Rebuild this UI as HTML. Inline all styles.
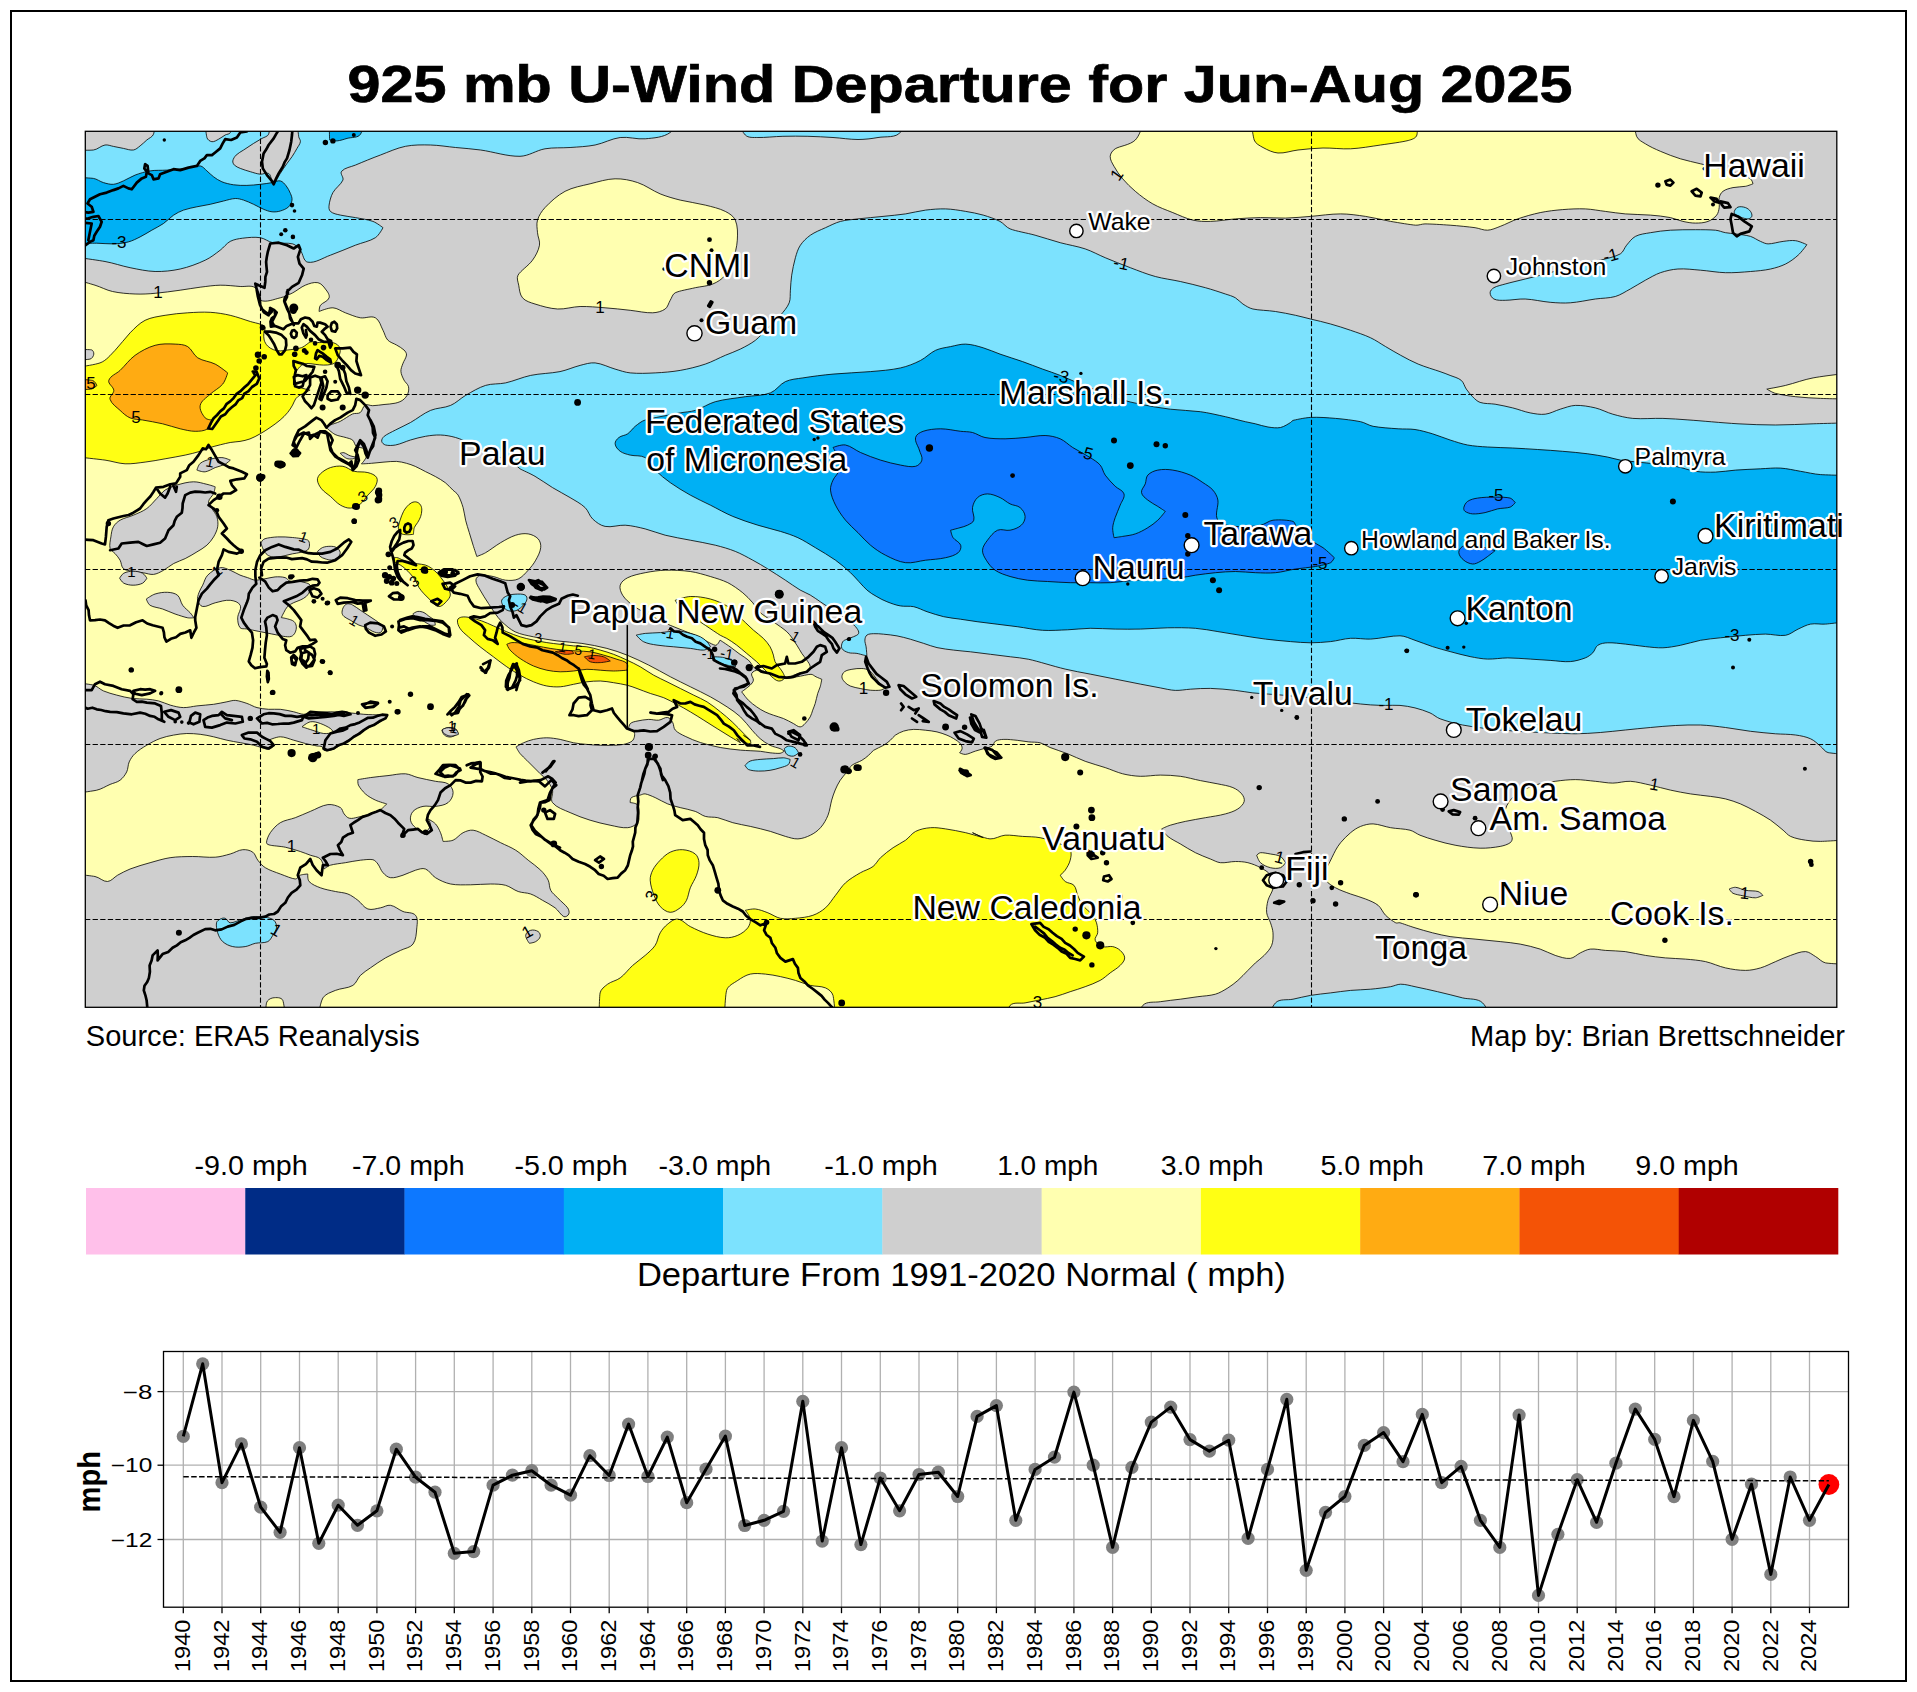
<!DOCTYPE html>
<html><head><meta charset="utf-8"><title>925 mb U-Wind Departure</title>
<style>html,body{margin:0;padding:0;background:#fff}svg{display:block}text{font-family:"Liberation Sans",sans-serif}</style></head>
<body><svg width="1917" height="1692" viewBox="0 0 1917 1692">
<rect width="1917" height="1692" fill="#fff"/>
<rect x="11" y="11" width="1895" height="1670" fill="#fff" stroke="#000" stroke-width="2"/>
<text x="347.5" y="102.4" font-family="Liberation Sans, sans-serif" font-weight="bold" font-size="52" stroke="#000" stroke-width="0.7" textLength="1225" lengthAdjust="spacingAndGlyphs">925 mb U-Wind Departure for Jun-Aug 2025</text>
<text x="85.8" y="1045.6" font-family="Liberation Sans, sans-serif" font-size="28.6" textLength="334" lengthAdjust="spacingAndGlyphs">Source: ERA5 Reanalysis</text>
<text x="1470" y="1045.6" font-family="Liberation Sans, sans-serif" font-size="28.6" textLength="375" lengthAdjust="spacingAndGlyphs">Map by: Brian Brettschneider</text>
<rect x="86.00" y="1188" width="159.57" height="66.5" fill="#ffc0ea"/>
<rect x="245.27" y="1188" width="159.57" height="66.5" fill="#002c86"/>
<rect x="404.55" y="1188" width="159.57" height="66.5" fill="#0d78ff"/>
<rect x="563.82" y="1188" width="159.57" height="66.5" fill="#00b0f4"/>
<rect x="723.09" y="1188" width="159.57" height="66.5" fill="#7ce2fe"/>
<rect x="882.36" y="1188" width="159.57" height="66.5" fill="#cfcfcf"/>
<rect x="1041.64" y="1188" width="159.57" height="66.5" fill="#ffffb0"/>
<rect x="1200.91" y="1188" width="159.57" height="66.5" fill="#ffff14"/>
<rect x="1360.18" y="1188" width="159.57" height="66.5" fill="#ffab12"/>
<rect x="1519.45" y="1188" width="159.57" height="66.5" fill="#f45306"/>
<rect x="1678.73" y="1188" width="159.57" height="66.5" fill="#b00000"/>
<text x="194.5" y="1175.4" font-family="Liberation Sans, sans-serif" font-size="27" textLength="113.2" lengthAdjust="spacingAndGlyphs">-9.0 mph</text>
<text x="352.1" y="1175.4" font-family="Liberation Sans, sans-serif" font-size="27" textLength="112.5" lengthAdjust="spacingAndGlyphs">-7.0 mph</text>
<text x="514.4" y="1175.4" font-family="Liberation Sans, sans-serif" font-size="27" textLength="113.2" lengthAdjust="spacingAndGlyphs">-5.0 mph</text>
<text x="658.6" y="1175.4" font-family="Liberation Sans, sans-serif" font-size="27" textLength="112.6" lengthAdjust="spacingAndGlyphs">-3.0 mph</text>
<text x="824.2" y="1175.4" font-family="Liberation Sans, sans-serif" font-size="27" textLength="113.6" lengthAdjust="spacingAndGlyphs">-1.0 mph</text>
<text x="997.2" y="1175.4" font-family="Liberation Sans, sans-serif" font-size="27" textLength="101.2" lengthAdjust="spacingAndGlyphs">1.0 mph</text>
<text x="1160.8" y="1175.4" font-family="Liberation Sans, sans-serif" font-size="27" textLength="102.8" lengthAdjust="spacingAndGlyphs">3.0 mph</text>
<text x="1320.4" y="1175.4" font-family="Liberation Sans, sans-serif" font-size="27" textLength="103.5" lengthAdjust="spacingAndGlyphs">5.0 mph</text>
<text x="1482.3" y="1175.4" font-family="Liberation Sans, sans-serif" font-size="27" textLength="103.5" lengthAdjust="spacingAndGlyphs">7.0 mph</text>
<text x="1635.3" y="1175.4" font-family="Liberation Sans, sans-serif" font-size="27" textLength="103.5" lengthAdjust="spacingAndGlyphs">9.0 mph</text>
<text x="636.9" y="1285.9" font-family="Liberation Sans, sans-serif" font-size="32.6" textLength="649" lengthAdjust="spacingAndGlyphs" xml:space="preserve">Departure From 1991-2020 Normal ( mph)</text>
<rect x="163.5" y="1351.5" width="1685.0" height="255.70000000000005" fill="#fff"/>
<line x1="183.3" y1="1351.5" x2="183.3" y2="1607.2" stroke="#b0b0b0" stroke-width="1.3"/>
<line x1="183.3" y1="1607.2" x2="183.3" y2="1613.2" stroke="#000" stroke-width="1.3"/>
<line x1="222.0" y1="1351.5" x2="222.0" y2="1607.2" stroke="#b0b0b0" stroke-width="1.3"/>
<line x1="222.0" y1="1607.2" x2="222.0" y2="1613.2" stroke="#000" stroke-width="1.3"/>
<line x1="260.7" y1="1351.5" x2="260.7" y2="1607.2" stroke="#b0b0b0" stroke-width="1.3"/>
<line x1="260.7" y1="1607.2" x2="260.7" y2="1613.2" stroke="#000" stroke-width="1.3"/>
<line x1="299.5" y1="1351.5" x2="299.5" y2="1607.2" stroke="#b0b0b0" stroke-width="1.3"/>
<line x1="299.5" y1="1607.2" x2="299.5" y2="1613.2" stroke="#000" stroke-width="1.3"/>
<line x1="338.2" y1="1351.5" x2="338.2" y2="1607.2" stroke="#b0b0b0" stroke-width="1.3"/>
<line x1="338.2" y1="1607.2" x2="338.2" y2="1613.2" stroke="#000" stroke-width="1.3"/>
<line x1="376.9" y1="1351.5" x2="376.9" y2="1607.2" stroke="#b0b0b0" stroke-width="1.3"/>
<line x1="376.9" y1="1607.2" x2="376.9" y2="1613.2" stroke="#000" stroke-width="1.3"/>
<line x1="415.6" y1="1351.5" x2="415.6" y2="1607.2" stroke="#b0b0b0" stroke-width="1.3"/>
<line x1="415.6" y1="1607.2" x2="415.6" y2="1613.2" stroke="#000" stroke-width="1.3"/>
<line x1="454.3" y1="1351.5" x2="454.3" y2="1607.2" stroke="#b0b0b0" stroke-width="1.3"/>
<line x1="454.3" y1="1607.2" x2="454.3" y2="1613.2" stroke="#000" stroke-width="1.3"/>
<line x1="493.1" y1="1351.5" x2="493.1" y2="1607.2" stroke="#b0b0b0" stroke-width="1.3"/>
<line x1="493.1" y1="1607.2" x2="493.1" y2="1613.2" stroke="#000" stroke-width="1.3"/>
<line x1="531.8" y1="1351.5" x2="531.8" y2="1607.2" stroke="#b0b0b0" stroke-width="1.3"/>
<line x1="531.8" y1="1607.2" x2="531.8" y2="1613.2" stroke="#000" stroke-width="1.3"/>
<line x1="570.5" y1="1351.5" x2="570.5" y2="1607.2" stroke="#b0b0b0" stroke-width="1.3"/>
<line x1="570.5" y1="1607.2" x2="570.5" y2="1613.2" stroke="#000" stroke-width="1.3"/>
<line x1="609.2" y1="1351.5" x2="609.2" y2="1607.2" stroke="#b0b0b0" stroke-width="1.3"/>
<line x1="609.2" y1="1607.2" x2="609.2" y2="1613.2" stroke="#000" stroke-width="1.3"/>
<line x1="647.9" y1="1351.5" x2="647.9" y2="1607.2" stroke="#b0b0b0" stroke-width="1.3"/>
<line x1="647.9" y1="1607.2" x2="647.9" y2="1613.2" stroke="#000" stroke-width="1.3"/>
<line x1="686.7" y1="1351.5" x2="686.7" y2="1607.2" stroke="#b0b0b0" stroke-width="1.3"/>
<line x1="686.7" y1="1607.2" x2="686.7" y2="1613.2" stroke="#000" stroke-width="1.3"/>
<line x1="725.4" y1="1351.5" x2="725.4" y2="1607.2" stroke="#b0b0b0" stroke-width="1.3"/>
<line x1="725.4" y1="1607.2" x2="725.4" y2="1613.2" stroke="#000" stroke-width="1.3"/>
<line x1="764.1" y1="1351.5" x2="764.1" y2="1607.2" stroke="#b0b0b0" stroke-width="1.3"/>
<line x1="764.1" y1="1607.2" x2="764.1" y2="1613.2" stroke="#000" stroke-width="1.3"/>
<line x1="802.8" y1="1351.5" x2="802.8" y2="1607.2" stroke="#b0b0b0" stroke-width="1.3"/>
<line x1="802.8" y1="1607.2" x2="802.8" y2="1613.2" stroke="#000" stroke-width="1.3"/>
<line x1="841.5" y1="1351.5" x2="841.5" y2="1607.2" stroke="#b0b0b0" stroke-width="1.3"/>
<line x1="841.5" y1="1607.2" x2="841.5" y2="1613.2" stroke="#000" stroke-width="1.3"/>
<line x1="880.3" y1="1351.5" x2="880.3" y2="1607.2" stroke="#b0b0b0" stroke-width="1.3"/>
<line x1="880.3" y1="1607.2" x2="880.3" y2="1613.2" stroke="#000" stroke-width="1.3"/>
<line x1="919.0" y1="1351.5" x2="919.0" y2="1607.2" stroke="#b0b0b0" stroke-width="1.3"/>
<line x1="919.0" y1="1607.2" x2="919.0" y2="1613.2" stroke="#000" stroke-width="1.3"/>
<line x1="957.7" y1="1351.5" x2="957.7" y2="1607.2" stroke="#b0b0b0" stroke-width="1.3"/>
<line x1="957.7" y1="1607.2" x2="957.7" y2="1613.2" stroke="#000" stroke-width="1.3"/>
<line x1="996.4" y1="1351.5" x2="996.4" y2="1607.2" stroke="#b0b0b0" stroke-width="1.3"/>
<line x1="996.4" y1="1607.2" x2="996.4" y2="1613.2" stroke="#000" stroke-width="1.3"/>
<line x1="1035.1" y1="1351.5" x2="1035.1" y2="1607.2" stroke="#b0b0b0" stroke-width="1.3"/>
<line x1="1035.1" y1="1607.2" x2="1035.1" y2="1613.2" stroke="#000" stroke-width="1.3"/>
<line x1="1073.9" y1="1351.5" x2="1073.9" y2="1607.2" stroke="#b0b0b0" stroke-width="1.3"/>
<line x1="1073.9" y1="1607.2" x2="1073.9" y2="1613.2" stroke="#000" stroke-width="1.3"/>
<line x1="1112.6" y1="1351.5" x2="1112.6" y2="1607.2" stroke="#b0b0b0" stroke-width="1.3"/>
<line x1="1112.6" y1="1607.2" x2="1112.6" y2="1613.2" stroke="#000" stroke-width="1.3"/>
<line x1="1151.3" y1="1351.5" x2="1151.3" y2="1607.2" stroke="#b0b0b0" stroke-width="1.3"/>
<line x1="1151.3" y1="1607.2" x2="1151.3" y2="1613.2" stroke="#000" stroke-width="1.3"/>
<line x1="1190.0" y1="1351.5" x2="1190.0" y2="1607.2" stroke="#b0b0b0" stroke-width="1.3"/>
<line x1="1190.0" y1="1607.2" x2="1190.0" y2="1613.2" stroke="#000" stroke-width="1.3"/>
<line x1="1228.7" y1="1351.5" x2="1228.7" y2="1607.2" stroke="#b0b0b0" stroke-width="1.3"/>
<line x1="1228.7" y1="1607.2" x2="1228.7" y2="1613.2" stroke="#000" stroke-width="1.3"/>
<line x1="1267.5" y1="1351.5" x2="1267.5" y2="1607.2" stroke="#b0b0b0" stroke-width="1.3"/>
<line x1="1267.5" y1="1607.2" x2="1267.5" y2="1613.2" stroke="#000" stroke-width="1.3"/>
<line x1="1306.2" y1="1351.5" x2="1306.2" y2="1607.2" stroke="#b0b0b0" stroke-width="1.3"/>
<line x1="1306.2" y1="1607.2" x2="1306.2" y2="1613.2" stroke="#000" stroke-width="1.3"/>
<line x1="1344.9" y1="1351.5" x2="1344.9" y2="1607.2" stroke="#b0b0b0" stroke-width="1.3"/>
<line x1="1344.9" y1="1607.2" x2="1344.9" y2="1613.2" stroke="#000" stroke-width="1.3"/>
<line x1="1383.6" y1="1351.5" x2="1383.6" y2="1607.2" stroke="#b0b0b0" stroke-width="1.3"/>
<line x1="1383.6" y1="1607.2" x2="1383.6" y2="1613.2" stroke="#000" stroke-width="1.3"/>
<line x1="1422.3" y1="1351.5" x2="1422.3" y2="1607.2" stroke="#b0b0b0" stroke-width="1.3"/>
<line x1="1422.3" y1="1607.2" x2="1422.3" y2="1613.2" stroke="#000" stroke-width="1.3"/>
<line x1="1461.1" y1="1351.5" x2="1461.1" y2="1607.2" stroke="#b0b0b0" stroke-width="1.3"/>
<line x1="1461.1" y1="1607.2" x2="1461.1" y2="1613.2" stroke="#000" stroke-width="1.3"/>
<line x1="1499.8" y1="1351.5" x2="1499.8" y2="1607.2" stroke="#b0b0b0" stroke-width="1.3"/>
<line x1="1499.8" y1="1607.2" x2="1499.8" y2="1613.2" stroke="#000" stroke-width="1.3"/>
<line x1="1538.5" y1="1351.5" x2="1538.5" y2="1607.2" stroke="#b0b0b0" stroke-width="1.3"/>
<line x1="1538.5" y1="1607.2" x2="1538.5" y2="1613.2" stroke="#000" stroke-width="1.3"/>
<line x1="1577.2" y1="1351.5" x2="1577.2" y2="1607.2" stroke="#b0b0b0" stroke-width="1.3"/>
<line x1="1577.2" y1="1607.2" x2="1577.2" y2="1613.2" stroke="#000" stroke-width="1.3"/>
<line x1="1615.9" y1="1351.5" x2="1615.9" y2="1607.2" stroke="#b0b0b0" stroke-width="1.3"/>
<line x1="1615.9" y1="1607.2" x2="1615.9" y2="1613.2" stroke="#000" stroke-width="1.3"/>
<line x1="1654.7" y1="1351.5" x2="1654.7" y2="1607.2" stroke="#b0b0b0" stroke-width="1.3"/>
<line x1="1654.7" y1="1607.2" x2="1654.7" y2="1613.2" stroke="#000" stroke-width="1.3"/>
<line x1="1693.4" y1="1351.5" x2="1693.4" y2="1607.2" stroke="#b0b0b0" stroke-width="1.3"/>
<line x1="1693.4" y1="1607.2" x2="1693.4" y2="1613.2" stroke="#000" stroke-width="1.3"/>
<line x1="1732.1" y1="1351.5" x2="1732.1" y2="1607.2" stroke="#b0b0b0" stroke-width="1.3"/>
<line x1="1732.1" y1="1607.2" x2="1732.1" y2="1613.2" stroke="#000" stroke-width="1.3"/>
<line x1="1770.8" y1="1351.5" x2="1770.8" y2="1607.2" stroke="#b0b0b0" stroke-width="1.3"/>
<line x1="1770.8" y1="1607.2" x2="1770.8" y2="1613.2" stroke="#000" stroke-width="1.3"/>
<line x1="1809.5" y1="1351.5" x2="1809.5" y2="1607.2" stroke="#b0b0b0" stroke-width="1.3"/>
<line x1="1809.5" y1="1607.2" x2="1809.5" y2="1613.2" stroke="#000" stroke-width="1.3"/>
<line x1="163.5" y1="1391.6" x2="1848.5" y2="1391.6" stroke="#b0b0b0" stroke-width="1.3"/>
<line x1="157.5" y1="1391.6" x2="163.5" y2="1391.6" stroke="#000" stroke-width="1.3"/>
<line x1="163.5" y1="1465.2" x2="1848.5" y2="1465.2" stroke="#b0b0b0" stroke-width="1.3"/>
<line x1="157.5" y1="1465.2" x2="163.5" y2="1465.2" stroke="#000" stroke-width="1.3"/>
<line x1="163.5" y1="1539.5" x2="1848.5" y2="1539.5" stroke="#b0b0b0" stroke-width="1.3"/>
<line x1="157.5" y1="1539.5" x2="163.5" y2="1539.5" stroke="#000" stroke-width="1.3"/>
<circle cx="183.3" cy="1436.4" r="6.6" fill="#7f7f7f"/>
<circle cx="202.7" cy="1363.8" r="6.6" fill="#7f7f7f"/>
<circle cx="222.0" cy="1482.7" r="6.6" fill="#7f7f7f"/>
<circle cx="241.4" cy="1443.9" r="6.6" fill="#7f7f7f"/>
<circle cx="260.7" cy="1507.2" r="6.6" fill="#7f7f7f"/>
<circle cx="280.1" cy="1532.3" r="6.6" fill="#7f7f7f"/>
<circle cx="299.5" cy="1447.7" r="6.6" fill="#7f7f7f"/>
<circle cx="318.8" cy="1543.3" r="6.6" fill="#7f7f7f"/>
<circle cx="338.2" cy="1505.2" r="6.6" fill="#7f7f7f"/>
<circle cx="357.5" cy="1525.3" r="6.6" fill="#7f7f7f"/>
<circle cx="376.9" cy="1510.8" r="6.6" fill="#7f7f7f"/>
<circle cx="396.3" cy="1449.2" r="6.6" fill="#7f7f7f"/>
<circle cx="415.6" cy="1477.2" r="6.6" fill="#7f7f7f"/>
<circle cx="435.0" cy="1492.2" r="6.6" fill="#7f7f7f"/>
<circle cx="454.3" cy="1553.3" r="6.6" fill="#7f7f7f"/>
<circle cx="473.7" cy="1551.6" r="6.6" fill="#7f7f7f"/>
<circle cx="493.1" cy="1485.2" r="6.6" fill="#7f7f7f"/>
<circle cx="512.4" cy="1475.2" r="6.6" fill="#7f7f7f"/>
<circle cx="531.8" cy="1470.7" r="6.6" fill="#7f7f7f"/>
<circle cx="551.1" cy="1485.2" r="6.6" fill="#7f7f7f"/>
<circle cx="570.5" cy="1495.2" r="6.6" fill="#7f7f7f"/>
<circle cx="589.9" cy="1455.7" r="6.6" fill="#7f7f7f"/>
<circle cx="609.2" cy="1475.5" r="6.6" fill="#7f7f7f"/>
<circle cx="628.6" cy="1424.1" r="6.6" fill="#7f7f7f"/>
<circle cx="647.9" cy="1476.5" r="6.6" fill="#7f7f7f"/>
<circle cx="667.3" cy="1437.1" r="6.6" fill="#7f7f7f"/>
<circle cx="686.7" cy="1502.7" r="6.6" fill="#7f7f7f"/>
<circle cx="706.0" cy="1469.2" r="6.6" fill="#7f7f7f"/>
<circle cx="725.4" cy="1436.1" r="6.6" fill="#7f7f7f"/>
<circle cx="744.7" cy="1525.5" r="6.6" fill="#7f7f7f"/>
<circle cx="764.1" cy="1520.3" r="6.6" fill="#7f7f7f"/>
<circle cx="783.5" cy="1511.3" r="6.6" fill="#7f7f7f"/>
<circle cx="802.8" cy="1401.3" r="6.6" fill="#7f7f7f"/>
<circle cx="822.2" cy="1541.1" r="6.6" fill="#7f7f7f"/>
<circle cx="841.5" cy="1447.7" r="6.6" fill="#7f7f7f"/>
<circle cx="860.9" cy="1544.6" r="6.6" fill="#7f7f7f"/>
<circle cx="880.3" cy="1478.0" r="6.6" fill="#7f7f7f"/>
<circle cx="899.6" cy="1510.8" r="6.6" fill="#7f7f7f"/>
<circle cx="919.0" cy="1474.5" r="6.6" fill="#7f7f7f"/>
<circle cx="938.3" cy="1472.2" r="6.6" fill="#7f7f7f"/>
<circle cx="957.7" cy="1496.5" r="6.6" fill="#7f7f7f"/>
<circle cx="977.1" cy="1416.4" r="6.6" fill="#7f7f7f"/>
<circle cx="996.4" cy="1405.6" r="6.6" fill="#7f7f7f"/>
<circle cx="1015.8" cy="1520.3" r="6.6" fill="#7f7f7f"/>
<circle cx="1035.1" cy="1469.4" r="6.6" fill="#7f7f7f"/>
<circle cx="1054.5" cy="1457.2" r="6.6" fill="#7f7f7f"/>
<circle cx="1073.9" cy="1392.1" r="6.6" fill="#7f7f7f"/>
<circle cx="1093.2" cy="1465.2" r="6.6" fill="#7f7f7f"/>
<circle cx="1112.6" cy="1547.3" r="6.6" fill="#7f7f7f"/>
<circle cx="1131.9" cy="1467.4" r="6.6" fill="#7f7f7f"/>
<circle cx="1151.3" cy="1422.1" r="6.6" fill="#7f7f7f"/>
<circle cx="1170.7" cy="1407.1" r="6.6" fill="#7f7f7f"/>
<circle cx="1190.0" cy="1439.6" r="6.6" fill="#7f7f7f"/>
<circle cx="1209.4" cy="1451.2" r="6.6" fill="#7f7f7f"/>
<circle cx="1228.7" cy="1440.2" r="6.6" fill="#7f7f7f"/>
<circle cx="1248.1" cy="1538.3" r="6.6" fill="#7f7f7f"/>
<circle cx="1267.5" cy="1469.4" r="6.6" fill="#7f7f7f"/>
<circle cx="1286.8" cy="1399.3" r="6.6" fill="#7f7f7f"/>
<circle cx="1306.2" cy="1570.3" r="6.6" fill="#7f7f7f"/>
<circle cx="1325.5" cy="1512.3" r="6.6" fill="#7f7f7f"/>
<circle cx="1344.9" cy="1496.5" r="6.6" fill="#7f7f7f"/>
<circle cx="1364.3" cy="1445.4" r="6.6" fill="#7f7f7f"/>
<circle cx="1383.6" cy="1432.6" r="6.6" fill="#7f7f7f"/>
<circle cx="1403.0" cy="1461.7" r="6.6" fill="#7f7f7f"/>
<circle cx="1422.3" cy="1414.4" r="6.6" fill="#7f7f7f"/>
<circle cx="1441.7" cy="1482.7" r="6.6" fill="#7f7f7f"/>
<circle cx="1461.1" cy="1466.4" r="6.6" fill="#7f7f7f"/>
<circle cx="1480.4" cy="1520.3" r="6.6" fill="#7f7f7f"/>
<circle cx="1499.8" cy="1547.4" r="6.6" fill="#7f7f7f"/>
<circle cx="1519.1" cy="1415.1" r="6.6" fill="#7f7f7f"/>
<circle cx="1538.5" cy="1595.4" r="6.6" fill="#7f7f7f"/>
<circle cx="1557.9" cy="1534.3" r="6.6" fill="#7f7f7f"/>
<circle cx="1577.2" cy="1479.7" r="6.6" fill="#7f7f7f"/>
<circle cx="1596.6" cy="1522.3" r="6.6" fill="#7f7f7f"/>
<circle cx="1615.9" cy="1463.2" r="6.6" fill="#7f7f7f"/>
<circle cx="1635.3" cy="1409.1" r="6.6" fill="#7f7f7f"/>
<circle cx="1654.7" cy="1439.4" r="6.6" fill="#7f7f7f"/>
<circle cx="1674.0" cy="1496.7" r="6.6" fill="#7f7f7f"/>
<circle cx="1693.4" cy="1420.4" r="6.6" fill="#7f7f7f"/>
<circle cx="1712.7" cy="1461.4" r="6.6" fill="#7f7f7f"/>
<circle cx="1732.1" cy="1539.3" r="6.6" fill="#7f7f7f"/>
<circle cx="1751.5" cy="1484.2" r="6.6" fill="#7f7f7f"/>
<circle cx="1770.8" cy="1574.4" r="6.6" fill="#7f7f7f"/>
<circle cx="1790.2" cy="1477.0" r="6.6" fill="#7f7f7f"/>
<circle cx="1809.5" cy="1520.3" r="6.6" fill="#7f7f7f"/>
<circle cx="1828.9" cy="1484.5" r="10.4" fill="#ff0000"/>
<line x1="183.3" y1="1476.7" x2="1828.9" y2="1480.8" stroke="#000" stroke-width="1.5" stroke-dasharray="5.5,2.4"/>
<polyline points="183.3,1436.4 202.7,1363.8 222.0,1482.7 241.4,1443.9 260.7,1507.2 280.1,1532.3 299.5,1447.7 318.8,1543.3 338.2,1505.2 357.5,1525.3 376.9,1510.8 396.3,1449.2 415.6,1477.2 435.0,1492.2 454.3,1553.3 473.7,1551.6 493.1,1485.2 512.4,1475.2 531.8,1470.7 551.1,1485.2 570.5,1495.2 589.9,1455.7 609.2,1475.5 628.6,1424.1 647.9,1476.5 667.3,1437.1 686.7,1502.7 706.0,1469.2 725.4,1436.1 744.7,1525.5 764.1,1520.3 783.5,1511.3 802.8,1401.3 822.2,1541.1 841.5,1447.7 860.9,1544.6 880.3,1478.0 899.6,1510.8 919.0,1474.5 938.3,1472.2 957.7,1496.5 977.1,1416.4 996.4,1405.6 1015.8,1520.3 1035.1,1469.4 1054.5,1457.2 1073.9,1392.1 1093.2,1465.2 1112.6,1547.3 1131.9,1467.4 1151.3,1422.1 1170.7,1407.1 1190.0,1439.6 1209.4,1451.2 1228.7,1440.2 1248.1,1538.3 1267.5,1469.4 1286.8,1399.3 1306.2,1570.3 1325.5,1512.3 1344.9,1496.5 1364.3,1445.4 1383.6,1432.6 1403.0,1461.7 1422.3,1414.4 1441.7,1482.7 1461.1,1466.4 1480.4,1520.3 1499.8,1547.4 1519.1,1415.1 1538.5,1595.4 1557.9,1534.3 1577.2,1479.7 1596.6,1522.3 1615.9,1463.2 1635.3,1409.1 1654.7,1439.4 1674.0,1496.7 1693.4,1420.4 1712.7,1461.4 1732.1,1539.3 1751.5,1484.2 1770.8,1574.4 1790.2,1477.0 1809.5,1520.3 1828.9,1484.5" fill="none" stroke="#000" stroke-width="3" stroke-linejoin="round"/>
<rect x="163.5" y="1351.5" width="1685.0" height="255.70000000000005" fill="none" stroke="#000" stroke-width="1.3"/>
<text transform="translate(190.0,1672) rotate(-90)" font-family="Liberation Sans, sans-serif" font-size="22.5" textLength="52.3" lengthAdjust="spacingAndGlyphs">1940</text>
<text transform="translate(228.7,1672) rotate(-90)" font-family="Liberation Sans, sans-serif" font-size="22.5" textLength="52.3" lengthAdjust="spacingAndGlyphs">1942</text>
<text transform="translate(267.4,1672) rotate(-90)" font-family="Liberation Sans, sans-serif" font-size="22.5" textLength="52.3" lengthAdjust="spacingAndGlyphs">1944</text>
<text transform="translate(306.2,1672) rotate(-90)" font-family="Liberation Sans, sans-serif" font-size="22.5" textLength="52.3" lengthAdjust="spacingAndGlyphs">1946</text>
<text transform="translate(344.9,1672) rotate(-90)" font-family="Liberation Sans, sans-serif" font-size="22.5" textLength="52.3" lengthAdjust="spacingAndGlyphs">1948</text>
<text transform="translate(383.6,1672) rotate(-90)" font-family="Liberation Sans, sans-serif" font-size="22.5" textLength="52.3" lengthAdjust="spacingAndGlyphs">1950</text>
<text transform="translate(422.3,1672) rotate(-90)" font-family="Liberation Sans, sans-serif" font-size="22.5" textLength="52.3" lengthAdjust="spacingAndGlyphs">1952</text>
<text transform="translate(461.0,1672) rotate(-90)" font-family="Liberation Sans, sans-serif" font-size="22.5" textLength="52.3" lengthAdjust="spacingAndGlyphs">1954</text>
<text transform="translate(499.8,1672) rotate(-90)" font-family="Liberation Sans, sans-serif" font-size="22.5" textLength="52.3" lengthAdjust="spacingAndGlyphs">1956</text>
<text transform="translate(538.5,1672) rotate(-90)" font-family="Liberation Sans, sans-serif" font-size="22.5" textLength="52.3" lengthAdjust="spacingAndGlyphs">1958</text>
<text transform="translate(577.2,1672) rotate(-90)" font-family="Liberation Sans, sans-serif" font-size="22.5" textLength="52.3" lengthAdjust="spacingAndGlyphs">1960</text>
<text transform="translate(615.9,1672) rotate(-90)" font-family="Liberation Sans, sans-serif" font-size="22.5" textLength="52.3" lengthAdjust="spacingAndGlyphs">1962</text>
<text transform="translate(654.6,1672) rotate(-90)" font-family="Liberation Sans, sans-serif" font-size="22.5" textLength="52.3" lengthAdjust="spacingAndGlyphs">1964</text>
<text transform="translate(693.4,1672) rotate(-90)" font-family="Liberation Sans, sans-serif" font-size="22.5" textLength="52.3" lengthAdjust="spacingAndGlyphs">1966</text>
<text transform="translate(732.1,1672) rotate(-90)" font-family="Liberation Sans, sans-serif" font-size="22.5" textLength="52.3" lengthAdjust="spacingAndGlyphs">1968</text>
<text transform="translate(770.8,1672) rotate(-90)" font-family="Liberation Sans, sans-serif" font-size="22.5" textLength="52.3" lengthAdjust="spacingAndGlyphs">1970</text>
<text transform="translate(809.5,1672) rotate(-90)" font-family="Liberation Sans, sans-serif" font-size="22.5" textLength="52.3" lengthAdjust="spacingAndGlyphs">1972</text>
<text transform="translate(848.2,1672) rotate(-90)" font-family="Liberation Sans, sans-serif" font-size="22.5" textLength="52.3" lengthAdjust="spacingAndGlyphs">1974</text>
<text transform="translate(887.0,1672) rotate(-90)" font-family="Liberation Sans, sans-serif" font-size="22.5" textLength="52.3" lengthAdjust="spacingAndGlyphs">1976</text>
<text transform="translate(925.7,1672) rotate(-90)" font-family="Liberation Sans, sans-serif" font-size="22.5" textLength="52.3" lengthAdjust="spacingAndGlyphs">1978</text>
<text transform="translate(964.4,1672) rotate(-90)" font-family="Liberation Sans, sans-serif" font-size="22.5" textLength="52.3" lengthAdjust="spacingAndGlyphs">1980</text>
<text transform="translate(1003.1,1672) rotate(-90)" font-family="Liberation Sans, sans-serif" font-size="22.5" textLength="52.3" lengthAdjust="spacingAndGlyphs">1982</text>
<text transform="translate(1041.8,1672) rotate(-90)" font-family="Liberation Sans, sans-serif" font-size="22.5" textLength="52.3" lengthAdjust="spacingAndGlyphs">1984</text>
<text transform="translate(1080.6,1672) rotate(-90)" font-family="Liberation Sans, sans-serif" font-size="22.5" textLength="52.3" lengthAdjust="spacingAndGlyphs">1986</text>
<text transform="translate(1119.3,1672) rotate(-90)" font-family="Liberation Sans, sans-serif" font-size="22.5" textLength="52.3" lengthAdjust="spacingAndGlyphs">1988</text>
<text transform="translate(1158.0,1672) rotate(-90)" font-family="Liberation Sans, sans-serif" font-size="22.5" textLength="52.3" lengthAdjust="spacingAndGlyphs">1990</text>
<text transform="translate(1196.7,1672) rotate(-90)" font-family="Liberation Sans, sans-serif" font-size="22.5" textLength="52.3" lengthAdjust="spacingAndGlyphs">1992</text>
<text transform="translate(1235.4,1672) rotate(-90)" font-family="Liberation Sans, sans-serif" font-size="22.5" textLength="52.3" lengthAdjust="spacingAndGlyphs">1994</text>
<text transform="translate(1274.2,1672) rotate(-90)" font-family="Liberation Sans, sans-serif" font-size="22.5" textLength="52.3" lengthAdjust="spacingAndGlyphs">1996</text>
<text transform="translate(1312.9,1672) rotate(-90)" font-family="Liberation Sans, sans-serif" font-size="22.5" textLength="52.3" lengthAdjust="spacingAndGlyphs">1998</text>
<text transform="translate(1351.6,1672) rotate(-90)" font-family="Liberation Sans, sans-serif" font-size="22.5" textLength="52.3" lengthAdjust="spacingAndGlyphs">2000</text>
<text transform="translate(1390.3,1672) rotate(-90)" font-family="Liberation Sans, sans-serif" font-size="22.5" textLength="52.3" lengthAdjust="spacingAndGlyphs">2002</text>
<text transform="translate(1429.0,1672) rotate(-90)" font-family="Liberation Sans, sans-serif" font-size="22.5" textLength="52.3" lengthAdjust="spacingAndGlyphs">2004</text>
<text transform="translate(1467.8,1672) rotate(-90)" font-family="Liberation Sans, sans-serif" font-size="22.5" textLength="52.3" lengthAdjust="spacingAndGlyphs">2006</text>
<text transform="translate(1506.5,1672) rotate(-90)" font-family="Liberation Sans, sans-serif" font-size="22.5" textLength="52.3" lengthAdjust="spacingAndGlyphs">2008</text>
<text transform="translate(1545.2,1672) rotate(-90)" font-family="Liberation Sans, sans-serif" font-size="22.5" textLength="52.3" lengthAdjust="spacingAndGlyphs">2010</text>
<text transform="translate(1583.9,1672) rotate(-90)" font-family="Liberation Sans, sans-serif" font-size="22.5" textLength="52.3" lengthAdjust="spacingAndGlyphs">2012</text>
<text transform="translate(1622.6,1672) rotate(-90)" font-family="Liberation Sans, sans-serif" font-size="22.5" textLength="52.3" lengthAdjust="spacingAndGlyphs">2014</text>
<text transform="translate(1661.4,1672) rotate(-90)" font-family="Liberation Sans, sans-serif" font-size="22.5" textLength="52.3" lengthAdjust="spacingAndGlyphs">2016</text>
<text transform="translate(1700.1,1672) rotate(-90)" font-family="Liberation Sans, sans-serif" font-size="22.5" textLength="52.3" lengthAdjust="spacingAndGlyphs">2018</text>
<text transform="translate(1738.8,1672) rotate(-90)" font-family="Liberation Sans, sans-serif" font-size="22.5" textLength="52.3" lengthAdjust="spacingAndGlyphs">2020</text>
<text transform="translate(1777.5,1672) rotate(-90)" font-family="Liberation Sans, sans-serif" font-size="22.5" textLength="52.3" lengthAdjust="spacingAndGlyphs">2022</text>
<text transform="translate(1816.2,1672) rotate(-90)" font-family="Liberation Sans, sans-serif" font-size="22.5" textLength="52.3" lengthAdjust="spacingAndGlyphs">2024</text>
<text x="122.80000000000001" y="1398.6" font-family="Liberation Sans, sans-serif" font-size="19.4" textLength="29.5" lengthAdjust="spacingAndGlyphs">−8</text>
<text x="110.80000000000001" y="1472.2" font-family="Liberation Sans, sans-serif" font-size="19.4" textLength="41.5" lengthAdjust="spacingAndGlyphs">−10</text>
<text x="110.80000000000001" y="1546.5" font-family="Liberation Sans, sans-serif" font-size="19.4" textLength="41.5" lengthAdjust="spacingAndGlyphs">−12</text>
<text transform="translate(99.5,1512.5) rotate(-90)" font-family="Liberation Sans, sans-serif" font-size="30.5" font-weight="bold" textLength="61.5" lengthAdjust="spacingAndGlyphs">mph</text>
<defs><clipPath id="mc"><rect x="85.3" y="131.3" width="1751.5" height="876"/></clipPath></defs>
<g clip-path="url(#mc)">
<rect x="85" y="131" width="1752" height="877" fill="#cfcfcf"/>
<path d="M60.0,106.0 C60.0,106.0 690.0,106.0 690.0,106.0 C690.0,106.0 679.0,126.1 670.2,132.5 C663.3,137.5 653.7,138.0 645.2,138.8 C637.0,139.6 628.4,136.5 620.2,137.5 C611.6,138.6 603.6,143.3 595.1,145.0 C587.0,146.6 578.4,146.9 570.1,147.5 C561.8,148.1 553.2,147.4 545.0,148.8 C536.5,150.3 528.6,156.1 520.0,156.3 C506.8,156.5 493.6,151.8 480.6,150.0 C472.4,148.9 463.9,148.3 455.6,147.5 C447.3,146.7 438.8,145.2 430.5,145.0 C422.2,144.8 413.6,144.7 405.5,146.3 C396.9,148.0 388.7,151.9 380.5,155.0 C372.1,158.1 362.8,162.0 355.4,165.1 C350.8,167.0 344.6,167.7 341.6,171.3 C339.7,173.6 344.0,177.4 342.9,180.1 C341.1,184.4 335.5,188.0 332.9,192.6 C330.8,196.4 329.5,201.7 329.1,205.1 C328.8,207.2 328.8,210.0 330.4,211.4 C332.9,213.7 337.0,214.3 340.4,215.1 C345.3,216.3 350.5,216.6 355.4,217.6 C361.2,218.7 367.4,219.4 372.9,221.4 C376.6,222.7 383.0,227.7 383.0,227.7 C383.0,227.7 378.9,235.5 375.4,237.7 C369.8,241.3 362.0,242.6 355.4,245.2 C347.1,248.4 338.8,252.2 330.4,255.2 C323.0,257.8 315.2,263.4 307.8,262.2 C303.2,261.4 303.3,253.8 300.3,250.2 C298.3,247.7 295.9,244.8 292.8,243.9 C287.8,242.5 279.3,243.9 272.8,242.7 C268.4,241.9 264.7,238.4 260.3,237.7 C254.6,236.8 248.5,237.5 242.7,238.2 C238.5,238.7 234.0,239.4 230.2,241.4 C226.3,243.5 223.7,247.6 220.2,250.2 C215.4,253.8 210.6,257.7 205.2,260.2 C197.3,263.9 188.7,267.1 180.2,269.0 C172.1,270.8 163.4,271.7 155.1,271.5 C146.8,271.3 138.3,269.3 130.1,267.7 C121.7,266.0 113.4,263.0 105.0,261.5 C91.6,259.1 60.0,255.2 60.0,255.2 C60.0,255.2 60.0,106.0 60.0,106.0Z" fill="#7ce2fe" stroke="#000" stroke-width="0.8"/>
<path d="M727.8,106.0 C727.8,106.0 740.6,130.1 745.3,135.0 C748.2,138.1 753.7,137.4 757.9,137.5 C764.7,137.7 774.6,136.5 782.9,136.3 C791.1,136.1 799.7,136.1 807.9,136.3 C816.2,136.5 824.7,137.0 833.0,137.5 C841.3,138.0 849.7,139.5 858.0,139.5 C864.6,139.5 871.5,138.7 878.0,137.5 C885.6,136.2 896.1,138.2 900.6,132.0 C905.7,125.1 901.0,106.0 901.0,106.0 C901.0,106.0 727.8,106.0 727.8,106.0Z" fill="#7ce2fe" stroke="#000" stroke-width="0.8"/>
<path d="M381.7,441.3 C381.4,439.5 382.8,437.5 384.2,436.3 C386.5,434.4 391.7,432.0 395.5,430.0 C400.4,427.4 405.7,425.2 410.5,422.5 C417.2,418.7 423.4,413.4 430.5,410.4 C436.8,407.7 444.3,408.1 450.6,405.4 C456.1,403.1 460.4,398.4 465.6,395.4 C472.0,391.7 478.6,387.6 485.6,385.4 C491.9,383.4 499.1,384.3 505.6,382.9 C514.0,381.0 522.2,377.2 530.7,375.4 C540.2,373.4 550.4,373.5 560.0,371.6 C566.8,370.2 573.4,367.1 580.1,365.4 C585.0,364.2 590.1,362.4 595.1,362.9 C602.0,363.6 608.5,367.2 615.1,369.1 C620.0,370.5 625.1,372.4 630.2,372.9 C638.4,373.7 647.0,373.3 655.2,372.9 C663.5,372.5 672.0,371.8 680.2,370.4 C688.6,368.9 697.2,366.8 705.3,364.1 C712.1,361.8 718.7,358.1 725.3,355.3 C730.2,353.2 735.5,351.5 740.3,349.1 C745.5,346.5 750.8,343.8 755.4,340.3 C760.0,336.7 763.8,331.9 767.9,327.8 C772.0,323.7 776.6,319.7 780.4,315.3 C783.7,311.5 787.3,307.5 789.2,302.8 C790.7,298.9 790.0,294.4 790.4,290.2 C790.8,285.3 790.9,280.1 791.7,275.2 C792.6,269.4 793.8,263.4 795.4,257.7 C796.6,253.4 797.9,248.9 800.4,245.2 C803.0,241.3 806.6,237.9 810.4,235.2 C815.0,232.0 820.4,230.0 825.5,227.7 C830.4,225.5 835.3,222.8 840.5,221.4 C846.1,219.9 852.2,219.6 858.0,218.9 C866.2,217.9 874.8,217.3 883.0,216.4 C890.5,215.6 898.2,215.0 905.6,213.9 C912.2,212.9 918.9,210.9 925.6,210.1 C932.2,209.3 939.0,208.7 945.6,208.9 C952.3,209.1 959.1,210.3 965.7,211.4 C971.5,212.4 977.5,213.4 983.2,215.1 C988.9,216.8 994.7,218.7 1000.0,221.4 C1003.7,223.3 1006.2,227.4 1010.1,228.9 C1016.3,231.3 1026.9,232.9 1035.1,235.2 C1043.4,237.5 1051.9,240.4 1060.2,242.7 C1068.4,244.9 1077.1,246.2 1085.2,248.9 C1092.0,251.2 1098.5,254.9 1105.2,257.7 C1113.4,261.1 1122.0,264.6 1130.3,267.7 C1138.5,270.8 1146.9,274.2 1155.3,276.5 C1163.4,278.7 1172.1,279.7 1180.3,281.5 C1188.6,283.4 1197.2,285.4 1205.4,287.7 C1212.1,289.5 1220.0,292.2 1225.4,294.0 C1228.7,295.1 1232.3,296.0 1235.4,297.8 C1238.2,299.4 1240.2,302.3 1242.9,304.0 C1246.0,306.0 1249.3,308.2 1252.9,309.0 C1258.7,310.3 1268.1,310.4 1275.5,311.5 C1282.1,312.5 1288.9,313.9 1295.5,315.3 C1300.5,316.4 1305.6,317.8 1310.5,319.0 C1317.1,320.6 1324.0,322.1 1330.6,324.0 C1337.3,325.9 1344.1,328.0 1350.6,330.3 C1357.3,332.6 1364.2,334.8 1370.6,337.8 C1375.8,340.2 1380.6,343.7 1385.6,346.6 C1390.6,349.5 1395.6,352.6 1400.7,355.3 C1406.4,358.4 1412.2,361.6 1418.2,364.1 C1425.2,367.0 1434.6,369.7 1440.0,371.6 C1443.4,372.8 1446.8,374.0 1450.1,375.4 C1453.8,376.9 1458.2,377.8 1461.3,380.4 C1463.8,382.5 1464.4,386.4 1466.3,389.1 C1468.2,391.8 1470.3,394.4 1472.6,396.7 C1474.8,398.9 1477.2,401.4 1480.1,402.4 C1484.8,404.0 1490.2,403.4 1495.1,404.2 C1501.0,405.2 1506.9,406.5 1512.7,407.9 C1518.5,409.3 1524.3,411.8 1530.2,412.9 C1535.1,413.8 1540.3,414.8 1545.2,414.2 C1550.4,413.6 1555.2,410.7 1560.2,409.2 C1565.1,407.8 1570.2,405.6 1575.3,405.4 C1581.9,405.2 1588.8,406.4 1595.3,407.9 C1601.3,409.3 1606.9,412.5 1612.8,414.2 C1619.3,416.0 1626.1,417.8 1632.8,418.4 C1642.7,419.2 1653.0,418.1 1662.9,418.4 C1671.2,418.6 1679.7,419.3 1687.9,419.9 C1701.1,420.8 1721.4,422.8 1738.0,423.8 C1750.4,424.5 1763.2,425.0 1775.6,425.0 C1788.0,425.0 1800.7,424.2 1813.1,423.8 C1829.2,423.3 1862.0,422.5 1862.0,422.5 C1862.0,422.5 1862.0,541.4 1862.0,600.0 C1862.0,651.3 1862.0,755.6 1862.0,755.6 C1862.0,755.6 1833.1,753.7 1828.1,752.6 C1824.9,751.9 1823.1,748.3 1820.6,746.3 C1817.4,743.7 1814.4,740.5 1810.6,738.8 C1805.9,736.7 1800.7,735.7 1795.6,735.0 C1789.1,734.1 1782.2,734.3 1775.6,733.8 C1767.3,733.1 1758.8,732.3 1750.5,731.3 C1742.2,730.3 1733.8,728.5 1725.5,727.5 C1717.3,726.5 1708.8,725.3 1700.5,725.0 C1692.2,724.7 1683.7,725.1 1675.4,725.5 C1667.1,725.9 1658.6,726.8 1650.4,727.5 C1642.1,728.2 1633.6,729.2 1625.3,730.0 C1617.0,730.8 1608.6,731.9 1600.3,732.5 C1592.1,733.1 1583.6,733.8 1575.3,733.8 C1563.7,733.8 1551.8,733.1 1540.2,732.5 C1527.0,731.8 1513.4,731.3 1500.2,730.0 C1487.7,728.8 1474.7,727.3 1462.6,725.0 C1455.0,723.6 1445.9,720.9 1440.1,718.8 C1436.5,717.5 1433.5,714.4 1430.0,712.9 C1425.2,710.8 1420.1,709.2 1415.0,707.9 C1410.1,706.7 1405.0,705.8 1400.0,705.4 C1395.3,705.0 1390.4,705.5 1385.6,705.4 C1380.6,705.3 1375.5,705.3 1370.6,704.9 C1364.0,704.4 1357.2,703.7 1350.6,702.9 C1341.5,701.8 1332.1,700.3 1323.0,699.2 C1310.6,697.8 1297.9,696.5 1285.5,695.4 C1274.8,694.4 1262.2,693.8 1252.9,692.9 C1247.1,692.3 1241.2,691.0 1235.4,690.4 C1227.2,689.5 1218.7,688.6 1210.4,688.4 C1203.8,688.2 1196.9,688.8 1190.3,689.2 C1185.3,689.5 1180.3,690.6 1175.3,690.4 C1170.3,690.2 1165.2,688.8 1160.3,687.9 C1153.7,686.7 1146.9,685.4 1140.3,684.1 C1132.0,682.5 1123.5,680.8 1115.2,679.1 C1106.9,677.5 1098.5,675.8 1090.2,674.1 C1082.0,672.5 1073.4,671.1 1065.2,669.1 C1053.1,666.2 1038.3,661.4 1028.8,659.3 C1022.9,658.0 1016.5,657.6 1010.5,656.8 C1003.9,655.9 997.1,655.1 990.5,654.3 C983.9,653.5 977.0,652.6 970.4,651.8 C964.9,651.2 959.2,650.8 953.7,650.1 C948.2,649.4 942.4,648.8 937.0,647.6 C932.5,646.6 928.1,644.8 923.7,643.4 C919.3,642.0 914.8,640.5 910.3,639.2 C905.9,638.0 901.4,636.7 897.0,635.9 C892.6,635.1 888.0,634.6 883.6,634.2 C880.3,633.9 876.9,633.5 873.6,633.7 C871.3,633.8 868.7,633.8 866.9,635.1 C865.5,636.2 865.0,638.3 864.9,640.1 C864.7,642.3 865.8,644.6 866.1,646.8 C866.5,649.8 866.9,655.9 866.9,655.9 C866.9,655.9 864.7,655.4 863.6,655.1 C861.9,654.7 859.2,653.8 856.9,653.4 C854.2,652.9 851.1,653.5 848.5,652.6 C846.1,651.8 843.1,650.7 841.9,648.4 C840.9,646.5 841.7,643.7 842.7,641.8 C843.5,640.4 845.4,639.9 846.9,639.2 C849.0,638.2 851.5,637.7 853.6,636.7 C855.4,635.8 857.9,635.2 858.6,633.4 C859.2,631.8 857.9,629.8 856.9,628.4 C855.3,626.1 852.6,623.7 850.2,621.7 C847.1,619.2 843.5,617.2 840.2,615.0 C836.9,612.8 833.5,610.6 830.2,608.4 C826.9,606.2 823.5,603.9 820.2,601.7 C816.9,599.5 813.6,597.0 810.2,595.0 C807.0,593.1 803.3,591.9 800.1,590.0 C795.1,587.0 790.3,583.4 785.4,580.2 C779.7,576.5 773.7,572.6 767.9,569.0 C763.0,566.0 757.9,562.9 752.8,560.2 C747.1,557.1 741.3,553.8 735.3,551.4 C728.9,548.8 722.0,546.9 715.3,545.2 C707.1,543.2 698.6,541.8 690.3,540.2 C682.0,538.5 673.4,537.3 665.2,535.2 C658.5,533.5 651.9,530.6 645.2,528.9 C638.7,527.3 631.9,525.6 625.2,525.2 C618.6,524.8 611.6,527.7 605.1,526.4 C600.4,525.5 596.1,522.2 592.6,518.9 C589.3,515.8 588.4,510.7 585.1,507.6 C580.8,503.5 575.2,500.7 570.1,497.6 C564.4,494.1 558.2,491.1 552.5,487.6 C546.6,484.0 541.0,479.7 535.0,476.3 C530.2,473.5 522.6,470.3 520.0,468.8 C518.4,467.9 517.3,466.0 515.7,465.1 C513.1,463.6 505.7,459.7 500.6,457.6 C495.8,455.6 490.3,454.7 485.6,452.5 C480.4,450.1 475.7,446.4 470.6,443.8 C465.8,441.4 460.8,439.0 455.6,437.5 C450.8,436.1 445.5,435.2 440.5,435.0 C435.5,434.8 430.4,435.5 425.5,436.3 C420.5,437.1 415.4,438.6 410.5,440.0 C405.5,441.5 400.6,444.0 395.5,445.0 C392.3,445.6 388.2,445.7 385.5,445.0 C383.8,444.5 382.0,443.0 381.7,441.3Z" fill="#7ce2fe" stroke="#000" stroke-width="0.8"/>
<path d="M1490.1,292.8 C1490.1,290.7 1492.1,288.8 1493.9,287.7 C1496.8,286.0 1501.4,285.1 1505.2,284.0 C1511.2,282.3 1518.6,280.7 1525.2,279.0 C1533.5,276.9 1542.0,275.0 1550.2,272.7 C1558.5,270.4 1566.9,267.3 1575.3,265.2 C1583.5,263.2 1592.1,262.2 1600.3,260.2 C1607.0,258.5 1615.4,256.7 1620.3,253.9 C1623.4,252.1 1624.3,247.9 1626.6,245.2 C1629.3,242.1 1631.8,238.3 1635.4,236.4 C1639.9,234.0 1645.4,233.6 1650.4,232.7 C1656.9,231.5 1663.8,230.6 1670.4,230.2 C1678.6,229.7 1687.1,229.7 1695.4,229.7 C1702.0,229.7 1710.1,229.7 1715.5,230.2 C1718.9,230.5 1722.2,232.1 1725.5,232.7 C1728.8,233.3 1732.2,233.4 1735.5,233.9 C1740.5,234.6 1745.7,235.0 1750.5,236.4 C1754.0,237.5 1757.1,240.0 1760.5,241.4 C1762.9,242.4 1765.5,243.9 1768.1,243.9 C1772.3,243.9 1778.1,242.0 1783.1,241.4 C1787.2,240.9 1791.5,240.1 1795.6,240.7 C1799.5,241.2 1806.9,244.7 1806.9,244.7 C1806.9,244.7 1801.5,252.2 1798.1,255.2 C1794.4,258.6 1790.1,261.7 1785.6,264.0 C1780.9,266.3 1775.7,267.9 1770.6,269.0 C1764.1,270.4 1757.2,271.0 1750.5,271.5 C1742.3,272.2 1733.8,272.9 1725.5,272.7 C1717.2,272.5 1708.8,270.8 1700.5,270.2 C1693.1,269.6 1685.4,268.5 1677.9,269.0 C1672.0,269.4 1666.0,270.8 1660.4,272.7 C1655.2,274.5 1650.3,277.6 1645.4,280.2 C1640.3,282.9 1635.4,286.3 1630.3,289.0 C1625.4,291.6 1620.6,295.0 1615.3,296.5 C1608.9,298.3 1601.9,298.1 1595.3,299.0 C1587.0,300.2 1578.6,302.2 1570.3,302.8 C1563.7,303.3 1556.8,302.9 1550.2,302.3 C1541.9,301.6 1533.5,299.4 1525.2,299.0 C1518.6,298.7 1511.2,300.3 1505.2,300.3 C1501.4,300.3 1497.3,300.7 1493.9,299.0 C1491.8,297.9 1490.1,295.2 1490.1,292.8Z" fill="#7ce2fe" stroke="#000" stroke-width="0.8"/>
<path d="M1734.3,211.4 C1734.9,209.7 1736.2,207.7 1738.0,207.1 C1740.3,206.3 1743.2,206.8 1745.5,207.6 C1747.5,208.3 1749.3,209.7 1750.5,211.4 C1751.5,212.8 1752.3,214.8 1751.8,216.4 C1751.3,217.8 1749.5,218.8 1748.0,218.9 C1745.6,219.0 1742.9,217.9 1740.5,217.1 C1738.8,216.5 1736.8,215.8 1735.5,214.6 C1734.7,213.8 1733.9,212.5 1734.3,211.4Z" fill="#7ce2fe" stroke="#000" stroke-width="0.8"/>
<path d="M1263.0,1032.0 C1263.0,1032.0 1269.1,1009.9 1275.5,1002.9 C1279.5,998.5 1287.2,1000.4 1293.0,999.2 C1298.8,998.0 1304.7,996.4 1310.5,995.4 C1317.1,994.3 1324.0,993.7 1330.6,992.9 C1337.2,992.1 1344.0,991.0 1350.6,990.4 C1357.2,989.8 1364.0,989.8 1370.6,989.2 C1377.2,988.6 1385.2,987.6 1390.6,986.7 C1394.0,986.1 1397.3,984.2 1400.7,984.2 C1405.5,984.2 1410.3,985.7 1415.0,986.7 C1422.5,988.2 1430.2,990.0 1437.6,991.7 C1445.9,993.6 1454.4,995.8 1462.6,997.9 C1469.2,999.5 1477.8,998.1 1482.6,1002.9 C1490.1,1010.4 1496.4,1032.0 1496.4,1032.0 C1496.4,1032.0 1263.0,1032.0 1263.0,1032.0Z" fill="#7ce2fe" stroke="#000" stroke-width="0.8"/>
<path d="M60.0,106.0 C60.0,106.0 158.5,106.0 158.5,106.0 C158.5,106.0 155.0,129.8 153.5,134.2 C152.5,137.0 149.0,138.1 146.8,140.0 C144.6,141.9 142.5,144.1 140.1,145.9 C138.0,147.5 136.0,149.6 133.4,150.0 C130.1,150.5 126.7,149.0 123.4,148.4 C120.1,147.8 116.7,147.0 113.4,146.4 C110.6,145.9 107.8,144.5 105.0,145.0 C100.9,145.7 97.5,149.6 93.4,150.0 C86.8,150.7 60.0,149.7 60.0,149.7 C60.0,149.7 60.0,106.0 60.0,106.0Z" fill="#cfcfcf" stroke="#000" stroke-width="0.8"/>
<path d="M202.7,106.0 C202.7,106.0 206.0,134.2 206.9,137.5 C207.4,139.6 209.8,141.4 211.9,141.7 C214.2,142.0 216.5,140.3 218.6,139.2 C220.9,138.0 223.0,136.3 225.2,135.0 C226.8,134.1 229.8,134.3 230.3,132.5 C231.1,129.6 233.6,106.0 233.6,106.0 C233.6,106.0 202.7,106.0 202.7,106.0Z" fill="#cfcfcf" stroke="#000" stroke-width="0.8"/>
<path d="M232.8,160.9 C233.2,158.7 234.6,156.7 236.1,155.1 C238.2,153.0 241.1,151.7 243.6,150.0 C246.9,147.8 250.3,145.5 253.6,143.4 C256.3,141.7 259.3,140.1 262.0,138.4 C264.2,137.1 267.7,136.6 268.6,134.2 C270.0,130.3 273.7,106.0 273.7,106.0 C273.7,106.0 295.4,106.0 295.4,106.0 C295.4,106.0 298.3,133.9 298.7,136.7 C298.9,138.4 300.7,140.0 300.4,141.7 C300.0,144.2 298.2,146.2 297.0,148.4 C295.4,151.2 293.8,154.0 292.0,156.7 C290.5,159.0 288.6,161.1 287.0,163.4 C284.7,166.7 282.4,170.0 280.3,173.4 C278.6,176.1 275.3,181.8 275.3,181.8 C275.3,181.8 272.8,181.1 272.0,180.1 C270.8,178.6 270.8,174.5 268.6,173.4 C266.1,172.2 263.0,174.5 260.3,174.2 C256.9,173.9 253.6,172.6 250.3,171.7 C247.0,170.7 243.5,169.7 240.3,168.4 C238.2,167.5 236.0,166.7 234.4,165.1 C233.4,164.1 232.6,162.4 232.8,160.9Z" fill="#cfcfcf" stroke="#000" stroke-width="0.8"/>
<path d="M60.0,176.8 C60.0,176.8 87.7,177.6 93.4,178.4 C96.9,178.9 100.0,181.6 103.4,182.6 C106.6,183.5 110.1,184.6 113.4,184.3 C116.9,184.0 120.2,182.3 123.4,180.9 C127.4,179.2 131.1,176.6 135.1,175.1 C139.9,173.3 145.0,171.7 150.1,170.9 C155.5,170.0 161.3,170.5 166.8,170.1 C172.3,169.7 178.0,169.4 183.5,168.7 C189.0,168.0 195.8,165.5 200.2,165.9 C202.9,166.2 204.8,169.2 206.9,170.9 C209.2,172.8 211.2,175.1 213.6,176.8 C216.2,178.7 218.9,180.6 221.9,181.8 C225.6,183.3 229.7,184.2 233.6,184.8 C237.9,185.4 242.5,185.5 246.9,185.4 C251.3,185.3 255.9,184.8 260.3,184.3 C264.2,183.9 268.2,183.3 272.0,182.6 C274.8,182.1 277.6,180.3 280.3,180.9 C282.8,181.5 284.6,183.9 286.2,185.9 C288.0,188.1 289.3,190.8 290.4,193.4 C291.3,195.5 292.3,197.8 292.0,200.1 C291.7,202.5 290.5,205.1 288.7,206.8 C286.4,208.9 283.3,210.1 280.3,211.0 C277.7,211.8 274.7,212.1 272.0,211.8 C269.1,211.5 266.3,210.4 263.6,209.3 C260.2,207.9 257.0,205.8 253.6,204.3 C250.3,202.8 247.0,201.2 243.6,200.1 C240.9,199.3 238.1,198.4 235.3,198.5 C231.4,198.7 227.4,200.1 223.6,201.0 C219.2,202.0 214.7,203.3 210.2,204.3 C205.8,205.2 201.3,205.9 196.9,206.8 C192.4,207.8 187.8,208.6 183.5,210.1 C180.0,211.4 176.6,213.1 173.5,215.2 C169.9,217.6 167.0,221.1 163.5,223.5 C159.8,226.0 155.7,228.0 151.8,230.2 C147.9,232.4 144.1,234.9 140.1,236.9 C136.3,238.8 132.5,240.8 128.4,241.9 C123.6,243.2 118.4,243.7 113.4,243.9 C107.9,244.1 102.2,243.2 96.7,243.2 C87.9,243.2 60.0,243.9 60.0,243.9 C60.0,243.9 60.0,176.8 60.0,176.8Z" fill="#00b0f4" stroke="#000" stroke-width="0.8"/>
<path d="M328.7,106.0 C328.7,106.0 329.6,140.0 329.6,140.0 C329.6,140.0 334.6,141.1 337.1,140.9 C340.5,140.6 343.8,139.3 347.1,138.4 C351.6,137.1 358.1,138.1 360.5,134.2 C364.4,127.9 367.1,106.0 367.1,106.0 C367.1,106.0 328.7,106.0 328.7,106.0Z" fill="#00b0f4" stroke="#000" stroke-width="0.8"/>
<path d="M615.1,443.8 C614.9,441.4 617.0,439.0 618.9,437.5 C621.4,435.5 625.1,435.6 627.7,433.8 C630.6,431.8 632.5,428.5 635.2,426.3 C638.3,423.9 641.5,421.1 645.2,420.0 C651.2,418.2 672.3,414.4 680.2,412.9 C685.2,411.9 690.5,411.9 695.3,410.4 C702.2,408.2 708.4,403.6 715.3,401.7 C725.0,399.0 735.4,398.3 745.3,396.7 C753.6,395.4 762.6,395.9 770.4,392.9 C776.2,390.7 779.8,384.2 785.4,381.6 C790.8,379.1 797.1,378.8 802.9,377.9 C812.2,376.4 823.0,375.0 833.0,374.1 C845.3,372.9 858.1,372.7 870.5,371.6 C880.5,370.7 890.8,370.1 900.6,367.9 C907.5,366.4 914.3,363.6 920.6,360.4 C925.9,357.7 930.2,352.8 935.6,350.3 C940.2,348.2 945.6,347.6 950.6,346.6 C955.5,345.6 960.7,343.9 965.7,344.1 C971.6,344.3 977.5,346.1 983.2,347.8 C988.9,349.5 994.4,352.1 1000.0,354.1 C1007.4,356.7 1015.2,359.0 1022.6,361.6 C1029.2,363.9 1036.0,366.7 1042.6,369.1 C1048.4,371.2 1054.5,373.1 1060.2,375.4 C1066.0,377.7 1071.9,380.5 1077.7,382.9 C1085.1,385.9 1092.8,388.7 1100.2,391.6 C1106.8,394.1 1113.5,397.1 1120.2,399.2 C1126.7,401.2 1133.6,402.9 1140.3,404.2 C1150.1,406.2 1160.3,408.0 1170.3,409.2 C1180.2,410.4 1190.5,410.4 1200.4,411.7 C1208.7,412.8 1217.2,414.9 1225.4,416.7 C1232.0,418.2 1240.1,420.5 1245.4,421.7 C1248.7,422.5 1252.1,423.0 1255.4,423.8 C1259.6,424.8 1263.8,426.4 1268.0,427.0 C1272.1,427.6 1276.5,428.3 1280.5,427.5 C1284.1,426.8 1289.0,423.4 1290.5,422.5 C1291.4,422.0 1292.0,420.7 1293.0,420.4 C1294.7,420.0 1304.6,417.7 1310.5,417.4 C1318.8,417.0 1327.3,417.7 1335.6,418.4 C1343.9,419.1 1353.7,420.3 1360.6,421.7 C1364.9,422.6 1368.8,425.5 1373.1,426.3 C1380.0,427.6 1389.9,428.2 1398.2,428.8 C1403.7,429.2 1409.5,428.7 1415.0,429.5 C1420.9,430.4 1426.8,432.1 1432.5,433.8 C1438.4,435.6 1444.2,438.1 1450.1,440.0 C1455.8,441.8 1461.7,443.9 1467.6,445.0 C1474.1,446.2 1481.0,446.6 1487.6,447.0 C1495.9,447.6 1504.4,447.6 1512.7,448.0 C1521.0,448.4 1529.5,449.0 1537.7,449.5 C1546.0,450.0 1554.5,450.6 1562.7,451.3 C1571.0,452.0 1579.5,452.7 1587.8,453.8 C1594.4,454.7 1601.2,455.8 1607.8,457.1 C1612.0,457.9 1616.1,459.4 1620.3,460.1 C1626.1,461.1 1632.1,461.4 1637.9,462.1 C1647.2,463.1 1664.7,464.6 1675.4,466.3 C1682.1,467.4 1688.7,470.3 1695.4,471.3 C1702.0,472.3 1708.9,472.3 1715.5,472.1 C1722.1,471.9 1728.9,470.6 1735.5,470.1 C1743.7,469.5 1752.2,469.2 1760.5,468.8 C1767.1,468.5 1774.0,467.7 1780.6,468.1 C1787.3,468.5 1794.0,470.2 1800.6,471.3 C1807.2,472.4 1813.9,474.1 1820.6,474.6 C1831.3,475.3 1862.0,475.6 1862.0,475.6 C1862.0,475.6 1862.0,532.1 1862.0,560.0 C1862.0,579.7 1862.0,619.8 1862.0,619.8 C1862.0,619.8 1833.5,623.4 1825.6,624.1 C1820.7,624.5 1815.5,623.2 1810.6,624.1 C1806.2,624.9 1802.2,627.3 1798.1,629.1 C1793.9,631.0 1790.2,634.6 1785.6,635.3 C1779.0,636.3 1772.1,634.1 1765.5,634.1 C1758.9,634.1 1752.1,634.8 1745.5,635.3 C1737.2,636.0 1728.7,636.9 1720.5,637.8 C1713.9,638.5 1707.0,639.1 1700.5,640.3 C1693.8,641.6 1687.1,644.0 1680.4,645.3 C1674.7,646.4 1668.7,647.6 1662.9,647.8 C1657.1,648.0 1651.2,647.2 1645.4,646.6 C1638.7,645.9 1632.0,644.8 1625.3,644.1 C1619.5,643.5 1613.2,642.6 1607.8,642.8 C1604.4,642.9 1600.6,643.4 1597.8,645.3 C1595.3,646.9 1594.9,650.7 1592.8,652.8 C1590.7,654.9 1588.1,656.8 1585.3,657.9 C1580.8,659.6 1575.4,661.2 1570.3,661.6 C1563.7,662.1 1556.8,660.8 1550.2,660.4 C1543.6,660.0 1536.8,659.5 1530.2,659.1 C1522.8,658.7 1515.1,657.9 1507.7,657.9 C1501.1,657.9 1494.2,659.3 1487.6,659.1 C1481.8,658.9 1475.8,657.7 1470.1,656.6 C1463.4,655.3 1456.7,653.3 1450.1,651.6 C1444.3,650.0 1438.2,648.5 1432.5,646.6 C1426.7,644.7 1420.8,642.2 1415.0,640.3 C1410.1,638.7 1405.2,635.9 1400.0,635.8 C1391.7,635.6 1380.4,638.6 1370.6,639.1 C1364.0,639.4 1357.2,637.9 1350.6,638.3 C1343.9,638.7 1337.2,640.9 1330.6,641.6 C1324.0,642.3 1317.1,642.8 1310.5,642.8 C1303.9,642.8 1297.1,642.1 1290.5,641.6 C1282.2,640.9 1273.7,640.1 1265.5,639.1 C1257.2,638.1 1248.7,636.6 1240.4,635.3 C1233.0,634.1 1225.3,632.8 1217.9,631.6 C1210.5,630.4 1202.9,628.9 1195.4,628.3 C1186.3,627.6 1176.9,627.7 1167.8,627.8 C1158.7,627.9 1149.4,628.9 1140.3,629.1 C1132.0,629.3 1123.5,629.2 1115.2,629.1 C1106.9,629.0 1098.5,628.2 1090.2,628.3 C1082.8,628.4 1075.1,629.5 1067.7,629.8 C1059.4,630.1 1050.9,630.8 1042.6,630.3 C1034.2,629.8 1025.6,627.8 1017.2,626.7 C1010.6,625.8 1003.7,625.0 997.1,624.2 C990.5,623.4 983.7,622.6 977.1,621.7 C971.6,620.9 965.9,620.0 960.4,619.2 C954.9,618.4 949.1,617.9 943.7,616.7 C938.1,615.4 932.5,613.5 927.0,611.7 C922.6,610.2 918.3,607.7 913.7,606.7 C909.4,605.8 904.7,606.7 900.3,605.9 C895.7,605.1 891.2,603.4 886.9,601.7 C883.5,600.4 880.1,598.6 876.9,596.7 C873.5,594.7 869.8,592.7 866.9,590.0 C862.2,585.7 856.2,578.1 850.5,572.7 C845.8,568.3 840.7,563.9 835.5,560.2 C829.1,555.7 822.1,551.7 815.4,547.7 C809.7,544.3 803.9,540.5 797.9,537.7 C792.3,535.1 786.3,533.2 780.4,531.4 C773.0,529.1 765.2,527.5 757.9,525.2 C749.5,522.6 740.9,519.8 732.8,516.4 C725.1,513.2 717.7,508.8 710.3,505.1 C703.7,501.8 696.7,498.7 690.3,495.1 C683.5,491.3 676.6,487.1 670.2,482.6 C665.0,478.9 659.8,474.7 655.2,470.1 C651.5,466.4 649.7,460.3 645.2,457.6 C640.9,455.0 635.1,456.3 630.2,455.1 C626.8,454.2 623.0,453.4 620.2,451.3 C617.8,449.5 615.4,446.8 615.1,443.8Z" fill="#00b0f4" stroke="#000" stroke-width="0.8"/>
<path d="M833.0,447.5 C833.0,447.5 841.4,444.2 845.5,445.0 C850.9,446.0 855.4,450.3 860.5,452.5 C867.0,455.3 873.8,458.0 880.5,460.1 C887.0,462.1 893.9,463.9 900.6,465.1 C905.5,466.0 911.1,467.4 915.6,466.3 C918.4,465.6 921.3,462.9 921.9,460.1 C922.7,456.7 920.2,453.3 919.3,450.0 C918.1,445.9 914.7,441.7 915.6,437.5 C916.2,434.4 920.1,432.4 923.1,431.3 C928.0,429.6 934.8,428.8 940.6,428.8 C947.3,428.8 954.5,430.6 960.7,431.3 C964.6,431.8 968.7,431.5 972.5,432.5 C976.8,433.6 980.6,436.7 985.0,437.5 C991.5,438.8 998.5,438.8 1005.1,438.8 C1011.7,438.8 1018.5,438.0 1025.1,437.5 C1031.7,437.0 1038.5,435.3 1045.1,435.5 C1050.2,435.7 1055.5,436.8 1060.2,438.8 C1064.8,440.8 1068.4,444.8 1072.7,447.5 C1078.4,451.0 1084.6,454.0 1090.2,457.6 C1093.7,459.8 1097.5,462.0 1100.2,465.1 C1102.6,467.9 1103.1,472.1 1105.2,475.1 C1108.1,479.1 1111.7,482.8 1115.2,486.3 C1117.9,489.0 1123.0,490.2 1124.0,493.9 C1125.0,497.7 1121.6,501.4 1120.2,505.1 C1118.7,509.3 1116.6,513.4 1115.2,517.6 C1114.1,520.9 1112.9,524.3 1112.7,527.7 C1112.5,531.0 1114.0,537.7 1114.0,537.7 C1114.0,537.7 1119.8,536.9 1122.7,536.4 C1126.9,535.7 1131.3,535.3 1135.3,533.9 C1139.7,532.4 1143.9,530.1 1147.8,527.7 C1151.3,525.6 1154.8,523.0 1157.8,520.2 C1160.6,517.6 1165.3,511.4 1165.3,511.4 C1165.3,511.4 1160.3,508.0 1157.8,506.4 C1154.5,504.3 1150.8,502.6 1147.8,500.1 C1145.3,498.0 1142.0,495.8 1141.5,492.6 C1141.0,489.5 1144.2,486.8 1145.3,483.8 C1146.3,481.0 1145.8,477.3 1147.8,475.1 C1150.3,472.4 1154.2,470.8 1157.8,470.1 C1162.7,469.1 1167.9,469.3 1172.8,470.1 C1178.7,471.0 1184.8,472.8 1190.3,475.1 C1194.8,477.0 1198.9,479.9 1202.9,482.6 C1206.3,484.9 1210.2,487.0 1212.9,490.1 C1215.3,492.9 1217.3,496.5 1217.9,500.1 C1218.9,505.9 1214.2,514.7 1217.9,520.2 C1221.3,525.3 1229.3,525.7 1235.4,526.4 C1243.6,527.4 1253.5,526.4 1260.5,525.2 C1264.9,524.5 1268.6,520.7 1273.0,520.2 C1279.6,519.4 1289.3,520.2 1293.0,521.4 C1295.3,522.1 1295.1,525.9 1296.8,527.7 C1299.4,530.5 1305.6,536.5 1310.5,540.2 C1314.3,543.1 1319.1,544.9 1323.0,547.7 C1327.0,550.6 1334.3,557.7 1334.3,557.7 C1334.3,557.7 1332.5,561.8 1330.6,562.7 C1327.6,564.1 1320.6,565.6 1315.5,566.5 C1309.0,567.7 1302.1,568.0 1295.5,569.0 C1288.9,570.0 1282.2,572.1 1275.5,572.7 C1268.9,573.3 1262.0,572.9 1255.4,572.7 C1248.8,572.5 1242.0,571.5 1235.4,571.5 C1228.8,571.5 1222.0,572.1 1215.4,572.7 C1208.8,573.3 1202.0,574.3 1195.4,575.2 C1190.4,575.9 1185.3,577.3 1180.3,577.7 C1172.2,578.4 1148.6,579.3 1135.3,580.2 C1127.0,580.8 1118.5,582.2 1110.2,582.7 C1103.6,583.1 1096.8,582.7 1090.2,582.7 C1083.6,582.7 1076.8,582.9 1070.2,582.7 C1062.7,582.5 1055.1,581.9 1047.6,581.5 C1041.0,581.1 1034.2,581.1 1027.6,580.2 C1021.7,579.4 1015.7,578.2 1010.1,576.5 C1005.0,574.9 999.5,573.2 995.1,570.2 C991.5,567.7 988.6,563.9 986.3,560.2 C984.4,557.2 982.3,553.7 982.5,550.2 C982.7,546.5 985.3,543.1 987.5,540.2 C990.3,536.5 993.3,532.1 997.6,530.2 C1001.4,528.5 1006.1,531.1 1010.1,530.2 C1014.1,529.4 1018.3,527.9 1021.3,525.2 C1023.6,523.1 1025.3,519.6 1025.1,516.4 C1024.9,513.1 1022.7,509.7 1020.1,507.6 C1017.4,505.3 1013.2,505.5 1010.1,503.9 C1006.6,502.2 1003.7,499.2 1000.1,497.6 C996.1,495.8 991.8,493.9 987.5,493.9 C984.0,493.9 980.1,495.2 977.5,497.6 C974.8,500.1 973.1,504.0 972.5,507.6 C971.8,511.7 974.9,516.2 973.8,520.2 C973.1,522.8 969.8,523.9 967.5,525.2 C965.2,526.4 962.5,527.0 960.0,527.7 C956.9,528.6 950.6,530.2 950.6,530.2 C950.6,530.2 951.6,535.5 953.1,537.7 C955.1,540.6 959.6,541.9 960.7,545.2 C961.5,547.7 960.2,551.0 958.2,552.7 C955.0,555.4 950.0,556.7 945.6,557.7 C939.1,559.2 932.2,559.4 925.6,560.2 C919.0,561.0 912.2,563.5 905.6,562.7 C898.6,561.8 891.8,558.4 885.5,555.2 C880.2,552.5 875.1,549.0 870.5,545.2 C866.0,541.5 862.1,536.8 858.0,532.7 C853.9,528.6 849.2,524.7 845.5,520.2 C841.7,515.6 838.2,510.4 835.5,505.1 C833.2,500.4 831.0,495.3 830.5,490.1 C830.2,486.7 831.6,483.2 833.0,480.1 C834.5,476.5 838.4,473.9 839.2,470.1 C840.1,466.1 839.1,461.6 838.0,457.6 C837.0,454.0 833.0,447.5 833.0,447.5Z" fill="#0d78ff" stroke="#000" stroke-width="0.8"/>
<path d="M1463.8,507.6 C1464.3,505.5 1465.6,502.8 1467.6,501.4 C1470.5,499.4 1474.2,498.6 1477.6,498.1 C1483.1,497.2 1489.3,497.1 1495.1,497.1 C1500.1,497.1 1506.8,497.2 1510.2,498.1 C1512.3,498.7 1515.2,502.6 1515.2,502.6 C1515.2,502.6 1512.3,506.4 1510.2,507.1 C1506.9,508.3 1501.7,508.0 1497.6,508.9 C1493.4,509.8 1489.3,511.8 1485.1,512.6 C1481.0,513.4 1476.7,514.1 1472.6,513.9 C1470.0,513.7 1466.8,512.6 1465.1,511.4 C1464.0,510.6 1463.5,508.9 1463.8,507.6Z" fill="#0d78ff" stroke="#000" stroke-width="0.8"/>
<path d="M1458.8,552.7 C1458.6,550.3 1460.5,547.6 1462.6,546.4 C1465.5,544.7 1469.3,544.5 1472.6,544.7 C1476.8,544.9 1481.0,546.6 1485.1,547.7 C1488.4,548.6 1495.1,550.7 1495.1,550.7 C1495.1,550.7 1490.1,554.7 1487.6,556.5 C1485.2,558.2 1482.8,560.2 1480.1,561.5 C1477.8,562.7 1475.2,564.2 1472.6,564.0 C1469.4,563.7 1466.2,562.2 1463.8,560.2 C1461.5,558.3 1459.1,555.7 1458.8,552.7Z" fill="#0d78ff" stroke="#000" stroke-width="0.8"/>
<path d="M60.0,275.2 C60.0,275.2 85.6,282.3 95.0,285.2 C100.9,287.0 106.5,290.2 112.5,291.5 C119.8,293.1 127.6,293.7 135.1,294.0 C141.7,294.3 148.5,293.9 155.1,293.3 C163.4,292.6 171.9,291.3 180.2,290.2 C186.8,289.3 193.6,288.0 200.2,287.2 C206.8,286.4 213.6,285.3 220.2,285.2 C226.8,285.1 233.6,286.0 240.2,286.5 C245.2,286.9 251.2,284.9 255.3,287.7 C259.0,290.2 256.2,298.6 260.3,300.3 C266.5,302.8 273.8,299.3 280.3,297.8 C284.6,296.8 288.8,294.8 292.8,292.8 C297.1,290.6 300.8,287.0 305.3,285.2 C309.2,283.6 313.7,281.9 317.9,282.7 C321.1,283.3 323.5,286.4 325.4,289.0 C327.3,291.5 330.0,294.8 329.1,297.8 C328.0,301.4 322.4,302.6 320.4,305.3 C319.2,307.0 319.1,311.5 319.1,311.5 C319.1,311.5 328.2,307.6 332.9,307.8 C337.3,308.0 341.2,311.3 345.4,312.8 C350.3,314.6 355.3,316.9 360.4,317.8 C365.3,318.6 371.1,315.4 375.4,317.8 C379.6,320.1 380.7,326.1 383.0,330.3 C384.7,333.4 385.3,337.4 387.7,340.0 C390.0,342.5 393.7,343.3 396.5,345.0 C399.0,346.6 401.9,347.9 404.0,350.0 C405.3,351.3 406.7,353.2 406.5,355.0 C406.2,357.9 403.8,360.8 402.8,363.8 C402.0,366.2 400.7,368.8 400.9,371.3 C401.1,374.4 402.6,377.3 404.0,380.1 C405.1,382.3 407.7,383.9 408.4,386.3 C409.1,388.7 408.7,391.5 407.8,393.8 C406.8,396.3 404.9,398.5 402.8,400.1 C400.6,401.7 397.8,402.6 395.2,403.2 C391.6,404.0 387.7,404.1 384.0,404.5 C380.3,404.9 376.4,405.6 372.7,405.7 C370.2,405.8 367.4,403.9 365.2,405.1 C362.6,406.5 362.6,410.9 360.2,412.6 C358.1,414.0 355.1,413.0 352.7,413.9 C350.4,414.7 348.5,416.4 346.4,417.6 C344.3,418.8 342.4,420.4 340.2,421.4 C337.0,422.9 332.3,424.1 330.1,425.1 C328.8,425.7 326.4,427.6 326.4,427.6 C326.4,427.6 331.8,432.8 335.1,434.5 C338.6,436.2 343.0,436.6 346.4,437.7 C348.5,438.4 351.0,438.7 352.7,440.2 C354.5,441.8 354.5,444.9 356.4,446.4 C358.5,448.0 362.1,447.1 363.9,448.9 C365.7,450.7 366.8,453.8 366.4,456.4 C365.9,459.3 361.4,463.9 361.4,463.9 C361.4,463.9 368.2,463.6 371.5,463.3 C375.6,463.0 379.9,462.4 384.0,462.1 C388.1,461.8 392.4,461.2 396.5,461.4 C399.9,461.6 403.3,462.4 406.5,463.3 C409.5,464.1 412.5,465.2 415.3,466.4 C418.7,467.9 422.0,469.8 425.3,471.5 C428.6,473.2 432.1,474.7 435.3,476.5 C438.7,478.4 442.2,480.3 445.3,482.7 C448.0,484.8 450.3,487.6 452.8,490.0 C454.5,491.7 456.9,493.0 458.1,495.1 C460.1,498.5 461.8,503.3 463.1,507.6 C464.3,511.7 464.6,516.1 465.6,520.2 C466.6,524.4 468.1,528.6 469.3,532.7 C470.5,536.8 471.8,541.1 473.1,545.2 C474.3,548.9 476.8,556.5 476.8,556.5 C476.8,556.5 482.9,554.3 485.6,552.7 C490.0,550.2 495.5,545.7 500.6,542.7 C505.4,539.9 510.4,536.9 515.7,535.2 C519.7,533.9 524.1,533.2 528.2,533.9 C531.8,534.5 535.7,536.2 538.2,538.9 C540.2,541.1 541.1,544.7 540.7,547.7 C540.2,552.1 537.9,556.3 535.7,560.2 C533.7,563.8 531.0,567.2 528.2,570.2 C525.2,573.4 522.2,577.2 518.2,579.0 C514.4,580.7 509.8,580.6 505.6,580.2 C501.3,579.8 497.3,577.3 493.1,576.5 C489.0,575.7 484.1,574.5 480.6,575.2 C478.4,575.6 476.0,577.8 475.9,580.0 C475.8,583.5 478.4,586.8 480.1,590.0 C482.6,594.6 485.6,599.0 488.4,603.4 C490.5,606.7 492.8,610.2 495.1,613.4 C497.2,616.2 499.2,619.3 501.8,621.7 C505.9,625.4 510.1,629.4 515.1,631.8 C520.8,634.5 527.4,635.5 533.5,636.8 C541.2,638.5 549.1,639.8 556.9,640.9 C565.1,642.0 573.7,642.2 581.9,643.4 C590.2,644.6 598.8,646.3 606.9,648.4 C613.7,650.2 620.5,652.5 627.0,655.1 C634.3,658.0 641.6,661.6 648.7,665.1 C656.0,668.7 663.2,673.0 670.4,676.8 C676.9,680.2 683.8,683.5 690.4,686.8 C697.0,690.1 704.0,693.3 710.5,696.9 C716.1,700.0 721.8,703.4 727.1,706.9 C731.7,710.0 736.5,713.1 740.5,716.9 C744.8,720.9 748.3,725.9 752.2,730.3 C754.7,733.1 757.2,736.2 760.1,738.6 C763.1,741.2 766.5,743.5 770.1,745.3 C773.2,746.9 777.7,747.6 780.1,748.6 C781.6,749.2 784.3,751.1 784.3,751.1 C784.3,751.1 781.7,753.1 780.1,753.3 C777.6,753.6 773.4,753.1 770.1,752.8 C766.9,752.5 763.6,751.6 760.4,751.3 C755.2,750.8 746.9,750.7 740.3,750.1 C733.7,749.5 726.8,748.7 720.3,747.5 C713.6,746.2 706.8,744.6 700.3,742.5 C695.2,740.9 690.0,738.7 685.2,736.3 C681.7,734.6 677.8,732.9 675.2,730.0 C673.4,728.1 674.0,724.7 672.7,722.5 C671.5,720.5 670.0,717.9 667.7,717.5 C664.6,717.0 661.8,719.9 658.7,720.2 C655.4,720.5 652.0,719.3 648.7,719.4 C644.8,719.6 640.7,720.3 637.0,721.1 C634.7,721.6 632.1,722.0 630.3,723.6 C629.0,724.8 628.6,728.6 628.6,728.6 C628.6,728.6 632.5,729.6 633.7,731.1 C634.7,732.4 634.8,734.5 634.5,736.1 C634.2,737.9 633.5,740.0 632.0,741.1 C629.7,742.9 626.5,743.7 623.6,744.4 C620.4,745.1 616.9,745.2 613.6,745.3 C609.2,745.5 604.7,745.4 600.3,745.3 C595.9,745.2 591.3,744.8 586.9,744.4 C582.5,744.0 577.9,743.6 573.6,742.8 C569.1,742.0 564.7,740.2 560.2,739.4 C555.8,738.6 551.3,737.8 546.8,737.8 C542.4,737.8 537.8,738.5 533.5,739.4 C530.1,740.1 526.7,741.4 523.5,742.8 C520.9,743.9 516.0,746.9 516.0,746.9 C516.0,746.9 518.5,751.6 520.1,753.6 C522.1,756.0 524.6,758.1 526.8,760.3 C529.0,762.5 531.3,764.8 533.5,767.0 C535.7,769.2 538.0,771.5 540.2,773.7 C542.4,775.8 545.0,777.6 546.8,780.0 C549.1,783.1 551.6,786.4 552.5,790.1 C553.5,794.1 550.0,799.4 552.5,802.6 C556.6,807.8 564.0,809.8 570.1,812.6 C576.5,815.6 583.4,818.1 590.1,820.2 C596.6,822.2 603.4,823.9 610.1,825.2 C615.9,826.3 621.9,828.2 627.7,827.7 C631.4,827.4 635.2,825.4 637.7,822.7 C639.4,820.8 638.9,817.7 638.9,815.2 C638.9,811.8 639.6,807.9 637.7,805.1 C636.2,803.0 630.2,802.6 630.2,802.6 C630.2,802.6 630.0,798.6 631.4,797.6 C633.6,796.0 637.6,795.8 640.2,795.1 C641.8,794.7 643.5,793.6 645.2,793.9 C647.9,794.3 652.0,796.2 655.2,797.6 C659.4,799.5 663.4,802.2 667.7,803.9 C671.7,805.5 676.0,806.5 680.2,807.6 C685.2,808.9 690.5,809.7 695.3,811.4 C698.8,812.6 701.7,815.4 705.3,816.4 C709.3,817.5 713.8,816.8 717.8,817.7 C722.9,818.9 727.8,821.4 732.8,822.7 C738.5,824.2 744.5,825.1 750.3,826.4 C757.0,827.9 763.8,829.5 770.4,831.4 C775.4,832.8 780.4,835.0 785.4,836.4 C789.5,837.5 793.7,839.1 797.9,838.9 C802.2,838.7 806.5,837.1 810.4,835.2 C814.1,833.4 817.8,830.8 820.5,827.7 C823.7,824.1 826.2,819.7 828.0,815.2 C829.9,810.4 830.3,805.0 831.7,800.1 C832.7,796.7 833.8,793.2 835.2,790.0 C836.6,786.7 838.2,783.3 840.2,780.3 C842.1,777.3 844.7,774.8 846.9,772.0 C848.6,769.8 849.7,767.0 851.9,765.3 C854.8,763.0 858.7,762.2 861.9,760.3 C864.3,758.9 866.5,757.1 868.6,755.3 C870.4,753.8 871.7,751.6 873.6,750.3 C876.7,748.3 880.4,747.2 883.6,745.3 C886.0,743.9 888.2,742.1 890.3,740.3 C892.1,738.8 893.4,736.5 895.3,735.2 C897.8,733.5 900.7,732.0 903.6,731.1 C906.8,730.1 910.3,729.5 913.7,729.4 C917.5,729.2 921.5,729.8 925.3,730.2 C929.2,730.6 933.2,731.0 937.0,731.9 C940.4,732.7 943.8,733.9 947.0,735.2 C949.3,736.1 951.6,737.3 953.7,738.6 C956.0,740.1 958.6,741.5 960.4,743.6 C961.5,744.9 962.3,746.9 962.1,748.6 C962.0,750.2 959.6,752.8 959.6,752.8 C959.6,752.8 963.4,754.6 965.4,754.4 C968.6,754.1 972.1,752.1 975.4,751.1 C978.2,750.2 981.0,749.4 983.8,748.6 C986.5,747.8 989.7,747.6 992.1,746.1 C993.8,745.0 993.8,742.1 995.5,741.1 C997.9,739.7 1001.0,739.5 1003.8,739.4 C1008.2,739.2 1012.8,739.9 1017.2,740.3 C1021.0,740.7 1025.0,741.5 1028.8,741.9 C1032.5,742.3 1036.4,741.9 1040.0,742.8 C1043.6,743.7 1046.7,746.1 1050.1,747.5 C1055.6,749.7 1062.0,751.5 1067.7,753.8 C1073.5,756.1 1079.3,759.1 1085.2,761.3 C1091.7,763.7 1098.6,765.4 1105.2,767.6 C1111.0,769.5 1116.8,772.3 1122.7,773.8 C1128.4,775.2 1134.4,776.1 1140.3,776.3 C1146.9,776.5 1153.7,775.1 1160.3,775.1 C1166.9,775.1 1173.7,775.4 1180.3,776.3 C1187.0,777.2 1193.8,779.3 1200.4,780.6 C1206.2,781.8 1212.2,782.7 1217.9,783.9 C1222.9,785.0 1228.2,785.6 1232.9,787.6 C1236.2,789.0 1239.4,791.1 1241.7,793.9 C1243.4,795.9 1244.8,798.9 1244.2,801.4 C1243.4,804.5 1240.6,807.1 1237.9,808.9 C1234.2,811.4 1229.7,812.7 1225.4,813.9 C1218.9,815.7 1212.0,816.5 1205.4,817.7 C1198.8,818.9 1191.9,820.0 1185.3,821.4 C1180.3,822.5 1175.1,823.7 1170.3,825.2 C1167.3,826.1 1161.6,828.9 1161.6,828.9 C1161.6,828.9 1165.3,834.4 1167.8,836.4 C1171.6,839.4 1176.2,841.5 1180.3,843.9 C1185.3,846.8 1190.2,850.1 1195.4,852.7 C1200.2,855.1 1205.4,857.0 1210.4,859.0 C1213.7,860.3 1216.9,862.3 1220.4,862.7 C1225.3,863.2 1230.4,861.5 1235.4,861.5 C1239.5,861.5 1243.9,861.7 1247.9,862.7 C1252.2,863.8 1256.6,865.5 1260.5,867.7 C1264.1,869.7 1268.3,871.7 1270.5,875.2 C1272.7,878.8 1273.4,883.6 1273.0,887.8 C1272.6,892.2 1269.1,896.0 1268.0,900.3 C1267.0,904.3 1266.2,908.7 1266.7,912.8 C1267.1,916.3 1269.4,919.4 1270.5,922.8 C1271.5,926.0 1272.8,929.4 1273.0,932.8 C1273.2,936.9 1273.2,941.4 1271.7,945.3 C1270.2,949.2 1267.0,952.4 1264.2,955.4 C1261.6,958.2 1258.2,960.3 1255.4,962.9 C1252.8,965.3 1250.4,967.9 1247.9,970.4 C1244.6,973.7 1241.4,977.3 1237.9,980.4 C1234.8,983.1 1231.4,985.7 1227.9,987.9 C1224.0,990.3 1219.8,992.9 1215.4,994.2 C1209.8,995.8 1203.7,995.9 1197.9,996.7 C1192.1,997.5 1186.1,998.4 1180.3,999.2 C1173.7,1000.1 1166.9,1000.6 1160.3,1001.7 C1154.5,1002.7 1146.8,1001.0 1142.8,1005.4 C1136.5,1012.3 1142.2,1031.7 1132.8,1032.0 C1117.8,1032.5 579.5,1032.0 400.0,1032.0 C287.8,1032.0 60.0,1032.0 60.0,1032.0 C60.0,1032.0 60.0,742.6 60.0,600.0 C60.0,492.8 60.0,275.2 60.0,275.2Z" fill="#ffffb0" stroke="#000" stroke-width="0.8"/>
<path d="M537.5,220.1 C538.9,215.5 541.7,211.1 545.0,207.6 C550.3,202.0 557.5,195.3 565.1,191.3 C572.7,187.3 581.7,185.9 590.1,183.8 C598.3,181.8 606.7,179.0 615.1,178.8 C622.7,178.6 630.5,180.2 637.7,182.6 C645.6,185.2 652.5,190.7 660.2,193.9 C666.6,196.5 673.5,198.4 680.2,200.1 C688.4,202.1 697.1,203.0 705.3,205.1 C712.0,206.8 719.1,208.3 725.3,211.4 C729.2,213.4 733.6,216.1 735.3,220.1 C737.9,226.3 737.7,233.5 737.3,240.2 C736.9,247.0 735.0,253.8 732.8,260.2 C731.0,265.4 728.9,271.0 725.3,275.2 C722.1,279.1 717.5,282.1 712.8,284.0 C707.4,286.3 701.0,286.4 695.3,287.7 C688.6,289.3 679.5,290.7 675.2,292.8 C672.5,294.1 671.8,297.8 670.2,300.3 C668.5,303.1 667.9,307.1 665.2,309.0 C661.7,311.5 657.0,312.6 652.7,312.8 C645.8,313.1 637.6,311.1 630.2,310.3 C621.9,309.4 613.4,308.4 605.1,307.8 C596.9,307.2 588.4,306.3 580.1,306.5 C572.6,306.7 565.1,309.4 557.6,309.0 C550.0,308.6 542.0,306.2 535.0,304.0 C530.6,302.6 525.5,301.3 522.5,297.8 C519.7,294.5 519.5,289.5 518.7,285.2 C518.1,282.0 516.4,278.1 518.0,275.2 C520.6,270.6 528.5,265.8 532.5,260.2 C535.7,255.8 538.5,250.6 539.5,245.2 C540.2,241.1 537.8,236.9 537.5,232.7 C537.2,228.6 536.3,224.1 537.5,220.1Z" fill="#ffffb0" stroke="#000" stroke-width="0.8"/>
<path d="M1157.8,106.0 C1144.4,106.9 1143.5,131.8 1135.3,140.0 C1130.2,145.1 1119.2,146.2 1115.2,148.8 C1112.7,150.4 1110.4,153.3 1110.2,156.3 C1110.0,159.8 1112.3,163.2 1114.0,166.3 C1116.4,170.7 1119.4,175.0 1122.7,178.8 C1126.5,183.3 1130.8,187.5 1135.3,191.3 C1140.8,195.9 1146.6,200.4 1152.8,203.9 C1159.1,207.5 1166.1,209.9 1172.8,212.6 C1179.3,215.2 1185.9,218.5 1192.8,220.1 C1198.5,221.4 1204.6,221.6 1210.4,221.4 C1218.7,221.2 1227.1,219.5 1235.4,218.9 C1243.7,218.3 1252.2,217.7 1260.5,217.6 C1268.8,217.5 1277.3,218.3 1285.5,218.1 C1293.8,217.9 1302.3,217.0 1310.5,216.4 C1320.4,215.6 1330.6,213.9 1340.6,213.9 C1348.9,213.9 1357.4,215.2 1365.6,216.4 C1373.9,217.6 1382.3,219.9 1390.6,221.4 C1398.9,222.8 1410.8,224.8 1415.7,225.2 C1418.8,225.4 1421.9,223.9 1425.0,223.9 C1430.0,223.9 1441.8,224.6 1450.1,225.2 C1458.4,225.8 1468.4,226.8 1475.1,227.7 C1479.3,228.3 1483.4,230.4 1487.6,230.2 C1491.9,230.0 1496.1,227.9 1500.2,226.4 C1506.1,224.2 1511.8,220.9 1517.7,218.9 C1525.0,216.4 1532.6,214.2 1540.2,212.6 C1547.5,211.1 1555.2,210.2 1562.7,209.6 C1570.1,209.0 1577.8,208.6 1585.3,208.9 C1591.9,209.2 1598.7,210.6 1605.3,211.4 C1611.9,212.2 1618.7,213.4 1625.3,213.9 C1633.6,214.6 1642.1,214.4 1650.4,215.1 C1657.0,215.6 1663.9,216.3 1670.4,217.6 C1674.6,218.4 1678.7,220.5 1682.9,221.4 C1687.0,222.3 1691.2,223.1 1695.4,223.1 C1699.6,223.1 1704.1,222.9 1708.0,221.4 C1711.3,220.2 1714.5,217.9 1716.7,215.1 C1718.3,213.1 1718.8,210.2 1719.2,207.6 C1719.7,204.3 1718.5,200.8 1719.2,197.6 C1719.8,195.2 1721.0,192.7 1723.0,191.3 C1725.8,189.2 1729.6,188.4 1733.0,187.6 C1737.0,186.7 1741.4,187.1 1745.5,186.3 C1748.1,185.8 1753.0,183.8 1753.0,183.8 C1753.0,183.8 1752.0,179.8 1750.5,178.8 C1748.0,177.2 1742.2,175.2 1738.0,173.8 C1732.3,171.9 1726.3,170.3 1720.5,168.8 C1713.9,167.0 1707.1,165.4 1700.5,163.8 C1693.9,162.1 1686.9,160.8 1680.4,158.8 C1673.7,156.7 1666.9,154.1 1660.4,151.3 C1655.3,149.1 1650.1,146.8 1645.4,143.8 C1642.2,141.8 1637.9,139.9 1636.6,136.3 C1634.5,130.6 1631.6,106.0 1631.6,106.0 C1631.6,106.0 1179.3,104.5 1157.8,106.0Z" fill="#ffffb0" stroke="#000" stroke-width="0.8"/>
<path d="M1862.0,371.6 C1862.0,371.6 1827.9,375.2 1813.1,377.9 C1803.8,379.6 1794.7,383.2 1785.6,385.4 C1779.5,386.9 1766.8,389.1 1766.8,389.1 C1766.8,389.1 1772.5,392.6 1775.6,393.4 C1780.6,394.7 1789.0,396.0 1795.6,396.7 C1803.8,397.6 1812.3,398.1 1820.6,398.4 C1833.8,398.9 1862.0,399.2 1862.0,399.2 C1862.0,399.2 1862.0,371.6 1862.0,371.6Z" fill="#ffffb0" stroke="#000" stroke-width="0.8"/>
<path d="M620.2,585.2 C621.2,581.8 624.6,579.3 627.7,577.7 C632.7,575.2 639.3,573.9 645.2,572.7 C651.7,571.4 658.6,570.4 665.2,570.2 C673.5,570.0 682.1,570.4 690.3,571.5 C697.0,572.4 703.8,574.6 710.3,576.5 C716.2,578.3 722.3,580.0 727.8,582.7 C733.1,585.4 738.1,589.1 742.8,592.8 C746.4,595.7 749.7,599.3 752.8,602.8 C755.5,605.9 757.2,610.1 760.4,612.8 C765.5,617.1 780.2,625.8 786.8,631.7 C790.9,635.4 793.9,640.9 796.8,645.1 C798.6,647.7 800.0,650.7 801.8,653.4 C803.3,655.7 805.3,657.8 806.8,660.1 C808.1,662.2 810.2,664.3 810.2,666.8 C810.2,668.8 808.5,670.8 806.8,671.8 C804.4,673.2 801.2,672.7 798.5,673.5 C795.6,674.4 792.7,675.4 790.1,676.8 C788.0,677.9 786.5,680.1 784.3,681.0 C782.5,681.8 780.3,682.4 778.4,681.8 C775.4,680.9 772.9,678.4 770.1,676.8 C765.7,674.3 759.6,672.0 755.1,668.5 C752.3,666.3 751.0,662.5 748.4,660.1 C745.9,657.8 742.7,656.3 740.0,654.3 C736.7,651.9 733.4,649.2 730.0,646.8 C726.8,644.5 720.0,640.1 720.0,640.1 C720.0,640.1 717.6,645.7 715.3,645.3 C711.7,644.6 702.0,638.3 695.3,635.3 C687.1,631.7 678.3,629.0 670.2,625.3 C661.8,621.5 652.0,616.4 645.2,612.8 C641.0,610.5 636.5,608.3 632.7,605.3 C629.0,602.4 625.2,599.3 622.7,595.3 C620.9,592.4 619.3,588.5 620.2,585.2Z" fill="#ffffb0" stroke="#000" stroke-width="0.8"/>
<path d="M741.7,691.8 C741.7,691.8 747.9,687.4 750.1,685.2 C751.5,683.8 753.1,682.2 753.4,680.2 C753.7,677.9 750.7,675.5 751.7,673.5 C752.8,671.3 755.9,670.1 758.4,670.1 C762.4,670.1 766.3,672.2 770.1,673.5 C774.5,675.0 778.7,677.9 783.4,678.5 C787.8,679.0 792.4,677.5 796.8,676.8 C801.5,676.1 808.0,674.3 811.0,674.3 C812.8,674.3 814.3,676.0 816.0,676.8 C817.9,677.7 821.8,679.3 821.8,679.3 C821.8,679.3 820.9,684.4 820.2,686.8 C819.5,689.1 818.4,691.2 817.7,693.5 C816.7,696.8 816.2,700.2 815.2,703.5 C814.5,705.8 813.5,708.0 812.7,710.2 C811.9,712.4 811.4,714.8 810.2,716.9 C808.8,719.3 807.1,721.6 805.1,723.6 C803.7,725.0 802.1,726.9 800.1,726.9 C797.7,726.9 795.7,724.7 793.5,723.6 C790.2,721.9 786.8,719.9 783.4,718.5 C780.2,717.2 776.7,716.4 773.4,715.2 C770.6,714.2 767.7,713.2 765.1,711.9 C762.2,710.5 759.3,708.8 756.7,706.9 C753.8,704.9 750.9,702.7 748.4,700.2 C745.9,697.7 741.7,691.8 741.7,691.8Z" fill="#ffffb0" stroke="#000" stroke-width="0.8"/>
<path d="M841.9,676.8 C841.9,675.0 842.9,672.9 844.4,671.8 C846.5,670.2 849.3,669.8 851.9,669.3 C855.2,668.7 858.6,668.3 861.9,668.5 C864.2,668.6 866.6,669.0 868.6,670.1 C870.6,671.2 872.1,673.3 873.6,675.1 C875.4,677.2 876.9,679.7 878.6,681.8 C880.4,684.1 884.4,688.5 884.4,688.5 C884.4,688.5 881.8,690.0 880.3,690.2 C878.0,690.5 873.6,690.5 870.3,690.2 C866.9,689.9 863.5,689.2 860.2,688.5 C856.9,687.8 853.3,687.3 850.2,686.0 C848.0,685.1 846.0,683.6 844.4,681.8 C843.2,680.4 841.9,678.6 841.9,676.8Z" fill="#ffffb0" stroke="#000" stroke-width="0.8"/>
<path d="M1256.7,855.2 C1256.7,855.2 1259.0,852.8 1260.5,852.7 C1262.9,852.5 1267.2,853.4 1270.5,854.0 C1273.8,854.6 1277.6,854.8 1280.5,856.5 C1282.8,857.8 1285.5,862.7 1285.5,862.7 C1285.5,862.7 1282.7,867.0 1280.5,867.7 C1277.4,868.7 1273.7,868.5 1270.5,867.7 C1266.9,866.8 1263.2,865.2 1260.5,862.7 C1258.4,860.8 1256.7,855.2 1256.7,855.2Z" fill="#ffffb0" stroke="#000" stroke-width="0.8"/>
<path d="M1323.0,872.7 C1323.5,869.8 1326.6,867.8 1328.1,865.2 C1330.4,861.0 1333.3,854.4 1335.6,850.2 C1337.0,847.6 1338.7,845.0 1340.6,842.7 C1343.6,839.2 1347.0,835.6 1350.6,832.7 C1353.6,830.2 1357.0,827.8 1360.6,826.4 C1364.5,824.9 1368.9,823.7 1373.1,823.9 C1379.0,824.2 1384.8,826.7 1390.6,827.7 C1397.0,828.8 1404.3,828.7 1410.0,830.2 C1413.6,831.1 1416.6,833.8 1420.0,835.2 C1424.9,837.1 1430.1,838.8 1435.1,840.2 C1441.6,842.1 1448.4,844.0 1455.1,845.2 C1463.3,846.7 1471.8,848.0 1480.1,848.2 C1486.8,848.4 1494.7,847.4 1500.2,846.4 C1503.7,845.8 1507.9,844.4 1510.2,842.7 C1511.6,841.7 1512.5,839.5 1512.2,837.7 C1511.8,834.9 1508.8,829.4 1507.7,825.2 C1506.5,820.3 1504.0,815.0 1505.2,810.1 C1506.6,804.3 1510.6,798.9 1515.2,795.1 C1520.9,790.4 1528.2,787.5 1535.2,785.1 C1541.6,782.9 1548.5,782.2 1555.2,781.3 C1561.8,780.4 1568.6,779.6 1575.3,779.6 C1581.9,779.6 1588.7,780.7 1595.3,781.3 C1601.1,781.8 1607.0,783.1 1612.8,783.1 C1618.6,783.1 1624.5,781.0 1630.3,781.3 C1637.0,781.7 1643.8,783.7 1650.4,785.1 C1657.0,786.6 1663.8,788.6 1670.4,790.1 C1677.0,791.5 1683.8,792.9 1690.4,793.9 C1697.0,794.9 1703.9,795.5 1710.5,796.4 C1715.5,797.1 1720.6,797.7 1725.5,798.9 C1730.6,800.2 1735.7,801.9 1740.5,803.9 C1745.6,806.0 1750.6,808.8 1755.5,811.4 C1760.6,814.1 1765.8,817.0 1770.6,820.2 C1775.0,823.2 1779.1,827.0 1783.1,830.2 C1785.6,832.2 1787.7,835.1 1790.6,836.4 C1795.3,838.5 1800.6,839.4 1805.6,840.2 C1810.5,841.0 1815.6,841.5 1820.6,841.4 C1828.5,841.2 1862.0,838.9 1862.0,838.9 C1862.0,838.9 1862.0,964.9 1862.0,964.9 C1862.0,964.9 1831.7,964.0 1825.6,962.9 C1821.8,962.2 1819.0,958.5 1815.6,956.6 C1812.4,954.8 1809.3,951.8 1805.6,951.6 C1800.5,951.4 1795.4,953.8 1790.6,955.4 C1785.5,957.1 1780.5,959.5 1775.6,961.6 C1770.6,963.7 1765.7,966.4 1760.5,967.9 C1755.7,969.3 1750.5,970.4 1745.5,970.4 C1738.8,970.4 1732.0,969.3 1725.5,967.9 C1718.7,966.4 1712.3,963.1 1705.5,961.6 C1699.0,960.2 1692.1,959.7 1685.4,959.1 C1678.8,958.5 1672.0,958.5 1665.4,957.9 C1658.8,957.3 1652.0,956.4 1645.4,955.4 C1638.7,954.4 1632.0,952.4 1625.3,951.6 C1618.7,950.8 1611.9,950.9 1605.3,950.4 C1600.3,950.0 1595.2,948.6 1590.3,949.1 C1586.8,949.5 1583.5,951.4 1580.3,952.9 C1576.9,954.5 1574.0,958.0 1570.3,958.4 C1565.2,958.9 1560.1,956.9 1555.2,955.4 C1550.1,953.8 1545.3,950.7 1540.2,949.1 C1533.7,947.0 1526.9,945.4 1520.2,944.1 C1513.7,942.9 1506.8,942.3 1500.2,941.6 C1491.9,940.7 1483.4,939.9 1475.1,939.1 C1466.8,938.3 1458.3,937.8 1450.1,936.6 C1444.2,935.7 1438.3,934.2 1432.5,932.8 C1426.7,931.3 1420.7,929.6 1415.0,927.8 C1410.0,926.3 1402.2,923.4 1400.0,922.8 C1398.6,922.4 1397.0,923.5 1395.7,922.8 C1393.7,921.8 1388.5,918.2 1385.6,915.3 C1382.7,912.4 1381.3,907.9 1378.1,905.3 C1374.5,902.4 1369.9,900.8 1365.6,899.0 C1360.8,897.0 1355.5,895.8 1350.6,894.0 C1345.6,892.1 1340.3,890.4 1335.6,887.8 C1331.9,885.8 1328.2,883.4 1325.5,880.2 C1323.8,878.2 1322.6,875.3 1323.0,872.7Z" fill="#ffffb0" stroke="#000" stroke-width="0.8"/>
<path d="M196.9,470.1 C196.9,470.1 198.3,465.0 200.2,463.4 C203.0,461.1 206.7,460.1 210.2,459.2 C214.0,458.2 218.0,457.4 221.9,457.6 C224.8,457.7 230.3,460.1 230.3,460.1 C230.3,460.1 227.1,463.2 225.2,464.2 C222.1,465.7 218.5,466.4 215.2,467.6 C211.9,468.9 208.7,471.3 205.2,471.8 C202.4,472.2 196.9,470.1 196.9,470.1Z" fill="#cfcfcf" stroke="#000" stroke-width="0.8"/>
<path d="M110.1,548.5 C109.2,544.8 110.3,540.7 110.9,536.9 C111.4,533.5 111.7,529.8 113.4,526.8 C114.9,524.1 117.4,521.8 120.1,520.2 C124.2,517.8 129.1,517.1 133.4,515.2 C137.9,513.2 142.8,511.4 146.8,508.5 C150.6,505.8 153.5,501.8 156.8,498.5 C159.5,495.7 161.9,492.3 165.1,490.1 C168.6,487.8 172.8,486.3 176.8,485.1 C182.2,483.5 187.9,481.9 193.5,481.8 C198.0,481.7 202.5,483.3 206.9,484.3 C209.7,484.9 215.2,486.8 215.2,486.8 C215.2,486.8 214.5,491.4 213.6,493.5 C212.3,496.4 208.9,498.6 208.5,501.8 C208.2,504.3 210.7,506.3 211.9,508.5 C213.5,511.3 215.9,513.8 216.9,516.8 C217.9,520.0 218.2,523.5 217.7,526.8 C217.1,530.3 215.4,533.8 213.6,536.9 C211.8,539.9 209.5,542.8 206.9,545.2 C203.9,547.9 200.3,549.8 196.9,551.9 C193.1,554.2 189.2,556.6 185.2,558.6 C181.4,560.5 177.2,561.6 173.5,563.6 C170.0,565.5 167.0,568.4 163.5,570.3 C160.4,572.0 157.0,574.0 153.5,574.4 C150.2,574.8 146.7,573.3 143.4,572.8 C139.6,572.2 135.6,571.9 131.8,571.1 C129.0,570.5 125.5,570.6 123.4,568.6 C121.2,566.6 121.5,562.8 120.1,560.2 C118.8,557.8 116.9,555.7 115.1,553.6 C113.6,551.8 110.7,550.8 110.1,548.5Z" fill="#cfcfcf" stroke="#000" stroke-width="0.8"/>
<path d="M119.6,578.2 C119.6,578.2 121.9,574.2 123.8,573.2 C126.6,571.8 130.0,571.2 133.1,571.2 C136.3,571.2 139.7,571.8 142.6,573.2 C144.5,574.2 146.9,578.2 146.9,578.2 C146.9,578.2 144.5,582.2 142.6,583.2 C139.7,584.6 136.3,585.2 133.1,585.2 C130.0,585.2 126.6,584.6 123.8,583.2 C121.9,582.2 119.6,578.2 119.6,578.2Z" fill="#cfcfcf" stroke="#000" stroke-width="0.8"/>
<path d="M146.3,599.0 C146.3,599.0 151.9,595.0 155.1,594.0 C159.1,592.8 163.4,592.1 167.6,592.3 C171.0,592.5 175.0,593.1 177.6,595.3 C180.4,597.7 180.5,602.3 182.7,605.3 C184.7,608.1 188.0,610.4 190.2,612.8 C191.6,614.3 193.9,617.8 193.9,617.8 C193.9,617.8 189.7,618.2 187.7,617.8 C184.5,617.2 179.2,615.4 175.1,614.0 C170.9,612.5 166.8,610.5 162.6,609.0 C158.5,607.6 153.4,607.3 150.1,605.3 C148.0,604.0 146.3,599.0 146.3,599.0Z" fill="#cfcfcf" stroke="#000" stroke-width="0.8"/>
<path d="M237.7,617.8 C237.7,613.6 241.9,609.2 240.2,605.3 C238.7,601.9 233.9,600.7 230.2,600.3 C225.2,599.8 220.1,601.7 215.2,602.8 C211.0,603.7 206.9,607.1 202.7,606.5 C200.1,606.1 198.4,602.8 197.7,600.3 C197.0,597.9 198.1,595.2 198.9,592.8 C199.8,590.1 201.4,587.7 202.7,585.2 C204.3,581.9 205.1,577.8 207.7,575.2 C211.1,571.8 215.5,568.7 220.2,567.7 C223.5,567.0 227.0,569.0 230.2,570.2 C233.6,571.5 236.7,573.7 240.0,575.1 C242.4,576.1 245.0,576.8 247.5,577.6 C250.0,578.4 252.4,579.9 255.0,580.1 C258.3,580.3 261.7,579.3 265.0,578.8 C268.3,578.3 271.7,577.1 275.1,576.9 C278.4,576.7 281.9,576.7 285.1,577.6 C287.1,578.2 288.1,580.7 290.1,581.3 C292.5,582.0 295.1,581.1 297.6,581.3 C300.1,581.5 302.7,581.9 305.1,582.6 C306.9,583.1 309.1,583.6 310.1,585.1 C311.0,586.5 310.6,588.5 310.1,590.1 C309.4,592.4 308.1,594.6 306.4,596.3 C304.7,598.0 302.3,599.0 300.1,600.1 C298.1,601.1 295.8,601.6 293.8,602.6 C291.7,603.7 289.3,604.7 287.6,606.4 C285.9,608.1 285.0,610.5 283.8,612.6 C282.9,614.2 281.3,617.6 281.3,617.6 C281.3,617.6 285.6,618.3 287.6,618.9 C289.7,619.5 292.1,620.0 293.8,621.4 C295.2,622.6 296.1,624.6 296.3,626.4 C296.5,628.5 296.0,630.7 295.1,632.6 C294.3,634.2 293.0,635.8 291.3,636.4 C289.0,637.2 286.3,636.6 283.8,636.4 C281.7,636.2 279.6,635.5 277.6,635.1 C275.5,634.7 273.4,634.3 271.3,633.9 C269.2,633.5 267.1,633.0 265.0,632.6 C263.0,632.2 260.8,631.8 258.8,631.4 C256.7,631.0 254.6,630.5 252.5,630.1 C250.5,629.7 248.3,629.3 246.3,628.9 C244.2,628.5 241.3,629.3 240.0,627.6 C238.0,625.0 237.7,621.1 237.7,617.8Z" fill="#cfcfcf" stroke="#000" stroke-width="0.8"/>
<path d="M261.3,542.5 C261.8,540.8 263.3,539.3 265.0,538.7 C267.6,537.8 273.4,537.1 277.6,536.9 C282.5,536.7 287.7,537.0 292.6,537.5 C297.6,538.0 305.0,538.9 307.6,540.0 C309.2,540.7 309.5,543.2 309.5,545.0 C309.5,546.8 309.0,548.9 307.6,550.0 C305.6,551.6 302.6,551.9 300.1,552.5 C297.7,553.1 295.1,553.3 292.6,553.8 C290.1,554.3 287.6,555.1 285.1,555.6 C282.6,556.1 280.1,556.8 277.6,556.9 C275.1,557.0 272.4,557.1 270.0,556.3 C268.0,555.6 266.3,554.1 265.0,552.5 C263.8,551.1 263.1,549.2 262.5,547.5 C261.9,545.9 260.8,544.1 261.3,542.5Z" fill="#cfcfcf" stroke="#000" stroke-width="0.8"/>
<path d="M317.6,551.3 C317.6,551.3 320.7,548.3 322.6,547.5 C324.9,546.6 327.6,546.3 330.1,546.3 C332.2,546.3 334.6,546.4 336.4,547.5 C338.2,548.6 339.9,550.4 340.2,552.5 C340.4,554.3 339.1,556.3 337.7,557.5 C336.0,559.0 333.6,559.8 331.4,560.0 C329.3,560.2 327.1,559.5 325.1,558.8 C323.3,558.2 321.4,557.6 320.1,556.3 C318.8,555.0 317.6,551.3 317.6,551.3Z" fill="#cfcfcf" stroke="#000" stroke-width="0.8"/>
<path d="M342.0,612.6 C342.0,610.5 342.7,608.2 343.9,606.4 C344.7,605.1 346.2,604.0 347.7,603.8 C349.4,603.6 351.2,604.3 352.7,605.1 C355.1,606.3 357.7,608.5 360.2,610.1 C362.7,611.8 365.2,613.5 367.7,615.1 C370.2,616.8 372.8,618.4 375.2,620.1 C376.9,621.3 378.7,622.4 380.2,623.9 C381.2,624.9 382.7,626.1 382.7,627.6 C382.7,629.4 381.9,631.9 380.2,632.6 C377.9,633.5 375.1,632.3 372.7,631.4 C370.4,630.6 368.6,628.6 366.4,627.6 C364.0,626.5 361.3,626.2 358.9,625.1 C355.9,623.7 353.1,621.8 350.2,620.1 C348.1,618.9 345.6,617.9 343.9,616.4 C342.9,615.5 342.0,614.0 342.0,612.6Z" fill="#cfcfcf" stroke="#000" stroke-width="0.8"/>
<path d="M412.8,613.9 C412.8,613.9 416.0,611.6 417.8,611.4 C419.9,611.2 422.1,611.8 424.0,612.6 C425.9,613.4 427.3,615.2 429.0,616.4 C430.7,617.6 432.9,618.4 434.1,620.1 C435.1,621.5 435.3,625.1 435.3,625.1 C435.3,625.1 431.9,625.6 430.3,625.1 C428.0,624.3 426.2,622.5 424.0,621.4 C422.0,620.4 419.6,620.1 417.8,618.9 C415.9,617.6 412.8,613.9 412.8,613.9Z" fill="#cfcfcf" stroke="#000" stroke-width="0.8"/>
<path d="M340.2,453.3 C340.2,453.3 342.7,452.4 343.9,452.7 C345.8,453.2 348.0,455.0 350.2,455.8 C352.2,456.5 356.4,457.1 356.4,457.1 C356.4,457.1 354.0,458.7 352.7,458.9 C350.6,459.1 348.3,459.2 346.4,458.3 C344.0,457.2 340.2,453.3 340.2,453.3Z" fill="#cfcfcf" stroke="#000" stroke-width="0.8"/>
<path d="M60.0,680.9 C60.0,680.9 87.5,683.7 93.4,685.1 C97.1,686.0 99.9,689.4 103.4,690.9 C107.6,692.7 112.2,693.9 116.7,695.1 C121.6,696.4 126.7,697.7 131.8,698.4 C136.7,699.1 141.9,698.7 146.8,699.2 C150.7,699.6 154.7,699.9 158.5,700.9 C162.5,701.9 166.2,704.0 170.2,705.1 C174.5,706.3 179.0,707.5 183.5,707.6 C188.0,707.7 192.5,706.4 196.9,705.9 C202.4,705.3 208.1,705.0 213.6,704.3 C218.0,703.7 222.5,702.6 226.9,701.8 C229.7,701.3 232.5,700.2 235.3,700.4 C239.2,700.7 243.1,702.2 246.9,703.4 C250.3,704.5 253.5,706.7 257.0,707.6 C260.7,708.6 264.7,709.0 268.6,709.3 C272.5,709.6 276.5,708.9 280.3,709.3 C284.8,709.7 289.3,710.9 293.7,711.8 C297.0,712.5 300.3,714.2 303.7,714.3 C307.0,714.4 310.4,712.9 313.7,712.6 C319.0,712.1 324.9,711.8 330.4,711.8 C335.9,711.8 341.6,712.2 347.1,712.6 C352.6,713.0 358.3,713.9 363.8,714.3 C369.3,714.7 376.5,714.8 380.5,715.1 C383.0,715.3 388.0,715.9 388.0,715.9 C388.0,715.9 383.2,720.1 380.5,721.8 C377.4,723.8 373.8,725.1 370.5,726.8 C367.2,728.4 363.7,729.9 360.5,731.8 C357.1,733.8 353.8,736.3 350.5,738.5 C347.2,740.7 343.9,743.2 340.4,745.2 C337.2,747.1 333.8,749.2 330.4,750.2 C328.3,750.8 325.5,751.0 323.7,750.2 C322.6,749.7 323.1,747.5 322.1,746.8 C320.7,745.9 318.7,746.3 317.1,746.0 C314.5,745.5 309.2,744.4 305.4,743.5 C301.5,742.5 297.6,741.2 293.7,740.2 C289.3,739.0 284.9,736.8 280.3,736.8 C276.3,736.8 268.6,740.2 268.6,740.2 C268.6,740.2 273.7,746.0 273.7,746.0 C273.7,746.0 270.6,749.0 268.6,749.3 C266.4,749.6 264.2,748.3 262.0,747.7 C259.2,746.9 256.4,745.8 253.6,745.2 C249.2,744.2 244.7,743.5 240.3,742.7 C235.9,741.9 231.3,741.2 226.9,740.2 C222.5,739.2 218.0,737.8 213.6,736.8 C209.2,735.8 204.7,734.8 200.2,734.3 C195.8,733.8 191.2,733.4 186.8,733.5 C182.4,733.6 177.8,734.3 173.5,735.1 C169.0,735.9 164.4,736.9 160.1,738.5 C155.5,740.2 151.0,742.7 146.8,745.2 C142.7,747.6 138.5,750.2 135.1,753.5 C132.6,755.8 130.6,758.8 129.2,761.9 C127.8,765.0 128.2,768.9 126.7,771.9 C125.1,775.0 122.9,778.1 120.1,780.2 C117.2,782.4 113.4,783.0 110.1,784.4 C105.7,786.3 101.4,789.2 96.7,790.2 C89.2,791.8 60.0,795.2 60.0,795.2 C60.0,795.2 60.0,680.9 60.0,680.9Z" fill="#cfcfcf" stroke="#000" stroke-width="0.8"/>
<path d="M302.0,726.8 C302.0,726.8 307.2,722.4 310.4,721.8 C313.7,721.2 317.2,722.4 320.4,723.5 C323.9,724.7 328.1,726.9 330.4,728.5 C331.9,729.5 333.8,732.6 333.8,732.6 C333.8,732.6 327.0,733.9 323.7,733.5 C319.7,733.0 315.9,731.3 312.1,730.1 C308.7,729.1 302.0,726.8 302.0,726.8Z" fill="#ffffb0" stroke="#000" stroke-width="0.8"/>
<path d="M60.0,872.7 C60.0,872.7 88.0,875.2 95.0,876.5 C99.4,877.3 103.1,881.8 107.5,881.5 C111.4,881.3 114.2,877.1 117.6,875.2 C121.6,873.0 125.8,870.7 130.1,869.0 C136.6,866.5 143.4,864.6 150.1,862.7 C156.6,860.9 163.4,858.7 170.1,857.7 C177.5,856.6 185.2,856.6 192.7,856.5 C200.1,856.4 207.8,857.7 215.2,857.2 C220.3,856.9 225.3,855.3 230.2,854.0 C234.4,852.9 238.4,850.0 242.7,849.7 C246.1,849.4 250.0,850.2 252.8,852.2 C255.4,854.0 255.8,857.8 257.8,860.2 C260.0,862.9 262.3,865.9 265.3,867.7 C269.9,870.5 275.3,872.1 280.3,874.0 C285.2,875.8 292.0,878.8 295.3,879.0 C297.4,879.1 298.4,876.0 300.3,875.2 C302.6,874.3 307.8,874.0 307.8,874.0 C307.8,874.0 307.4,879.6 309.1,881.5 C311.8,884.5 316.4,886.3 320.4,887.8 C325.2,889.6 330.4,890.4 335.4,891.5 C339.5,892.4 344.0,892.5 347.9,894.0 C351.5,895.4 354.8,898.0 357.9,900.3 C361.4,902.9 363.7,907.6 367.9,909.0 C371.9,910.3 376.4,908.5 380.5,907.8 C383.9,907.3 387.1,904.7 390.5,905.3 C395.0,906.0 398.7,909.8 403.0,911.5 C407.0,913.1 412.7,912.0 415.5,915.3 C418.2,918.5 417.2,923.7 416.8,927.8 C416.3,933.3 416.2,939.6 413.0,944.1 C410.3,947.8 404.6,948.3 400.5,950.4 C395.6,952.9 390.3,955.1 385.5,957.9 C380.3,960.9 375.3,964.5 370.4,967.9 C367.0,970.3 363.3,972.5 360.4,975.4 C357.5,978.3 356.4,983.3 352.9,985.4 C347.7,988.5 340.9,988.1 335.4,990.4 C331.0,992.3 325.4,993.8 322.9,997.9 C318.9,1004.5 319.0,1023.8 310.3,1032.0 C304.6,1037.4 286.6,1032.0 286.6,1032.0 C286.6,1032.0 284.8,1005.4 282.8,1000.4 C281.5,997.2 276.2,997.4 272.8,997.9 C270.2,998.3 267.1,1000.3 266.5,1002.9 C265.5,1007.0 264.8,1032.0 264.8,1032.0 C264.8,1032.0 60.0,1032.0 60.0,1032.0 C60.0,1032.0 60.0,872.7 60.0,872.7Z" fill="#cfcfcf" stroke="#000" stroke-width="0.8"/>
<path d="M266.5,842.7 C266.5,840.3 268.3,835.6 270.3,832.7 C273.0,828.9 276.3,825.1 280.3,822.7 C284.8,820.0 290.4,819.5 295.3,817.7 C300.3,815.8 305.3,813.4 310.3,811.4 C316.1,809.1 321.7,805.4 327.9,804.6 C332.1,804.1 337.1,805.7 340.4,807.6 C342.5,808.8 342.6,812.0 344.1,813.9 C345.5,815.6 347.1,817.7 349.2,818.2 C352.0,818.9 355.1,817.8 357.9,817.2 C362.1,816.4 366.4,815.3 370.4,813.9 C373.8,812.7 377.4,811.5 380.5,809.6 C382.9,808.1 386.7,803.9 386.7,803.9 C386.7,803.9 379.0,801.8 375.4,800.1 C371.9,798.4 368.3,796.5 365.4,793.9 C362.6,791.4 359.8,787.7 358.4,785.1 C357.6,783.5 357.9,779.6 357.9,779.6 C357.9,779.6 366.3,778.2 370.4,777.6 C376.2,776.8 382.2,776.2 388.0,775.6 C393.8,775.0 399.7,773.4 405.5,773.8 C409.8,774.1 413.8,776.6 418.0,777.6 C423.7,779.0 429.7,780.1 435.5,781.3 C439.7,782.2 444.5,781.6 448.1,783.9 C450.9,785.7 453.1,789.3 453.1,792.6 C453.1,796.3 451.0,800.3 448.1,802.6 C444.7,805.3 439.8,805.7 435.5,806.4 C431.4,807.0 427.0,805.5 423.0,806.4 C419.4,807.2 415.5,808.7 413.0,811.4 C411.0,813.6 410.0,817.2 410.5,820.2 C411.0,823.1 413.2,825.8 415.5,827.7 C418.3,830.1 425.5,832.7 425.5,832.7 C425.5,832.7 430.0,828.1 430.5,825.2 C430.9,823.0 428.0,818.9 428.0,818.9 C428.0,818.9 433.5,821.7 435.5,823.9 C437.7,826.4 439.2,829.6 440.5,832.7 C441.7,835.4 443.0,841.4 443.0,841.4 C443.0,841.4 450.0,841.5 453.1,840.2 C456.9,838.6 459.4,834.5 463.1,832.7 C466.1,831.2 469.7,829.8 473.1,830.2 C477.5,830.7 481.6,833.4 485.6,835.2 C490.6,837.5 495.6,840.2 500.6,842.7 C505.6,845.2 511.0,847.2 515.7,850.2 C520.2,853.0 524.1,856.9 528.2,860.2 C532.3,863.5 537.0,866.5 540.7,870.2 C543.6,873.1 546.4,876.5 548.2,880.2 C549.7,883.3 549.1,887.3 550.7,890.3 C552.3,893.3 555.3,895.4 557.6,897.8 C560.8,901.2 565.7,905.1 567.6,907.8 C568.8,909.5 569.6,912.1 568.8,914.0 C568.1,915.7 565.5,917.4 563.8,916.6 C561.1,915.4 558.3,910.3 555.1,907.8 C551.3,904.9 546.7,902.7 542.5,900.3 C538.7,898.1 534.9,895.5 530.7,894.0 C526.7,892.6 522.2,892.9 518.2,891.5 C513.8,890.0 510.1,886.5 505.6,885.3 C500.8,884.0 495.6,884.1 490.6,884.0 C484.0,883.9 477.2,884.8 470.6,884.8 C464.0,884.8 457.1,885.3 450.6,884.0 C445.3,882.9 440.1,880.5 435.5,877.7 C431.7,875.5 429.6,870.5 425.5,869.0 C422.4,867.8 418.7,869.3 415.5,870.2 C411.2,871.4 407.3,873.9 403.0,875.2 C399.0,876.4 394.7,878.2 390.5,877.7 C387.5,877.3 385.0,874.9 383.0,872.7 C380.7,870.3 379.9,866.6 377.9,864.0 C376.6,862.3 375.0,860.2 372.9,859.7 C369.5,859.0 364.5,859.8 360.4,860.2 C355.4,860.7 350.3,861.9 345.4,862.7 C340.4,863.5 334.1,864.1 330.4,865.2 C328.1,865.9 324.1,869.0 324.1,869.0 C324.1,869.0 322.9,861.5 320.4,859.0 C317.9,856.5 313.6,856.4 310.3,855.2 C307.0,854.0 303.7,852.6 300.3,851.5 C295.4,849.9 290.3,848.3 285.3,847.2 C280.4,846.2 272.6,845.8 270.3,845.2 C268.8,844.9 266.5,844.2 266.5,842.7Z" fill="#cfcfcf" stroke="#000" stroke-width="0.8"/>
<path d="M441.8,730.0 C441.8,730.0 445.9,727.7 448.1,727.5 C450.6,727.3 453.5,727.5 455.6,728.8 C457.2,729.8 458.1,733.8 458.1,733.8 C458.1,733.8 453.3,736.8 450.6,737.0 C448.4,737.2 446.0,736.4 444.3,735.0 C442.9,733.9 441.8,730.0 441.8,730.0Z" fill="#cfcfcf" stroke="#000" stroke-width="0.8"/>
<path d="M525.7,935.3 C525.9,933.0 528.5,931.0 530.7,930.3 C533.1,929.6 536.1,930.2 538.2,931.6 C539.7,932.6 540.6,934.9 540.2,936.6 C539.7,938.8 537.6,940.4 535.7,941.6 C533.9,942.7 529.4,943.3 529.4,943.3 C529.4,943.3 525.4,938.2 525.7,935.3Z" fill="#cfcfcf" stroke="#000" stroke-width="0.8"/>
<path d="M442.5,729.4 C442.5,729.4 446.3,727.6 448.3,727.7 C451.2,727.9 454.7,729.0 456.7,730.3 C457.9,731.1 458.4,734.4 458.4,734.4 C458.4,734.4 452.8,736.4 450.0,736.1 C447.5,735.8 444.7,734.0 443.3,732.8 C442.4,732.0 442.5,729.4 442.5,729.4Z" fill="#cfcfcf" stroke="#000" stroke-width="0.8"/>
<path d="M1729.2,889.0 C1729.2,889.0 1733.4,887.1 1735.5,887.3 C1738.9,887.6 1742.1,889.7 1745.5,890.3 C1749.6,891.1 1754.8,890.6 1758.0,891.5 C1760.0,892.1 1763.0,895.3 1763.0,895.3 C1763.0,895.3 1758.1,897.7 1755.5,897.8 C1751.3,897.9 1747.1,896.6 1743.0,895.8 C1739.7,895.1 1735.7,894.6 1733.0,893.3 C1731.3,892.5 1729.2,889.0 1729.2,889.0Z" fill="#cfcfcf" stroke="#000" stroke-width="0.8"/>
<path d="M60.0,349.1 C60.0,349.1 88.7,349.4 91.3,349.8 C92.9,350.0 94.0,352.5 93.8,354.1 C93.5,356.2 92.0,358.7 90.0,359.1 C86.8,359.8 60.0,361.6 60.0,361.6 C60.0,361.6 60.0,349.1 60.0,349.1Z" fill="#cfcfcf" stroke="#000" stroke-width="0.8"/>
<path d="M216.5,922.8 C216.8,921.1 218.7,919.9 220.2,919.1 C221.7,918.3 223.6,917.7 225.2,918.3 C227.3,919.1 228.0,922.7 230.2,922.8 C233.7,923.0 238.6,920.2 242.7,919.1 C246.0,918.2 249.4,916.9 252.8,916.6 C256.9,916.3 261.2,916.6 265.3,917.3 C268.3,917.8 271.8,918.2 274.0,920.3 C275.9,922.1 276.7,925.2 276.5,927.8 C276.3,930.6 274.3,933.0 272.8,935.3 C271.4,937.5 270.2,940.5 267.8,941.6 C264.0,943.3 259.4,942.4 255.3,943.3 C251.9,944.1 248.7,946.1 245.2,946.6 C241.1,947.2 236.7,947.5 232.7,946.6 C229.1,945.8 225.4,944.1 222.7,941.6 C220.2,939.3 218.7,936.0 217.7,932.8 C216.7,929.6 216.0,925.5 216.5,922.8Z" fill="#7ce2fe" stroke="#000" stroke-width="0.8"/>
<path d="M636.2,635.1 C636.2,635.1 642.3,633.7 645.3,633.4 C650.2,632.9 655.4,633.0 660.4,632.6 C665.9,632.2 671.6,630.8 677.1,630.9 C681.6,631.0 686.1,632.3 690.4,633.4 C693.8,634.3 697.3,635.2 700.4,636.8 C702.9,638.0 705.1,639.9 707.1,641.8 C708.5,643.2 710.5,646.8 710.5,646.8 C710.5,646.8 706.3,649.9 703.8,650.1 C699.9,650.4 694.8,648.9 690.4,648.4 C684.9,647.8 679.2,647.3 673.7,646.8 C668.2,646.3 662.5,646.0 657.0,645.1 C652.5,644.4 647.8,643.8 643.7,641.8 C640.7,640.4 636.2,635.1 636.2,635.1Z" fill="#7ce2fe" stroke="#000" stroke-width="0.8"/>
<path d="M713.8,656.8 C713.8,656.8 720.6,656.8 723.8,657.6 C727.3,658.5 731.6,660.1 733.8,661.8 C735.2,662.9 735.5,666.8 735.5,666.8 C735.5,666.8 729.8,665.8 727.1,665.1 C723.7,664.2 719.8,663.5 717.1,661.8 C715.4,660.8 713.8,656.8 713.8,656.8Z" fill="#7ce2fe" stroke="#000" stroke-width="0.8"/>
<path d="M501.8,600.0 C502.7,598.1 504.8,596.8 506.8,595.9 C509.4,594.8 512.3,594.3 515.1,594.2 C518.4,594.0 522.6,593.8 525.1,595.0 C526.7,595.8 527.3,598.3 526.8,600.0 C526.1,602.7 523.8,604.8 521.8,606.7 C519.9,608.5 517.6,610.3 515.1,610.9 C512.4,611.5 509.3,611.3 506.8,610.1 C504.8,609.2 503.6,607.0 502.6,605.0 C501.9,603.5 501.1,601.5 501.8,600.0Z" fill="#7ce2fe" stroke="#000" stroke-width="0.8"/>
<path d="M745.0,765.3 C745.0,765.3 748.1,761.9 750.1,761.1 C753.2,759.9 756.8,759.8 760.1,759.4 C764.5,758.9 769.0,758.9 773.4,758.6 C776.7,758.4 780.1,757.6 783.4,757.8 C785.7,757.9 790.1,759.4 790.1,759.4 C790.1,759.4 789.8,763.4 788.4,764.5 C786.2,766.3 782.9,766.9 780.1,767.8 C776.9,768.8 773.5,769.8 770.1,770.3 C766.3,770.9 762.3,771.2 758.4,771.1 C755.1,771.0 751.0,770.6 748.4,769.5 C746.8,768.8 745.0,765.3 745.0,765.3Z" fill="#7ce2fe" stroke="#000" stroke-width="0.8"/>
<path d="M784.3,748.6 C784.3,748.6 786.8,746.2 788.4,746.1 C790.7,745.9 793.2,746.5 795.1,747.8 C796.8,748.9 798.5,752.8 798.5,752.8 C798.5,752.8 795.5,755.8 793.5,756.1 C791.2,756.4 788.6,755.8 786.8,754.4 C785.2,753.1 784.3,748.6 784.3,748.6Z" fill="#7ce2fe" stroke="#000" stroke-width="0.8"/>
<path d="M60.0,369.1 C60.0,369.1 90.2,366.3 100.0,362.9 C106.1,360.8 110.5,354.9 115.1,350.3 C120.5,344.9 124.7,338.2 130.1,332.8 C134.7,328.2 139.3,323.2 145.1,320.3 C151.2,317.3 158.4,316.5 165.1,315.3 C172.5,314.0 180.2,313.3 187.7,312.8 C195.1,312.3 202.8,311.9 210.2,312.3 C216.9,312.7 223.7,313.8 230.2,315.3 C237.0,316.9 245.1,319.9 250.3,321.5 C253.6,322.5 257.6,323.2 260.3,324.2 C262.0,324.8 264.4,325.4 265.0,327.1 C265.8,329.1 263.9,331.3 263.8,333.4 C263.7,335.6 263.6,338.0 264.2,340.1 C264.8,342.2 266.0,344.3 267.5,345.9 C269.1,347.6 271.2,348.8 273.4,349.7 C275.5,350.5 277.9,350.8 280.1,350.9 C282.3,351.0 284.5,350.4 286.7,350.1 C288.9,349.8 291.2,349.7 293.4,349.3 C296.2,348.8 299.2,348.6 301.8,347.6 C303.7,346.9 305.1,345.4 306.8,344.3 C308.2,343.4 309.4,342.0 311.0,341.8 C313.6,341.5 316.5,342.6 319.3,342.6 C322.1,342.6 324.9,341.7 327.6,341.8 C330.2,341.9 332.8,342.4 335.2,343.4 C336.8,344.1 338.4,345.3 339.3,346.8 C340.2,348.2 340.3,350.1 340.2,351.8 C340.1,353.5 339.2,355.2 338.5,356.8 C337.8,358.5 337.2,360.4 336.0,361.8 C334.9,363.0 333.4,363.9 331.8,364.3 C329.3,365.0 326.3,365.1 323.5,365.1 C320.7,365.1 317.9,364.6 315.1,364.3 C312.4,364.0 309.5,363.3 306.8,363.5 C305.1,363.6 303.3,364.2 301.8,365.1 C300.4,365.9 299.4,367.3 298.4,368.5 C297.2,370.0 295.8,371.6 295.1,373.5 C294.4,375.6 294.2,378.0 294.3,380.2 C294.4,382.2 294.2,384.9 295.9,386.0 C298.6,387.7 310.1,390.1 310.1,390.1 C310.1,390.1 302.7,393.5 300.1,395.1 C298.5,396.1 296.8,397.3 295.7,398.8 C294.3,400.7 293.8,403.1 292.6,405.1 C291.1,407.7 289.5,410.3 287.6,412.6 C285.4,415.3 282.8,417.8 280.1,420.1 C276.9,422.8 273.4,425.3 270.0,427.6 C266.8,429.8 263.4,432.0 260.0,433.9 C256.8,435.7 253.5,437.6 250.0,438.9 C246.8,440.1 243.3,440.8 240.0,441.4 C236.8,442.0 233.4,441.8 230.2,442.5 C225.1,443.5 215.6,445.9 210.2,447.5 C206.8,448.5 203.6,450.3 200.2,451.3 C195.3,452.8 190.2,454.0 185.2,455.1 C178.6,456.5 171.7,457.6 165.1,458.8 C158.5,460.0 151.7,461.3 145.1,462.1 C138.5,462.9 131.7,464.1 125.1,463.8 C118.4,463.5 111.7,461.0 105.0,460.1 C94.3,458.7 60.0,455.1 60.0,455.1 C60.0,455.1 60.0,369.1 60.0,369.1Z" fill="#ffff14" stroke="#000" stroke-width="0.8"/>
<path d="M317.4,480.1 C317.2,477.8 318.7,475.4 320.4,473.8 C323.1,471.2 326.7,468.8 330.4,467.6 C334.3,466.3 338.8,465.7 342.9,466.3 C346.9,466.9 350.2,470.3 354.2,471.3 C358.6,472.4 363.5,471.4 367.9,472.6 C371.1,473.5 375.1,474.7 376.7,477.6 C378.1,480.1 376.7,483.7 375.4,486.3 C373.7,489.7 370.4,492.2 367.9,495.1 C365.4,498.0 363.5,501.6 360.4,503.9 C357.5,506.0 354.0,507.9 350.4,508.1 C347.0,508.3 343.4,506.8 340.4,505.1 C336.6,502.9 333.7,499.3 330.4,496.4 C327.5,493.9 324.0,491.9 321.6,488.9 C319.6,486.4 317.7,483.3 317.4,480.1Z" fill="#ffff14" stroke="#000" stroke-width="0.8"/>
<path d="M398.4,528.4 C398.2,525.6 399.3,522.8 400.1,520.1 C401.0,517.2 402.1,514.4 403.4,511.7 C404.3,509.9 405.4,508.2 406.8,506.7 C408.2,505.1 409.9,503.5 411.8,502.6 C413.3,501.9 415.2,501.6 416.8,502.1 C418.3,502.5 419.8,503.7 420.6,505.1 C421.5,506.5 421.8,508.4 421.8,510.1 C421.8,512.3 421.3,514.6 420.6,516.7 C419.9,518.8 418.7,520.7 417.6,522.6 C416.6,524.3 415.0,525.7 414.3,527.6 C413.6,529.7 413.5,534.3 413.5,534.3 C413.5,534.3 409.0,534.9 406.8,534.7 C404.8,534.6 402.5,534.6 400.9,533.4 C399.4,532.3 398.5,530.2 398.4,528.4Z" fill="#ffff14" stroke="#000" stroke-width="0.8"/>
<path d="M392.1,558.8 C392.1,558.8 395.0,557.3 396.5,557.5 C398.7,557.7 400.7,559.3 402.8,560.0 C405.2,560.8 407.8,561.3 410.3,561.9 C412.8,562.5 415.3,563.3 417.8,563.8 C420.3,564.3 422.9,564.2 425.3,565.0 C427.5,565.7 429.6,566.9 431.5,568.2 C433.8,569.8 435.9,571.8 437.8,573.8 C439.6,575.7 441.2,578.0 442.8,580.1 C444.5,582.5 446.5,584.9 447.8,587.6 C449.0,589.9 450.5,592.5 450.3,595.1 C450.1,597.5 448.2,599.5 446.6,601.3 C444.8,603.3 442.8,605.5 440.3,606.4 C438.7,606.9 436.7,606.0 435.3,605.1 C433.3,603.9 431.9,601.8 430.3,600.1 C428.2,598.0 426.0,596.0 424.0,593.8 C422.2,591.9 420.4,589.8 419.0,587.6 C417.5,585.3 416.8,582.4 415.3,580.1 C413.9,577.9 412.1,575.8 410.3,573.8 C408.8,572.1 407.1,570.3 405.3,568.8 C403.7,567.4 402.1,566.1 400.3,565.0 C398.7,564.0 396.7,563.6 395.2,562.5 C393.9,561.5 392.1,558.8 392.1,558.8Z" fill="#ffff14" stroke="#000" stroke-width="0.8"/>
<path d="M457.5,620.1 C457.8,618.4 460.0,617.4 461.7,617.1 C464.4,616.6 467.4,617.1 470.1,617.6 C474.0,618.3 478.0,619.6 481.7,620.9 C485.7,622.3 489.5,624.2 493.4,625.9 C497.8,627.8 502.3,630.0 506.8,631.8 C511.1,633.6 515.6,635.4 520.1,636.8 C524.4,638.2 529.0,639.1 533.5,640.1 C537.9,641.0 542.4,641.9 546.8,642.6 C551.2,643.3 555.8,643.8 560.2,644.3 C564.6,644.8 569.2,645.5 573.6,645.9 C578.0,646.3 582.6,646.1 586.9,646.8 C591.4,647.5 595.9,648.9 600.3,650.1 C604.7,651.3 609.3,652.7 613.6,654.3 C618.1,656.0 622.6,658.1 627.0,660.1 C631.5,662.2 636.0,664.4 640.3,666.8 C644.8,669.4 649.1,672.6 653.7,675.2 C658.0,677.6 662.6,679.6 667.0,681.8 C671.4,684.0 676.0,686.3 680.4,688.5 C684.8,690.7 689.4,693.0 693.8,695.2 C698.2,697.4 702.9,699.3 707.1,701.9 C711.8,704.8 716.2,708.5 720.5,711.9 C724.5,715.1 728.5,718.4 732.2,721.9 C736.2,725.6 740.3,730.1 743.8,733.6 C746.0,735.8 750.5,740.3 750.5,740.3 C750.5,740.3 743.4,735.2 743.4,735.2 C743.4,735.2 748.9,739.0 750.1,740.3 C750.8,741.1 750.9,743.6 750.9,743.6 C750.9,743.6 746.9,743.5 745.0,742.8 C742.1,741.8 736.7,738.6 736.7,738.6 C736.7,738.6 740.5,742.8 740.5,742.8 C740.5,742.8 733.8,738.9 730.5,736.9 C726.1,734.2 721.5,731.4 717.1,728.6 C712.7,725.8 708.2,723.0 703.8,720.2 C699.4,717.4 694.9,714.5 690.4,711.9 C686.1,709.3 681.5,706.8 677.1,704.4 C672.7,702.1 668.3,699.6 663.7,697.7 C659.4,696.0 654.8,695.0 650.4,693.5 C645.9,692.0 641.4,690.1 637.0,688.5 C633.7,687.3 630.4,686.0 627.0,685.2 C622.6,684.1 618.0,683.4 613.6,682.7 C609.2,682.0 604.7,681.1 600.3,681.0 C595.9,680.9 591.3,681.3 586.9,681.8 C582.5,682.3 578.0,683.5 573.6,684.3 C569.2,685.1 564.7,686.5 560.2,686.8 C555.8,687.1 551.2,686.8 546.8,686.0 C542.3,685.2 537.8,683.5 533.5,681.8 C528.9,680.0 524.4,677.6 520.1,675.2 C515.6,672.7 511.1,669.7 506.8,666.8 C502.3,663.7 497.8,660.1 493.4,656.8 C489.0,653.5 484.4,650.2 480.1,646.8 C476.1,643.6 472.1,640.2 468.4,636.8 C465.5,634.2 462.1,631.7 460.0,628.4 C458.4,626.0 457.1,622.8 457.5,620.1Z" fill="#ffff14" stroke="#000" stroke-width="0.8"/>
<path d="M675.2,600.3 C675.2,600.3 685.2,596.7 690.3,596.5 C696.9,596.3 703.9,597.3 710.3,599.0 C716.4,600.6 722.4,603.3 727.8,606.5 C731.6,608.7 734.6,612.3 737.8,615.3 C743.0,620.1 748.3,625.5 753.4,630.1 C756.6,633.0 760.4,635.4 763.4,638.4 C765.9,640.9 768.3,643.8 770.1,646.8 C771.6,649.3 772.5,652.3 773.4,655.1 C774.1,657.3 774.1,659.8 775.1,661.8 C776.3,664.3 778.5,666.2 780.1,668.5 C781.2,670.1 782.6,671.7 783.4,673.5 C784.0,675.0 785.2,677.1 784.3,678.5 C783.1,680.3 780.5,681.3 778.4,681.0 C775.8,680.7 773.8,678.4 771.8,676.8 C769.4,674.8 767.3,672.3 765.1,670.1 C762.3,667.4 759.6,664.4 756.7,661.8 C753.5,658.9 750.0,656.2 746.7,653.4 C743.4,650.7 740.1,647.7 736.7,645.1 C733.5,642.7 729.9,640.3 726.7,638.4 C724.7,637.2 722.3,636.5 720.3,635.3 C717.1,633.3 710.2,628.6 705.3,625.3 C700.3,622.0 695.2,618.7 690.3,615.3 C686.9,612.9 683.1,610.7 680.2,607.8 C678.1,605.7 675.2,600.3 675.2,600.3Z" fill="#ffff14" stroke="#000" stroke-width="0.8"/>
<path d="M650.2,880.2 C650.0,876.8 651.2,873.2 652.7,870.2 C654.5,866.5 657.3,863.2 660.2,860.2 C663.1,857.2 666.4,854.0 670.2,852.2 C674.0,850.4 678.5,849.4 682.7,849.7 C687.1,850.0 691.9,851.3 695.3,854.0 C697.7,855.9 698.8,859.6 699.0,862.7 C699.2,866.9 697.9,871.2 696.5,875.2 C695.0,879.6 692.0,883.5 690.3,887.8 C688.7,891.8 688.4,896.5 686.5,900.3 C685.0,903.2 682.8,905.9 680.2,907.8 C677.3,909.9 673.8,912.5 670.2,912.3 C666.4,912.1 662.8,909.3 660.2,906.5 C657.3,903.4 655.5,899.2 654.0,895.3 C652.2,890.5 650.5,885.3 650.2,880.2Z" fill="#ffff14" stroke="#000" stroke-width="0.8"/>
<path d="M598.9,1032.0 C598.9,1032.0 599.0,998.9 600.1,992.9 C600.8,989.2 604.6,986.5 607.6,984.2 C611.3,981.4 616.5,980.7 620.2,977.9 C624.9,974.4 628.4,969.3 632.7,965.4 C636.6,961.9 641.3,958.9 645.2,955.4 C648.7,952.3 652.6,949.2 655.2,945.3 C657.7,941.6 657.9,936.6 660.2,932.8 C662.1,929.5 664.7,926.4 667.7,924.1 C670.6,921.8 674.0,918.7 677.7,919.1 C682.5,919.6 686.0,924.4 690.3,926.6 C695.9,929.4 701.8,932.2 707.8,934.1 C713.4,935.9 719.4,937.6 725.3,937.8 C729.5,938.0 734.0,937.0 737.8,935.3 C741.6,933.6 745.3,931.1 747.8,927.8 C749.6,925.4 750.7,922.1 750.3,919.1 C749.8,915.8 745.3,910.3 745.3,910.3 C745.3,910.3 752.1,908.6 755.4,909.0 C759.7,909.5 763.9,911.3 767.9,912.8 C772.1,914.4 776.0,917.4 780.4,918.3 C785.3,919.3 790.5,918.8 795.4,918.3 C801.2,917.8 807.4,917.2 812.9,915.3 C817.5,913.7 821.9,911.0 825.5,907.8 C829.5,904.3 832.2,899.4 835.5,895.3 C838.8,891.2 841.6,886.3 845.5,882.8 C849.9,878.8 855.4,875.7 860.5,872.7 C864.5,870.4 869.3,869.3 873.0,866.5 C876.1,864.2 877.7,860.3 880.5,857.7 C884.4,854.1 888.7,850.7 893.1,847.7 C897.0,844.9 901.7,843.0 905.6,840.2 C909.2,837.6 911.7,833.4 915.6,831.4 C920.2,829.1 925.5,828.1 930.6,827.7 C935.5,827.3 940.7,828.2 945.6,828.9 C952.3,829.9 959.1,831.2 965.7,832.7 C971.5,834.1 983.2,837.7 983.2,837.7 C983.2,837.7 972.5,832.7 972.5,832.7 C972.5,832.7 983.9,838.4 990.0,838.9 C995.1,839.3 1000.0,835.6 1005.1,835.2 C1010.9,834.8 1016.8,836.0 1022.6,836.4 C1028.4,836.8 1034.4,836.6 1040.1,837.7 C1046.9,839.1 1054.4,841.5 1060.2,843.9 C1063.8,845.4 1068.2,846.9 1070.2,850.2 C1071.9,853.0 1071.0,857.0 1070.2,860.2 C1069.3,863.8 1067.2,867.1 1065.2,870.2 C1063.9,872.1 1060.2,875.2 1060.2,875.2 C1060.2,875.2 1063.1,879.9 1065.2,881.5 C1067.7,883.4 1071.8,883.0 1073.9,885.3 C1076.3,887.9 1076.3,892.1 1077.7,895.3 C1079.2,898.7 1080.5,902.3 1082.7,905.3 C1085.5,909.0 1090.0,911.8 1092.7,915.3 C1094.4,917.5 1095.7,920.1 1096.5,922.8 C1097.4,926.0 1097.9,929.5 1097.7,932.8 C1097.5,935.4 1094.3,937.8 1095.2,940.3 C1096.3,943.3 1099.7,945.5 1102.7,946.6 C1105.8,947.7 1109.5,945.9 1112.7,946.6 C1115.4,947.2 1118.2,948.5 1120.2,950.4 C1122.3,952.4 1124.7,955.0 1124.7,957.9 C1124.7,960.8 1122.2,963.3 1120.2,965.4 C1117.3,968.4 1113.5,970.4 1110.2,972.9 C1106.9,975.4 1103.8,978.4 1100.2,980.4 C1095.5,983.0 1090.2,984.8 1085.2,986.7 C1080.3,988.5 1075.2,990.1 1070.2,991.7 C1065.2,993.4 1060.2,995.3 1055.1,996.7 C1050.2,998.0 1045.1,998.9 1040.1,999.9 C1035.2,1000.9 1030.1,1002.0 1025.1,1002.9 C1020.2,1003.8 1013.5,1001.8 1010.1,1005.4 C1004.6,1011.2 1007.2,1030.5 997.6,1032.0 C982.3,1034.4 836.7,1032.0 836.7,1032.0 C836.7,1032.0 834.4,1000.8 833.0,995.4 C832.1,992.0 828.7,989.3 825.5,987.9 C820.9,985.9 815.3,986.6 810.4,985.4 C805.3,984.1 800.4,981.9 795.4,980.4 C790.5,979.0 785.4,977.6 780.4,976.6 C775.5,975.6 770.4,974.5 765.4,974.1 C760.4,973.7 755.2,973.0 750.3,974.1 C745.8,975.1 741.6,977.8 737.8,980.4 C733.7,983.2 727.9,985.6 726.6,990.4 C724.6,998.1 724.1,1032.0 724.1,1032.0 C724.1,1032.0 598.9,1032.0 598.9,1032.0Z" fill="#ffff14" stroke="#000" stroke-width="0.8"/>
<path d="M1249.2,106.0 C1249.2,106.0 1252.3,134.2 1254.2,140.0 C1255.4,143.6 1259.7,145.7 1263.0,147.5 C1267.6,150.0 1272.7,152.6 1278.0,153.0 C1284.7,153.5 1291.4,150.7 1298.0,150.0 C1306.2,149.1 1314.7,148.2 1323.0,148.0 C1332.1,147.8 1341.5,149.3 1350.6,148.8 C1360.6,148.3 1370.7,146.4 1380.6,145.0 C1389.7,143.7 1403.0,141.9 1408.2,140.5 C1411.5,139.6 1416.1,138.3 1416.9,135.0 C1418.2,129.7 1416.9,106.0 1416.9,106.0 C1416.9,106.0 1249.2,106.0 1249.2,106.0Z" fill="#ffff14" stroke="#000" stroke-width="0.8"/>
<path d="M108.8,380.4 C110.3,375.7 116.5,373.8 120.1,370.4 C125.2,365.6 129.4,359.4 135.1,355.3 C141.1,351.0 148.0,347.3 155.1,345.3 C161.5,343.5 168.5,343.8 175.1,344.1 C179.3,344.3 184.1,344.4 187.7,346.6 C191.9,349.2 193.5,355.1 197.7,357.8 C202.9,361.1 209.7,361.3 215.2,364.1 C219.7,366.4 227.7,372.9 227.7,372.9 C227.7,372.9 225.3,381.0 222.7,384.1 C219.3,388.2 214.1,390.6 210.2,394.2 C206.6,397.6 201.2,400.6 200.2,405.4 C199.3,409.7 202.5,414.8 205.2,417.9 C206.9,419.9 212.7,420.0 212.7,420.0 C212.7,420.0 210.5,427.0 207.7,428.8 C204.2,431.1 199.4,431.3 195.2,431.3 C190.2,431.3 185.1,429.9 180.2,428.8 C174.3,427.4 168.5,425.2 162.6,423.8 C156.1,422.3 149.2,421.2 142.6,420.0 C138.5,419.3 133.9,419.5 130.1,417.9 C126.3,416.3 123.1,413.2 120.1,410.4 C116.5,407.0 111.5,403.9 110.0,399.2 C109.0,396.2 114.0,393.6 113.8,390.4 C113.6,386.7 107.7,383.9 108.8,380.4Z" fill="#ffab12" stroke="#000" stroke-width="0.8"/>
<path d="M60.0,377.9 C60.0,377.9 89.0,379.7 92.5,380.4 C94.7,380.8 97.0,385.4 97.0,385.4 C97.0,385.4 93.5,388.8 91.3,389.1 C87.7,389.6 60.0,390.4 60.0,390.4 C60.0,390.4 60.0,377.9 60.0,377.9Z" fill="#ffab12" stroke="#000" stroke-width="0.8"/>
<path d="M506.8,644.3 C506.8,644.3 510.1,642.7 511.8,642.6 C514.6,642.4 519.7,642.9 523.5,643.4 C527.9,644.0 532.4,645.1 536.8,645.9 C541.2,646.7 545.8,647.7 550.2,648.4 C554.6,649.1 559.1,649.7 563.5,650.1 C567.9,650.5 572.5,650.7 576.9,651.0 C581.3,651.3 585.9,651.1 590.3,651.8 C594.8,652.5 599.2,653.9 603.6,655.1 C608.1,656.4 612.6,657.7 617.0,659.3 C620.4,660.5 624.6,660.9 627.0,663.5 C628.5,665.1 627.0,670.2 627.0,670.2 C627.0,670.2 618.0,671.0 613.6,671.0 C609.2,671.0 604.7,670.5 600.3,670.2 C595.9,669.9 591.3,669.2 586.9,669.3 C582.5,669.4 578.0,670.6 573.6,671.0 C569.2,671.4 564.6,671.9 560.2,671.8 C555.7,671.7 551.2,671.1 546.8,670.2 C542.3,669.2 537.7,667.8 533.5,666.0 C528.9,664.0 524.3,661.3 520.1,658.5 C516.5,656.1 512.5,652.7 510.1,650.1 C508.6,648.5 506.8,644.3 506.8,644.3Z" fill="#ffab12" stroke="#000" stroke-width="0.8"/>
<path d="M555.2,651.8 C555.2,651.8 560.7,650.6 563.5,650.5 C566.3,650.4 570.4,650.5 571.9,651.0 C572.9,651.3 573.6,653.5 573.6,653.5 C573.6,653.5 568.0,654.6 565.2,654.3 C561.8,654.0 555.2,651.8 555.2,651.8Z" fill="#f45306" stroke="#000" stroke-width="0.8"/>
<path d="M584.4,656.8 C584.4,656.8 590.5,655.5 593.6,655.5 C596.9,655.5 600.4,655.8 603.6,656.8 C606.1,657.6 610.3,661.0 610.3,661.0 C610.3,661.0 603.6,662.5 600.3,662.6 C597.0,662.7 593.4,662.9 590.3,661.8 C587.9,660.9 584.4,656.8 584.4,656.8Z" fill="#f45306" stroke="#000" stroke-width="0.8"/>
<path d="M627.3,625.1 L627.3,728.6" fill="none" stroke="#000" stroke-width="1.5"/>
<path d="M246.9,131.3 L240.3,132.5 L236.9,137.5 L231.1,140.0 L225.2,139.2 L222.7,143.4 L220.2,148.4 L215.2,152.5 L211.9,155.1 L206.9,155.1 L204.4,158.4 L200.2,160.9 L196.9,165.9 L188.5,167.6 L180.2,170.1 L173.5,169.2 L166.8,171.7 L160.1,174.2 L158.5,178.4 L153.5,179.3 L151.8,175.1 L148.4,173.4 L147.6,165.9 L145.1,164.2 L144.3,168.4 L146.8,171.7 L145.9,176.8 L141.8,178.4 L136.8,182.6 L131.8,189.3 L128.4,188.4 L123.4,185.9 L118.4,188.4 L113.4,190.1 L106.7,192.6 L100.0,194.3 L95.0,196.8 L90.0,199.3 L87.5,203.5 L91.7,206.8 L93.4,211.8 L88.3,212.6 L83.3,211.8 M83.3,219.3 L88.4,218.2 L93.4,216.8 L98.4,216.0 L101.7,221.8 L100.0,226.8 L96.7,231.8 L94.3,235.7 L93.4,240.2 L90.0,241.9 L83.3,246.9 M83.3,222.7 L91.7,223.5 L90.0,231.8 L88.3,240.2 M278.7,130.0 L276.1,134.1 L273.7,138.4 L268.6,145.0 L266.3,149.3 L263.6,153.4 L262.0,161.7 L262.8,168.4 L267.0,175.1 L271.2,180.1 L273.7,184.3 L276.2,178.4 L278.7,173.4 L282.8,166.7 L284.5,162.4 L287.0,158.4 L289.5,150.0 L291.2,141.7 L292.0,135.0 L292.4,130.0 M273.7,325.0 L272.0,322.0 L275.3,315.3 L274.5,310.3 L270.3,308.6 L268.6,315.3 L263.6,312.0 L260.3,305.3 L259.5,297.0 L257.0,290.3 L255.3,283.6 L258.6,285.3 L264.5,287.8 L265.3,281.9 L265.4,276.8 L267.0,271.9 L266.5,266.9 L266.1,261.9 L266.8,256.9 L267.8,251.9 L270.3,243.5 L278.7,242.7 L287.0,245.2 L293.7,248.5 L298.7,245.2 L300.4,249.4 L297.9,256.9 L299.5,263.6 L303.7,268.6 L302.0,275.3 L298.7,282.8 L292.0,286.9 L287.0,291.9 L287.0,297.0 L284.5,302.0 L287.0,308.6 L289.0,312.7 L290.4,317.0 L293.7,325.0 M256.7,290.0 L257.9,296.7 L260.0,305.0 L262.1,309.2 L265.9,312.5 L269.2,314.2 L271.7,311.7 L270.1,307.9 L273.4,309.6 L276.7,312.5 L275.1,315.9 L271.7,318.4 L270.5,321.7 L270.9,326.7 L275.1,325.9 L279.2,327.6 L283.4,329.2 L286.7,325.9 L290.9,324.2 L294.3,323.4 L298.4,323.4 L300.9,319.2 L305.1,317.5 L309.3,318.4 L312.6,321.7 L314.3,325.9 L316.8,326.7 L317.6,322.6 L320.1,322.6 L325.1,324.2 L327.6,326.7 L324.3,329.2 L321.8,331.7 L325.1,335.1 L327.6,339.2 L331.0,340.9 L331.8,344.3 L330.2,347.6 L328.5,341.8 L323.5,341.8 L318.5,339.2 L315.1,335.1 L310.1,330.9 L306.8,326.7 L303.4,324.2 L301.8,327.6 L303.4,333.4 L305.9,337.6 L306.8,335.1 L305.9,330.1 M287.6,290.0 L288.0,293.3 L284.7,298.3 L284.2,300.9 L286.7,306.7 L289.2,312.5 L290.1,318.4 L293.4,323.4 M290.9,333.8 L292.2,330.5 L294.3,330.1 L296.8,332.6 L296.3,336.3 L294.3,338.0 L291.8,336.7Z M330.6,326.7 L331.8,323.0 L334.3,321.7 L336.8,324.2 L337.2,328.4 L335.2,331.7 L331.8,330.9Z M265.0,331.7 L270.1,331.7 L275.9,332.6 L281.7,335.1 L285.9,339.2 L286.3,345.1 L285.1,350.1 L281.7,354.3 L279.2,354.3 L276.7,350.1 L274.2,344.3 L271.7,340.1 L268.4,335.1Z M315.1,358.4 L316.0,353.4 L317.6,350.1 L320.1,351.8 L322.6,353.4 L326.8,356.8 L330.2,359.3 L331.0,362.6 L326.8,360.1 L322.6,356.8 L319.3,355.9 L316.8,359.3Z M335.2,348.4 L342.7,348.4 L350.2,347.6 L353.5,351.8 L356.9,354.3 L356.4,361.0 L358.5,367.6 L361.0,375.1 L355.2,373.5 L351.0,370.1 L346.8,365.1 L342.7,361.0 L337.7,355.1Z M293.4,361.0 L298.4,362.6 L302.8,363.7 L306.8,366.0 L314.3,366.8 L312.6,371.8 L308.4,376.8 L305.1,381.0 L298.4,382.7 L294.3,384.3 L294.3,377.6 L295.9,370.1 L293.7,365.8Z M293.8,376.9 L297.6,375.1 L302.6,376.3 L306.4,375.1 L303.8,381.3 L302.6,386.3 L298.8,387.6 L295.1,386.3 L294.7,381.6Z M310.1,377.6 L315.1,375.7 L320.1,377.6 L321.4,382.6 L318.9,390.1 L316.4,397.6 L313.9,405.1 L311.4,408.2 L308.9,405.1 L305.1,401.3 L302.6,396.3 L306.4,391.3 L310.1,385.1Z M321.4,377.6 L325.1,376.3 L327.6,381.3 L326.4,387.6 L323.9,393.8 L321.4,400.1 L319.5,398.8 L321.4,392.6 L323.3,386.3Z M327.6,395.1 L331.4,391.3 L337.7,391.3 L340.2,395.1 L337.7,399.5 L331.4,400.7 L327.6,398.8Z M336.4,365.0 L338.9,371.3 L340.2,378.8 L343.9,386.3 L346.4,392.6 L350.2,393.8 L348.9,387.6 L346.4,381.3 L345.2,373.8 L342.7,367.5Z M326.4,427.6 L324.1,423.7 L321.4,420.1 L316.4,417.6 L311.4,421.4 L305.1,426.4 L298.8,430.1 L295.1,437.7 L292.6,445.2 L296.3,447.7 L300.1,440.2 L303.8,433.9 L308.9,432.6 L310.1,438.9 L313.9,435.1 L317.6,437.7 L320.1,431.4 L325.1,431.4 L330.1,435.1 L332.6,440.2 L330.1,446.4 L332.6,452.7 L337.7,457.7 L342.7,460.2 L348.9,463.9 L351.4,461.4 L352.7,470.2 L356.4,466.4 L358.9,460.2 L357.7,455.2 L355.2,450.2 L357.7,445.2 L360.2,440.2 L363.9,443.9 L366.4,450.2 L367.7,457.7 L370.2,450.2 L372.7,443.9 L375.2,437.7 L373.0,432.9 L372.7,427.6 L370.2,420.1 L367.7,415.1 L369.0,410.1 L365.2,405.1 L360.2,400.1 L356.4,398.8 L355.2,405.1 L352.7,410.1 L347.7,412.6 L343.9,415.1 L340.2,417.6 L335.1,420.1 L330.1,423.9 L326.4,427.6 M252.8,371.6 L255.3,375.4 L252.8,378.4 L248.3,383.9 L244.2,387.6 L240.2,391.4 L236.3,394.2 L233.6,398.1 L230.2,401.4 L226.4,404.2 L223.9,408.4 L220.2,411.4 L217.1,415.0 L213.6,418.3 L211.2,422.4 L208.2,428.5 L212.2,429.0 L215.2,424.7 L218.2,420.4 L220.9,416.5 L225.3,414.2 L228.2,410.4 L231.8,407.3 L235.5,404.4 L238.2,400.4 L242.2,398.1 L244.3,393.6 L248.3,391.4 L252.0,387.0 L256.8,383.9 L259.3,378.4 L256.5,371.6 L252.8,371.6 M83.3,539.4 L88.4,539.8 L93.4,540.2 L101.7,543.5 L105.0,544.4 L105.9,536.9 L106.3,531.8 L106.7,526.8 L108.4,520.2 L113.4,518.5 L118.4,517.2 L123.4,516.0 L128.6,515.0 L133.4,512.7 L140.1,508.5 L143.3,504.2 L146.8,500.1 L150.5,496.2 L153.5,491.8 L156.0,487.6 L163.5,486.8 L170.2,484.3 L176.0,483.4 L180.2,476.8 L180.2,473.4 L186.8,470.1 L189.3,465.2 L193.5,461.7 L198.5,455.1 L202.7,448.4 L206.0,449.2 L208.5,445.0 L211.9,450.1 L215.2,455.9 L218.6,461.7 L225.2,465.1 L229.1,467.4 L233.6,468.4 L241.9,471.8 L246.9,474.3 L244.4,478.4 L236.9,479.3 L230.3,480.9 L231.9,485.1 L236.1,490.1 L230.3,493.5 L223.6,493.5 L218.6,496.8 L213.6,500.1 L208.5,505.1 L213.6,508.5 L216.8,512.2 L218.6,516.8 L223.6,523.5 L226.9,528.5 L221.9,533.5 L226.9,538.5 L230.1,542.0 L233.6,545.2 L237.5,548.5 L241.9,551.1 L236.9,553.6 L228.6,551.9 L223.6,549.4 L221.9,555.2 L218.6,561.9 L216.9,570.3 L218.6,575.3 L213.6,580.3 L210.2,584.4 L206.9,588.6 L201.9,593.6 L198.5,600.3 L196.9,608.6 L195.2,617.0 L195.2,620.0 M195.2,620.3 L196.4,627.8 L193.8,632.7 L191.4,637.8 L190.2,630.3 L185.4,632.5 L180.3,633.9 L176.0,637.3 L170.9,638.8 L166.4,641.6 L164.4,637.2 L163.9,632.4 L162.6,627.8 L157.6,626.5 L152.6,625.3 L147.2,623.5 L142.6,620.3 L136.1,622.3 L130.1,625.3 L123.6,625.5 L117.6,627.8 L113.2,625.7 L109.0,623.1 L105.0,620.3 L100.0,619.5 L95.0,620.1 L90.0,620.3 L89.0,615.3 L88.6,610.1 L86.2,605.4 L85.5,600.3 M110.1,550.2 L118.4,548.5 L121.7,543.5 L130.1,542.7 L138.4,541.9 L142.6,544.0 L146.8,546.0 L153.5,544.4 L160.1,542.7 L165.1,538.5 L168.5,530.2 L173.5,525.2 L174.7,520.8 L176.8,516.8 L181.8,512.7 L182.5,508.1 L182.7,503.5 L185.2,495.1 L190.2,492.6 L195.2,491.7 L200.2,491.8 L205.2,492.5 L210.2,491.8 L215.2,493.5 M156.0,487.6 L160.1,493.5 L165.1,497.6 L167.6,493.5 L170.2,486.8 M173.5,485.9 L176.0,491.8 L176.8,486.8 M256.1,582.8 L255.4,576.6 L255.3,570.3 L257.0,561.9 L260.3,555.2 L265.3,550.2 L272.0,546.9 L278.7,544.4 L285.3,546.9 L293.7,549.4 L298.9,549.7 L303.7,551.9 L308.6,553.2 L313.7,553.6 L322.1,553.6 L330.4,551.9 L337.1,548.5 L343.8,542.7 L348.8,539.4 L351.3,541.9 L347.1,548.5 L342.1,555.2 L335.4,560.2 L327.1,562.7 L322.1,562.5 L317.1,561.9 L311.8,561.7 L307.0,559.4 L302.1,558.1 L297.0,558.6 L291.9,559.1 L287.0,557.7 L282.0,557.3 L277.0,557.7 L268.6,558.6 L263.6,561.9 L261.1,568.6 L262.0,575.3 M259.4,577.6 L265.0,581.3 L268.8,587.6 L272.6,591.3 L277.6,590.1 L281.3,586.3 L286.3,582.6 L292.6,581.9 L300.1,580.7 L307.6,580.1 L312.6,578.8 L317.6,579.4 L319.5,582.6 L317.6,585.1 L312.6,585.7 L308.2,587.6 L302.6,592.6 L296.3,596.3 L290.1,598.8 L283.8,601.3 L288.8,605.1 L293.8,610.1 L297.6,615.1 L301.3,620.1 L300.1,626.4 L303.8,631.4 L307.6,636.4 L310.1,640.2 L315.1,639.5 L316.4,641.4 L312.6,643.9 L307.6,646.4 L302.6,646.4 L297.6,647.7 L295.1,651.4 L290.1,652.7 L286.3,650.2 L285.1,645.2 L286.3,640.2 L282.6,638.9 L277.6,632.6 L275.1,626.4 L277.6,620.1 L276.3,616.4 L272.6,615.1 L267.5,617.6 L265.0,621.4 L266.3,627.6 L266.9,635.1 L265.7,642.7 L265.0,650.2 L264.4,657.7 L266.9,663.9 L266.3,666.4 L260.0,667.1 L255.0,668.3 L251.3,665.2 L248.8,661.4 L250.6,655.2 L252.5,647.7 L253.1,640.2 L251.9,632.6 L247.5,627.6 L243.8,622.6 L241.3,617.6 L243.8,610.1 L246.9,602.6 L248.3,598.3 L248.8,593.8 L252.5,587.6 L256.3,583.8 M300.1,648.9 L305.1,647.7 L310.1,646.4 L313.9,648.9 L315.1,653.9 L313.9,660.2 L310.1,665.2 L306.4,667.7 L302.6,663.9 L300.1,658.9 L301.3,653.9Z M305.1,650.2 L308.9,652.7 L308.2,658.9 L305.7,662.7 M291.3,658.9 L293.8,656.4 L296.3,660.2 L295.1,665.2 L292.0,663.9Z M309.5,590.1 L313.9,588.2 L318.9,590.1 L321.4,593.8 L317.6,597.6 L312.6,596.3Z M335.8,600.1 L340.2,597.6 L347.7,598.2 L355.2,600.1 L362.7,600.7 L370.8,600.7 L365.2,602.6 L366.4,610.1 L363.9,610.7 L362.7,603.2 L357.6,603.6 L352.7,602.0 L343.9,602.6 L337.7,603.8Z M365.2,625.1 L370.2,622.6 L377.7,623.3 L384.0,626.4 L385.9,631.4 L381.5,634.5 L375.2,635.8 L369.0,632.6 L365.8,628.9Z M398.4,621.4 L405.3,618.9 L412.8,618.2 L420.3,620.1 L427.8,620.1 L435.3,620.8 L442.8,622.6 L449.1,627.6 L450.3,635.1 L445.3,633.9 L437.8,630.1 L430.3,626.4 L422.8,626.4 L415.3,627.6 L407.8,630.1 L401.5,632.6 L398.4,630.1 L399.0,625.1Z M399.0,627.6 L404.0,626.4 L407.8,628.3 M389.0,596.3 L392.7,593.2 L397.7,592.6 L402.8,596.3 L400.3,599.5 L394.0,599.5Z M267.3,670.8 L268.5,672.7 L268.8,679.0 L267.8,682.1 L266.9,676.5Z M440.3,571.3 L446.6,569.4 L455.3,570.0 L458.5,573.2 L452.8,575.7 L445.3,575.1Z M400.1,530.1 L397.6,531.8 L394.3,535.9 L391.8,541.0 L390.1,546.8 L390.9,551.0 L393.4,548.5 L396.8,543.5 L399.3,539.3 L400.1,535.1 L400.1,530.1 M391.8,551.8 L394.5,547.9 L398.4,545.1 L403.4,542.6 L408.4,541.0 L412.6,541.0 L413.5,545.1 L411.8,548.5 L408.4,550.1 L405.1,552.6 L404.3,555.1 L407.6,557.6 L411.0,560.2 L414.3,563.5 L416.0,565.2 M391.8,553.5 L393.4,558.5 L394.3,564.3 L395.1,570.2 L397.6,576.8 L400.9,581.0 M416.0,565.2 L408.4,562.7 L402.6,561.0 L397.6,561.0 L396.8,566.0 L397.6,571.8 L400.1,577.7 L403.4,581.9 L407.6,585.2 M404.3,527.6 L405.5,524.7 L408.0,523.4 L410.5,524.7 L411.0,528.4 L409.3,531.8 L406.4,532.6 L404.4,530.9Z M455.6,711.7 L459.0,706.4 L460.6,700.4 L466.8,694.2 L469.3,695.4 L465.4,699.9 L463.1,705.4 L459.7,708.6 L458.1,712.9 L450.6,714.2 M362.9,705.4 L370.4,701.7 L377.9,702.9 L372.9,706.7 L365.4,707.9Z M531.9,582.7 L538.2,580.2 L542.3,583.0 L545.7,586.5 L541.9,590.3 L535.7,587.8Z M533.2,597.8 L538.2,597.4 L543.2,596.5 L549.6,596.9 L555.7,599.0 L550.7,601.5 L544.5,600.6 L538.2,600.8Z M483.1,664.1 L490.6,660.4 L488.1,667.9 L484.4,671.6 L480.6,667.9 M513.1,664.1 L516.9,670.4 L517.1,675.5 L515.7,680.4 L511.9,687.9 L506.9,689.2 L507.4,683.4 L509.4,677.9 L510.6,670.4Z M83.3,690.1 L91.7,690.1 L95.0,684.2 L100.0,681.7 L105.0,684.2 L113.4,685.9 L121.7,689.2 L130.1,690.9 L133.4,694.2 L132.6,699.2 L136.8,701.8 L141.8,701.6 L146.8,702.6 L155.1,703.4 L161.0,705.9 L161.8,713.4 L161.8,720.1 L164.3,721.8 L158.5,719.3 L154.6,716.8 L150.1,715.9 L145.3,713.7 L140.1,712.6 L131.8,714.3 L123.4,713.4 L116.8,712.1 L110.1,711.8 L105.6,711.2 L101.2,710.0 L96.7,709.3 L92.4,707.7 L87.6,708.7 L83.3,706.8 M133.4,690.9 L140.1,689.2 L145.1,689.6 L150.1,689.2 L155.1,690.9 L150.1,693.4 L141.8,695.1 L135.1,693.7Z M164.3,711.8 L171.0,710.1 L178.5,712.6 L180.2,716.8 L175.2,720.1 L168.5,716.8Z M191.0,715.9 L195.2,712.6 L200.2,714.3 L199.4,721.8 L193.5,724.3 L189.3,722.6Z M203.5,720.1 L207.5,717.6 L211.9,715.9 L218.6,715.1 L221.9,711.8 L226.9,715.1 L233.6,715.9 L241.9,716.8 L242.8,721.8 L235.3,723.5 L226.9,722.6 L220.2,725.1 L211.9,727.6 L205.2,726.8Z M220.2,713.4 L225.2,718.4 L231.9,720.1 M257.0,718.4 L263.6,714.3 L268.6,713.2 L273.7,713.4 L279.6,714.1 L285.3,715.9 L291.2,715.9 L297.0,716.8 L303.7,715.9 L302.0,720.1 L293.7,722.6 L288.7,723.6 L283.7,723.5 L277.9,724.0 L272.0,724.3 L267.1,722.9 L262.0,723.5Z M241.9,735.1 L248.6,732.6 L257.0,732.6 L262.0,736.8 L266.1,738.9 L270.3,741.0 L273.7,745.2 L268.6,748.5 L262.0,746.8 L257.0,741.8 L250.3,739.3 L244.4,738.5Z M303.7,716.8 L310.4,711.8 L318.7,712.6 L327.1,713.4 L332.2,714.0 L337.1,712.6 L342.1,711.9 L347.1,712.6 L350.5,714.3 L343.8,715.9 L338.8,715.0 L333.8,715.9 L325.4,716.8 L317.1,717.6 L308.7,718.4Z M305.4,715.1 L311.3,715.1 L317.1,714.3 L323.7,715.5 L330.4,714.8 L337.1,714.7 L343.8,714.3 M362.1,704.3 L370.5,702.6 L378.0,703.4 L373.8,706.8 L365.5,707.6Z M323.7,748.5 L325.4,740.2 L330.4,733.5 L335.7,731.6 L340.4,728.5 L345.7,727.6 L350.5,725.1 L355.2,724.1 L359.6,722.4 L363.8,720.1 L368.0,717.8 L372.8,717.7 L377.2,715.9 L382.1,714.7 L387.2,715.1 L385.5,718.4 L379.4,721.3 L373.8,725.1 L368.5,727.1 L363.8,730.1 L359.1,733.9 L353.8,736.8 L349.0,740.5 L343.8,743.5 L338.4,745.2 L333.8,748.5 L327.1,750.2Z M330.4,733.5 L337.1,731.8 L342.3,730.7 L347.1,728.5 M309.5,758.5 L313.7,754.3 L318.7,752.7 L317.1,756.8 L312.1,760.2Z M291.2,657.5 L293.7,655.0 L297.0,658.3 L295.4,663.4 L292.0,662.5Z M302.0,653.3 L307.0,651.7 L312.1,655.0 L314.6,660.0 L312.1,665.9 L307.0,666.7 L304.5,661.7 L301.2,659.2Z M450.1,587.6 L455.1,583.8 L462.6,580.1 L470.1,576.3 L477.6,574.4 L485.1,575.7 L492.6,578.8 L500.2,581.3 L505.2,583.2 L506.4,587.6 L507.7,592.6 L510.2,596.3 L508.9,600.1 L510.2,606.4 L512.7,612.6 L513.9,617.6 L516.4,615.1 L518.9,620.1 L521.4,625.1 L526.4,626.4 L531.5,625.1 L536.5,621.4 L540.2,616.4 L546.5,610.1 L552.7,606.4 L559.0,603.8 L561.5,598.8 L567.8,595.7 L572.8,594.5 L577.8,595.7 M450.1,587.6 L453.8,592.6 L460.1,593.8 L467.6,595.7 L470.1,601.3 L473.9,606.4 L481.4,608.2 L490.1,607.6 L498.9,607.0 L503.9,606.4 L502.7,610.1 L497.7,612.6 L490.1,613.2 L485.1,616.4 L480.1,617.6 L473.9,616.4 L470.1,617.6 L475.1,621.4 L481.4,625.1 L485.1,630.1 L483.9,635.1 L487.6,638.9 L492.6,640.2 L497.7,643.9 L495.1,637.7 L496.5,632.7 L497.7,627.6 L500.2,622.6 L502.4,627.4 L502.7,632.6 L510.2,636.4 L516.4,640.2 L522.7,643.9 L530.2,646.4 L537.7,647.7 L542.4,650.2 L547.7,651.4 L552.9,652.6 L557.7,655.2 L561.9,658.0 L566.5,660.2 L570.1,662.9 L574.0,665.2 L579.0,669.0 L581.5,675.2 L584.0,681.5 L587.8,689.0 M530.2,597.6 L537.7,598.8 L542.6,600.1 L547.7,599.5 L555.2,599.5 L550.2,601.3 L545.2,600.6 L540.2,601.3 L532.7,599.5Z M529.0,580.1 L535.2,581.3 L542.7,584.4 L547.1,587.6 L544.0,589.5 L537.7,588.2 L531.5,583.8Z M400.0,620.1 L407.5,617.6 L412.4,616.3 L417.5,617.0 L425.0,618.9 L433.8,620.1 L442.6,621.4 L448.8,627.6 L449.5,636.4 L442.6,633.9 L435.1,630.1 L427.5,627.6 L420.0,626.4 L412.5,627.6 L405.0,630.1 L400.0,631.4 M438.8,572.6 L443.8,569.4 L452.6,569.4 L458.2,571.9 L455.1,575.7 L447.6,576.9 L441.3,575.7Z M442.6,583.8 L450.1,582.6 L455.1,586.3 L451.3,590.1 L445.1,588.8Z M480.8,667.1 L485.1,672.7 L488.9,667.7 L490.1,662.1 M507.7,690.0 L507.6,683.8 L508.9,677.7 L510.2,672.5 L512.7,667.7 L516.4,663.9 L518.9,670.2 L520.2,677.7 L517.7,685.2 L516.4,690.0 M431.3,601.3 L437.6,598.8 L441.3,601.3 L437.6,605.1Z M578.6,668.5 L580.2,674.4 L581.9,680.2 L583.8,684.7 L586.9,688.5 L590.3,695.2 L591.9,703.5 L593.6,710.2 L600.3,711.9 L606.9,710.2 L612.0,708.5 L613.9,713.0 L617.0,716.9 L620.3,720.8 L623.7,724.7 L627.0,728.6 L633.7,731.1 L638.7,730.8 L643.7,730.3 L650.3,731.5 L657.0,731.1 L663.7,726.9 L670.4,721.9 L672.1,715.2 L667.1,714.1 L662.0,713.6 L656.2,713.3 L650.4,712.7 L657.0,713.6 L662.8,712.6 L668.7,711.9 L672.6,708.8 L677.1,706.9 L673.7,700.2 L680.4,703.5 L685.5,703.4 L690.4,701.9 L694.6,704.4 L699.2,705.7 L703.8,706.9 L708.2,709.7 L712.7,712.4 L717.1,715.2 L720.6,719.3 L723.8,723.6 L729.0,726.6 L733.8,730.3 L737.6,735.6 L742.2,740.3 L747.2,745.3 L753.7,745.5 L760.0,746.9 M569.4,715.2 L572.4,709.7 L573.6,703.5 L578.6,697.7 L585.2,696.9 L591.1,700.2 L590.5,705.3 L591.9,710.2 L586.9,715.2 L578.6,716.1 L574.0,715.2Z M447.5,714.4 L451.1,710.5 L455.0,706.9 L458.6,702.1 L461.7,696.9 L468.4,694.4 L465.0,701.9 L462.1,706.4 L458.4,710.2 L451.7,715.2 M505.9,686.8 L506.2,680.8 L508.4,675.2 L511.3,670.4 L513.5,665.1 L516.8,663.5 L516.9,668.6 L518.5,673.5 L520.1,680.2 L515.1,686.8 L508.4,689.3Z M481.7,670.2 L485.9,672.7 L488.1,667.3 L490.1,661.8 M670.4,628.4 L674.1,631.5 L679.2,631.8 L682.9,634.7 L687.1,636.8 L691.9,638.3 L695.7,641.8 L700.4,643.4 L705.4,646.9 L710.5,650.1 L712.7,654.9 L713.8,660.1 L718.8,662.7 L723.8,665.1 L728.2,667.1 L733.1,667.6 L737.2,670.2 L741.2,673.7 L745.5,676.8 L748.8,683.5 L740.5,686.8 L733.8,690.2 L736.5,694.9 L737.2,700.2 L741.0,704.9 L743.8,710.2 L747.2,715.2 L752.2,718.6 L756.4,720.7 L760.0,723.6 M531.0,596.7 L537.1,598.4 L543.5,598.4 L549.5,598.3 L555.2,600.0 L546.8,602.5 L541.2,600.4 L535.2,600.0Z M535.2,583.3 L541.8,581.7 L546.8,587.5 L540.2,588.3Z M647.8,759.5 L647.4,764.3 L645.3,768.6 L643.3,774.2 L642.0,780.0 M655.4,759.5 L657.8,764.1 L660.4,768.6 L661.1,774.4 L662.9,780.0 M543.5,772.0 L550.2,767.0 L554.4,761.1 M440.0,772.0 L444.4,767.7 L450.0,765.3 L455.1,766.8 L460.0,768.6 L455.0,775.3 L450.0,776.4 L445.0,777.0Z M466.7,765.3 L471.0,763.4 L475.6,762.9 L480.1,762.0 L480.1,768.6 L484.8,771.1 L490.1,772.0 L495.2,773.3 L500.1,775.3 L504.8,778.0 L510.1,778.7 M720.0,668.5 L725.0,669.0 L730.0,670.1 L735.1,671.4 L740.0,673.5 L746.7,678.5 L748.4,683.5 L743.4,686.8 L735.0,688.5 L733.4,693.5 L738.4,700.2 L742.9,703.1 L746.7,706.9 L750.4,709.9 L753.4,713.5 L756.3,717.5 L758.4,721.9 L765.1,726.9 L771.8,728.6 L775.1,733.6 L781.8,736.9 L786.8,740.3 L793.5,741.9 L800.1,743.6 L806.8,745.3 L803.5,740.3 L798.5,735.2 L791.8,731.9 L788.4,733.6 M755.9,667.6 L763.4,666.0 L771.8,668.5 L776.8,665.1 L785.1,663.5 L786.8,656.8 L788.4,663.5 L795.1,663.5 L801.8,661.8 L808.5,656.8 L813.5,651.8 L816.8,646.8 L820.2,645.1 L825.2,646.8 L826.8,651.8 L821.8,655.1 L820.2,661.8 L815.2,665.1 L810.2,668.5 L806.8,671.8 L800.1,673.5 L793.5,676.8 L786.8,677.6 L778.4,676.8 L770.1,673.5 L761.7,671.8Z M813.5,621.7 L816.9,625.0 L820.2,628.4 L824.0,632.2 L828.5,635.1 L832.4,637.9 L835.2,641.8 L839.4,648.4 L836.9,652.6 L833.5,648.4 L831.8,643.8 L828.5,640.1 L825.9,636.0 L821.8,633.4 L817.8,630.8 L815.2,626.7Z M866.1,656.8 L868.6,663.5 L873.6,670.1 L876.5,673.9 L880.3,676.8 L886.9,681.8 L889.4,686.8 L885.3,687.7 L878.6,683.5 L875.3,680.1 L871.9,676.8 L869.5,672.8 L867.7,668.5 L865.2,661.8Z M898.6,685.2 L903.6,686.0 L910.3,691.8 L916.2,696.8 L912.0,698.5 L905.3,694.3 L900.3,689.3Z M933.7,701.0 L940.4,703.5 L944.2,706.9 L948.7,709.4 L952.9,712.3 L957.1,715.2 L956.2,718.5 L948.7,715.2 L944.8,711.9 L940.4,709.4 L934.5,704.4Z M971.3,714.4 L975.4,716.0 L979.6,723.6 L981.1,728.1 L983.8,731.9 L986.3,737.7 L982.1,736.9 L980.8,732.4 L977.9,728.6 L973.8,721.9Z M954.6,732.7 L960.4,731.1 L967.1,734.4 L973.8,738.6 L972.1,742.3 L965.4,741.1 L958.7,738.6Z M984.6,747.8 L990.5,749.4 L997.1,752.8 L1000.5,756.9 L995.5,757.8 L988.8,754.4Z M901.1,703.5 L903.6,706.9 L901.1,710.2 M908.6,706.9 L913.7,710.2 L918.7,708.5 L915.3,713.5 M918.7,715.2 L923.7,718.5 L928.7,721.9 L922.8,721.1 M912.0,718.5 L917.0,721.9 M959.6,770.3 L965.4,772.8 L970.4,775.3 L967.1,776.1 L961.2,772.8Z M788.4,731.9 L793.5,730.2 L800.1,735.2 L798.5,740.3 L791.8,736.9Z M147.6,1010.4 L147.1,1005.3 L146.6,1000.2 L145.4,995.3 L143.8,990.4 L144.5,985.8 L147.2,982.0 L148.9,977.9 L149.9,971.7 L149.6,965.4 L151.6,960.5 L152.6,955.4 L157.6,950.4 L157.8,955.4 L157.6,960.4 L162.6,954.1 L168.2,951.9 L172.6,947.8 L176.9,945.4 L180.7,942.3 L185.2,940.3 L189.4,937.9 L193.4,935.0 L197.7,932.8 L205.2,929.1 L210.3,928.8 L215.2,930.3 L221.7,929.4 L227.7,926.6 L234.3,924.9 L240.2,921.6 L246.2,918.8 L252.8,917.8 L259.1,917.8 L265.3,916.6 L269.3,914.5 L274.0,914.0 L277.8,911.5 L280.9,906.6 L285.3,902.8 L287.9,897.5 L291.6,892.8 L296.5,889.7 L300.3,885.3 L299.8,880.1 L297.8,875.2 L300.3,867.7 L305.9,864.1 L310.3,859.0 L312.7,865.0 L316.6,870.2 L321.6,875.2 L322.2,870.2 L322.9,865.2 L327.9,865.2 L325.6,861.3 L322.9,857.7 L330.4,854.0 L336.7,853.8 L342.9,855.2 L340.1,850.4 L337.9,845.2 L341.3,842.0 L342.9,837.7 L347.6,834.6 L352.9,832.7 L350.4,825.2 L354.0,822.5 L357.9,820.2 L362.5,816.9 L367.9,815.2 L372.0,813.2 L376.3,811.8 L380.5,810.1 L385.3,813.0 L390.5,815.2 L394.5,818.7 L398.0,822.7 L404.2,828.9 L401.7,836.4 L408.0,830.2 L413.0,829.6 L418.0,828.9 L421.9,832.3 L426.8,833.9 L431.8,830.2 L429.5,825.1 L426.8,820.2 L427.9,814.9 L430.5,810.1 L434.7,805.4 L438.0,800.1 L440.5,792.6 L445.1,788.2 L450.6,785.1 L455.6,780.1 L460.7,780.4 L465.5,782.6 L470.6,782.6 L476.1,780.9 L481.9,781.3 L482.6,776.6 L480.2,772.0 L480.6,767.3 L480.6,762.6 L475.3,764.5 L470.6,767.6 L478.1,768.8 L485.6,771.3 L490.4,773.6 L495.7,773.5 L500.6,775.1 L505.5,776.8 L510.6,777.8 L515.7,778.8 L520.7,779.9 L525.7,780.7 L530.7,781.3 L535.7,780.7 L540.7,780.1 L548.2,776.3 L552.3,779.0 L555.7,782.6 L552.8,787.4 L550.7,792.6 L549.5,800.1 L545.3,802.1 L540.7,802.6 L539.9,807.7 L538.2,812.6 L536.3,817.1 L533.2,821.0 L530.7,825.2 L532.6,829.9 L535.7,833.9 L541.1,836.4 L545.7,840.2 L550.1,843.4 L555.1,845.4 L560.0,847.7 M435.5,773.8 L439.4,769.6 L443.0,765.1 L449.3,764.9 L455.6,765.1 L460.6,770.1 L456.2,772.5 L453.1,776.3 L448.1,775.7 L443.0,776.3Z M545.7,771.3 L550.7,765.1 L553.2,761.3 M520.0,782.6 L527.5,781.3 L533.1,780.8 L538.8,781.3 L545.0,786.4 L551.3,780.1 L556.3,785.1 L552.5,788.3 L550.0,792.6 L547.5,800.1 L540.0,802.6 L538.3,808.8 L537.5,815.2 L533.5,819.7 L531.3,825.2 L535.0,830.7 L540.0,835.2 L544.6,839.5 L550.0,842.7 L555.3,846.1 L560.1,850.2 L564.6,852.7 L568.9,855.4 L572.6,859.0 L578.7,861.8 L585.1,864.0 L590.3,866.8 L595.1,870.2 L598.7,874.0 L603.7,875.7 L607.6,879.0 L612.6,878.2 L617.6,877.7 L621.1,873.6 L625.2,870.2 L627.8,865.5 L629.0,860.4 L630.2,855.2 L631.8,850.8 L633.0,846.4 L632.8,841.6 L634.0,837.1 L635.2,832.7 L635.4,827.6 L637.3,822.8 L637.7,817.7 L638.1,812.7 L637.7,807.6 L638.3,801.4 L637.7,795.1 L640.2,787.6 L641.2,783.1 L642.7,778.8 L644.3,773.9 L645.2,768.8 L647.3,763.9 L648.9,758.8 L654.0,758.8 L658.0,763.9 L660.2,770.1 L661.8,775.5 L665.2,780.1 L668.4,786.1 L670.2,792.6 L670.6,799.0 L672.7,805.1 L674.3,810.1 L675.2,815.2 L679.0,817.6 L682.7,820.2 L690.3,818.9 L694.1,822.0 L697.8,825.2 L700.6,829.2 L704.0,832.7 L704.0,839.0 L705.3,845.2 L707.6,849.9 L707.8,855.2 L709.8,860.4 L712.8,865.2 L714.7,871.4 L716.5,877.7 L718.4,883.9 L719.0,890.3 L720.6,895.4 L722.8,900.3 L727.5,903.8 L732.8,906.5 L738.0,908.7 L742.8,911.5 L746.1,915.8 L750.3,919.1 L755.4,922.2 L760.4,925.3 L766.6,922.8 L764.1,930.3 L766.4,934.7 L770.4,937.8 L772.0,943.3 L775.4,947.8 L777.0,953.3 L780.4,957.9 L785.4,961.6 L792.9,959.1 L794.9,963.8 L797.9,967.9 L798.5,973.1 L800.4,977.9 L804.4,981.4 L807.9,985.4 L813.0,989.0 L817.9,992.9 L821.6,995.9 L824.6,999.6 L828.0,1002.9 L831.6,1006.8 L835.5,1010.4 M545.0,812.6 L550.0,810.1 L555.1,813.9 L553.8,818.9 L547.5,818.9Z M595.1,860.2 L600.1,856.5 L603.9,859.0 L598.9,862.7Z M542.5,772.6 L548.8,767.6 L553.8,761.3 M843.0,767.6 L850.5,771.3 M960.7,770.1 L966.0,772.0 L970.7,775.1 M1031.4,924.1 L1040.1,922.8 L1043.7,926.9 L1048.6,929.2 L1052.6,932.8 L1056.9,936.1 L1061.6,938.8 L1065.2,942.8 L1069.9,945.5 L1074.0,949.0 L1077.7,952.9 L1083.9,956.6 L1080.2,960.4 L1075.2,959.0 L1070.2,957.9 L1066.6,953.8 L1061.6,951.5 L1057.6,947.8 L1053.3,944.6 L1048.7,941.8 L1045.1,937.8 L1039.6,934.7 L1035.1,930.3Z M1035.1,926.6 L1039.6,930.0 L1044.0,933.4 L1047.6,937.8 L1051.9,941.0 L1055.9,944.6 L1060.2,947.8 L1064.7,949.7 L1068.5,953.0 L1072.7,955.4 M1104.0,876.5 L1109.0,875.2 L1111.5,879.0 L1107.7,881.5 L1103.2,880.2Z M1087.7,850.2 L1094.0,855.2 L1097.7,857.7 L1091.4,859.0 L1087.7,855.2Z M985.0,747.5 L992.5,750.1 L996.3,754.5 L1001.3,757.6 L995.1,758.8 L991.0,756.8 L987.5,753.8Z M960.0,768.8 L965.3,771.5 L970.0,775.1 M970.0,717.5 L971.9,721.6 L975.0,725.0 L977.4,728.8 L980.0,732.5 L975.0,730.0 L971.3,723.8Z M983.8,730.0 L986.3,737.5 M1263.0,880.2 L1266.7,875.2 L1271.1,873.9 L1275.5,872.7 L1283.0,875.2 L1286.7,881.5 L1283.0,886.5 L1278.0,887.0 L1273.0,887.8 L1266.7,885.3Z M1295.5,854.0 L1303.0,852.2 L1310.5,851.5 M1274.2,902.8 L1279.2,900.8 L1284.2,901.5 L1279.2,904.0Z M1731.7,213.9 L1738.0,216.4 L1744.3,221.4 L1748.1,223.8 L1751.8,226.4 L1749.3,231.4 L1744.9,232.6 L1740.5,233.9 L1736.8,236.4 L1733.0,232.7 L1731.7,225.2 L1730.5,218.9Z M1710.5,197.6 L1716.7,198.9 L1719.2,202.6 L1714.2,201.4Z M1720.5,201.4 L1728.0,203.1 L1730.5,207.1 L1724.2,207.6 L1721.7,204.6Z M1691.7,191.3 L1696.7,188.8 L1701.7,192.6 L1700.5,196.4 L1695.4,195.6Z M1665.4,181.3 L1670.4,179.6 L1673.4,182.6 L1670.4,185.6 L1666.6,184.6Z M1448.8,811.4 L1453.8,810.1 L1460.1,812.1 L1458.8,814.6 L1452.6,814.4Z M295.4,446.7 L293.7,441.7 L297.0,435.9 L303.7,432.5 L310.4,435.9 L315.4,434.2 L320.4,431.7 L327.1,433.4 L328.7,441.7 L330.4,450.1 L335.4,456.7 L342.1,460.9 L348.8,464.2 L353.8,468.4 L355.5,463.4 L356.3,456.7 L357.1,450.1 L358.2,445.7 L360.5,441.7 L363.8,446.7 L365.5,453.4 L367.1,456.7 L370.5,450.1 L373.1,446.3 L373.8,441.7 L375.5,435.0 L373.8,426.7 L370.5,420.0 M290.7,453.4 L292.9,450.9 L297.0,450.6 L300.0,453.1 L297.9,455.9 L293.4,456.2Z M708.3,305.8 L710.8,301.5 L712.3,302.3 L709.8,306.8Z" fill="none" stroke="#000" stroke-width="2.7" stroke-linejoin="round" stroke-linecap="round"/>
<circle cx="325.4" cy="142.5" r="2.7" fill="#000"/>
<circle cx="332.9" cy="140.9" r="2.7" fill="#000"/>
<circle cx="353.8" cy="135.0" r="2.0" fill="#000"/>
<circle cx="292.0" cy="205.1" r="2.3" fill="#000"/>
<circle cx="294.5" cy="211.0" r="1.8" fill="#000"/>
<circle cx="285.3" cy="230.2" r="2.3" fill="#000"/>
<circle cx="281.2" cy="234.3" r="2.0" fill="#000"/>
<circle cx="292.9" cy="236.9" r="2.3" fill="#000"/>
<circle cx="164.3" cy="140.0" r="1.7" fill="#000"/>
<circle cx="293.8" cy="307.9" r="4.5" fill="#000"/>
<circle cx="293.4" cy="310.5" r="3.4" fill="#000"/>
<circle cx="262.5" cy="327.6" r="2.8" fill="#000"/>
<circle cx="257.9" cy="354.7" r="3.2" fill="#000"/>
<circle cx="264.2" cy="356.8" r="2.8" fill="#000"/>
<circle cx="259.2" cy="361.0" r="2.8" fill="#000"/>
<circle cx="255.9" cy="368.0" r="2.8" fill="#000"/>
<circle cx="295.9" cy="348.4" r="2.8" fill="#000"/>
<circle cx="294.7" cy="354.3" r="2.8" fill="#000"/>
<circle cx="304.3" cy="350.5" r="2.5" fill="#000"/>
<circle cx="306.4" cy="352.6" r="2.3" fill="#000"/>
<circle cx="311.0" cy="339.7" r="2.3" fill="#000"/>
<circle cx="315.1" cy="343.4" r="2.3" fill="#000"/>
<circle cx="323.5" cy="347.6" r="2.8" fill="#000"/>
<circle cx="337.7" cy="365.1" r="3.4" fill="#000"/>
<circle cx="342.7" cy="367.6" r="2.8" fill="#000"/>
<circle cx="325.1" cy="371.8" r="2.3" fill="#000"/>
<circle cx="335.2" cy="381.8" r="2.0" fill="#000"/>
<circle cx="357.7" cy="390.1" r="3.7" fill="#000"/>
<circle cx="365.2" cy="395.1" r="3.7" fill="#000"/>
<circle cx="322.6" cy="407.6" r="3.0" fill="#000"/>
<circle cx="342.7" cy="407.6" r="3.0" fill="#000"/>
<circle cx="277.6" cy="463.9" r="3.4" fill="#000"/>
<circle cx="282.6" cy="464.6" r="3.0" fill="#000"/>
<circle cx="260.0" cy="478.3" r="3.4" fill="#000"/>
<circle cx="108.4" cy="523.5" r="2.7" fill="#000"/>
<circle cx="216.9" cy="510.2" r="2.3" fill="#000"/>
<circle cx="219.4" cy="496.8" r="3.2" fill="#000"/>
<circle cx="357.1" cy="506.0" r="2.5" fill="#000"/>
<circle cx="353.8" cy="521.0" r="2.0" fill="#000"/>
<circle cx="378.8" cy="493.5" r="2.5" fill="#000"/>
<circle cx="379.7" cy="498.5" r="2.5" fill="#000"/>
<circle cx="279.5" cy="464.2" r="3.2" fill="#000"/>
<circle cx="282.8" cy="464.7" r="2.7" fill="#000"/>
<circle cx="259.5" cy="477.6" r="3.2" fill="#000"/>
<circle cx="262.8" cy="476.8" r="2.7" fill="#000"/>
<circle cx="313.9" cy="601.3" r="2.4" fill="#000"/>
<circle cx="322.6" cy="598.8" r="2.0" fill="#000"/>
<circle cx="327.0" cy="603.2" r="2.4" fill="#000"/>
<circle cx="392.1" cy="626.4" r="2.0" fill="#000"/>
<circle cx="290.7" cy="576.9" r="2.7" fill="#000"/>
<circle cx="292.6" cy="576.3" r="2.0" fill="#000"/>
<circle cx="241.3" cy="551.3" r="2.7" fill="#000"/>
<circle cx="322.0" cy="661.4" r="2.4" fill="#000"/>
<circle cx="330.1" cy="672.7" r="2.4" fill="#000"/>
<circle cx="445.3" cy="571.9" r="2.7" fill="#000"/>
<circle cx="452.8" cy="573.2" r="2.4" fill="#000"/>
<circle cx="388.4" cy="554.3" r="2.9" fill="#000"/>
<circle cx="389.7" cy="567.7" r="2.5" fill="#000"/>
<circle cx="378.8" cy="490.9" r="3.4" fill="#000"/>
<circle cx="379.2" cy="495.0" r="3.2" fill="#000"/>
<circle cx="378.0" cy="500.1" r="3.4" fill="#000"/>
<circle cx="356.7" cy="506.7" r="3.2" fill="#000"/>
<circle cx="354.2" cy="520.9" r="2.7" fill="#000"/>
<circle cx="424.3" cy="570.2" r="2.7" fill="#000"/>
<circle cx="426.0" cy="571.4" r="2.3" fill="#000"/>
<circle cx="385.1" cy="575.2" r="3.2" fill="#000"/>
<circle cx="389.2" cy="576.8" r="2.9" fill="#000"/>
<circle cx="393.4" cy="578.5" r="2.7" fill="#000"/>
<circle cx="386.7" cy="581.0" r="2.9" fill="#000"/>
<circle cx="391.8" cy="582.7" r="2.9" fill="#000"/>
<circle cx="396.8" cy="583.5" r="2.5" fill="#000"/>
<circle cx="355.4" cy="506.4" r="3.4" fill="#000"/>
<circle cx="354.2" cy="521.4" r="2.7" fill="#000"/>
<circle cx="377.9" cy="492.6" r="3.0" fill="#000"/>
<circle cx="379.2" cy="500.1" r="3.0" fill="#000"/>
<circle cx="260.3" cy="477.6" r="4.1" fill="#000"/>
<circle cx="280.3" cy="464.6" r="4.1" fill="#000"/>
<circle cx="295.3" cy="452.5" r="4.4" fill="#000"/>
<circle cx="131.3" cy="669.9" r="2.7" fill="#000"/>
<circle cx="272.8" cy="692.4" r="2.7" fill="#000"/>
<circle cx="178.9" cy="689.7" r="3.4" fill="#000"/>
<circle cx="161.4" cy="692.9" r="2.0" fill="#000"/>
<circle cx="330.4" cy="672.9" r="2.4" fill="#000"/>
<circle cx="322.9" cy="661.6" r="2.4" fill="#000"/>
<circle cx="410.5" cy="694.2" r="2.7" fill="#000"/>
<circle cx="430.5" cy="706.7" r="3.4" fill="#000"/>
<circle cx="398.0" cy="711.7" r="2.7" fill="#000"/>
<circle cx="327.9" cy="602.8" r="2.4" fill="#000"/>
<circle cx="130.9" cy="670.0" r="2.3" fill="#000"/>
<circle cx="178.5" cy="689.7" r="2.7" fill="#000"/>
<circle cx="161.0" cy="693.7" r="1.8" fill="#000"/>
<circle cx="272.0" cy="692.7" r="2.3" fill="#000"/>
<circle cx="250.3" cy="718.4" r="2.7" fill="#000"/>
<circle cx="322.9" cy="661.7" r="2.0" fill="#000"/>
<circle cx="329.6" cy="672.5" r="2.0" fill="#000"/>
<circle cx="389.7" cy="701.8" r="2.0" fill="#000"/>
<circle cx="358.0" cy="713.1" r="2.0" fill="#000"/>
<circle cx="397.2" cy="711.8" r="2.7" fill="#000"/>
<circle cx="292.0" cy="752.7" r="2.7" fill="#000"/>
<circle cx="312.9" cy="756.8" r="2.7" fill="#000"/>
<circle cx="175.2" cy="721.8" r="1.8" fill="#000"/>
<circle cx="181.8" cy="722.1" r="1.8" fill="#000"/>
<circle cx="188.5" cy="723.1" r="1.8" fill="#000"/>
<circle cx="520.8" cy="586.9" r="4.2" fill="#000"/>
<circle cx="424.4" cy="570.0" r="3.7" fill="#000"/>
<circle cx="401.3" cy="597.6" r="3.4" fill="#000"/>
<circle cx="512.1" cy="605.1" r="3.0" fill="#000"/>
<circle cx="521.0" cy="587.0" r="3.6" fill="#000"/>
<circle cx="714.6" cy="649.3" r="2.7" fill="#000"/>
<circle cx="734.7" cy="662.1" r="2.7" fill="#000"/>
<circle cx="748.8" cy="666.8" r="2.0" fill="#000"/>
<circle cx="758.0" cy="666.8" r="2.0" fill="#000"/>
<circle cx="648.7" cy="746.9" r="3.2" fill="#000"/>
<circle cx="647.8" cy="756.1" r="2.7" fill="#000"/>
<circle cx="654.5" cy="757.0" r="2.3" fill="#000"/>
<circle cx="779.3" cy="594.2" r="4.5" fill="#000"/>
<circle cx="734.2" cy="662.6" r="3.2" fill="#000"/>
<circle cx="749.2" cy="667.6" r="3.6" fill="#000"/>
<circle cx="886.1" cy="692.7" r="3.2" fill="#000"/>
<circle cx="945.4" cy="727.2" r="2.7" fill="#000"/>
<circle cx="964.6" cy="727.2" r="2.7" fill="#000"/>
<circle cx="804.3" cy="718.5" r="2.3" fill="#000"/>
<circle cx="833.5" cy="727.2" r="3.2" fill="#000"/>
<circle cx="836.9" cy="728.9" r="2.7" fill="#000"/>
<circle cx="844.4" cy="769.5" r="4.1" fill="#000"/>
<circle cx="848.5" cy="771.1" r="3.2" fill="#000"/>
<circle cx="858.6" cy="767.8" r="3.2" fill="#000"/>
<circle cx="800.1" cy="754.4" r="2.3" fill="#000"/>
<circle cx="848.5" cy="639.2" r="1.8" fill="#000"/>
<circle cx="805.1" cy="744.4" r="2.3" fill="#000"/>
<circle cx="178.9" cy="932.8" r="3.0" fill="#000"/>
<circle cx="291.6" cy="753.1" r="4.1" fill="#000"/>
<circle cx="312.8" cy="757.6" r="4.7" fill="#000"/>
<circle cx="317.9" cy="755.1" r="3.4" fill="#000"/>
<circle cx="403.0" cy="835.2" r="2.7" fill="#000"/>
<circle cx="425.5" cy="832.2" r="2.7" fill="#000"/>
<circle cx="543.8" cy="810.1" r="2.7" fill="#000"/>
<circle cx="553.8" cy="843.9" r="3.4" fill="#000"/>
<circle cx="601.4" cy="866.5" r="2.7" fill="#000"/>
<circle cx="648.9" cy="747.0" r="4.1" fill="#000"/>
<circle cx="648.2" cy="755.1" r="3.4" fill="#000"/>
<circle cx="655.2" cy="756.3" r="2.7" fill="#000"/>
<circle cx="717.8" cy="890.3" r="3.4" fill="#000"/>
<circle cx="841.7" cy="1002.9" r="3.4" fill="#000"/>
<circle cx="766.6" cy="922.3" r="2.7" fill="#000"/>
<circle cx="834.2" cy="727.0" r="4.7" fill="#000"/>
<circle cx="856.8" cy="767.6" r="3.4" fill="#000"/>
<circle cx="845.5" cy="768.8" r="3.4" fill="#000"/>
<circle cx="945.6" cy="727.0" r="3.4" fill="#000"/>
<circle cx="965.7" cy="772.6" r="3.4" fill="#000"/>
<circle cx="1065.2" cy="757.1" r="4.1" fill="#000"/>
<circle cx="1080.2" cy="772.6" r="3.0" fill="#000"/>
<circle cx="1091.4" cy="810.1" r="3.4" fill="#000"/>
<circle cx="1091.9" cy="817.7" r="3.4" fill="#000"/>
<circle cx="1076.4" cy="826.4" r="3.0" fill="#000"/>
<circle cx="1091.4" cy="854.0" r="3.4" fill="#000"/>
<circle cx="1102.7" cy="852.7" r="2.7" fill="#000"/>
<circle cx="1106.5" cy="862.7" r="2.7" fill="#000"/>
<circle cx="1120.2" cy="896.5" r="2.7" fill="#000"/>
<circle cx="1132.8" cy="922.8" r="2.4" fill="#000"/>
<circle cx="1075.2" cy="929.1" r="2.7" fill="#000"/>
<circle cx="1086.4" cy="935.3" r="4.1" fill="#000"/>
<circle cx="1100.2" cy="945.3" r="4.1" fill="#000"/>
<circle cx="1091.9" cy="964.9" r="2.7" fill="#000"/>
<circle cx="1259.2" cy="787.6" r="2.7" fill="#000"/>
<circle cx="1296.8" cy="717.5" r="2.4" fill="#000"/>
<circle cx="1344.3" cy="818.9" r="2.7" fill="#000"/>
<circle cx="1377.6" cy="801.4" r="2.4" fill="#000"/>
<circle cx="1340.6" cy="882.8" r="2.7" fill="#000"/>
<circle cx="1331.8" cy="887.8" r="2.4" fill="#000"/>
<circle cx="1299.3" cy="884.8" r="2.7" fill="#000"/>
<circle cx="1313.0" cy="900.8" r="2.7" fill="#000"/>
<circle cx="1335.6" cy="904.0" r="2.7" fill="#000"/>
<circle cx="1415.7" cy="894.8" r="2.7" fill="#000"/>
<circle cx="1215.9" cy="948.6" r="1.7" fill="#000"/>
<circle cx="1261.7" cy="867.7" r="2.4" fill="#000"/>
<circle cx="1657.9" cy="185.1" r="2.7" fill="#000"/>
<circle cx="1713.0" cy="204.6" r="2.0" fill="#000"/>
<circle cx="1704.2" cy="168.8" r="1.7" fill="#000"/>
<circle cx="1114.0" cy="440.5" r="3.0" fill="#000"/>
<circle cx="1156.5" cy="444.3" r="3.0" fill="#000"/>
<circle cx="1165.3" cy="445.8" r="2.7" fill="#000"/>
<circle cx="1130.3" cy="465.6" r="3.4" fill="#000"/>
<circle cx="1012.6" cy="475.6" r="2.4" fill="#000"/>
<circle cx="1185.3" cy="515.1" r="3.0" fill="#000"/>
<circle cx="1187.8" cy="535.7" r="2.7" fill="#000"/>
<circle cx="1187.8" cy="554.0" r="2.7" fill="#000"/>
<circle cx="1212.9" cy="580.2" r="3.0" fill="#000"/>
<circle cx="1219.1" cy="590.3" r="3.0" fill="#000"/>
<circle cx="1406.9" cy="650.8" r="2.4" fill="#000"/>
<circle cx="1251.7" cy="697.4" r="1.7" fill="#000"/>
<circle cx="1296.8" cy="717.4" r="2.0" fill="#000"/>
<circle cx="1281.7" cy="710.4" r="1.7" fill="#000"/>
<circle cx="1127.8" cy="584.0" r="1.7" fill="#000"/>
<circle cx="1672.9" cy="501.4" r="3.0" fill="#000"/>
<circle cx="1749.3" cy="639.8" r="2.0" fill="#000"/>
<circle cx="1733.0" cy="667.4" r="2.0" fill="#000"/>
<circle cx="1406.3" cy="650.8" r="2.0" fill="#000"/>
<circle cx="1447.6" cy="647.8" r="2.0" fill="#000"/>
<circle cx="1463.8" cy="647.1" r="1.7" fill="#000"/>
<circle cx="1466.3" cy="623.3" r="1.7" fill="#000"/>
<circle cx="1804.9" cy="768.8" r="2.0" fill="#000"/>
<circle cx="1810.6" cy="861.5" r="2.7" fill="#000"/>
<circle cx="1811.4" cy="864.7" r="2.4" fill="#000"/>
<circle cx="1416.3" cy="894.8" r="2.7" fill="#000"/>
<circle cx="1664.9" cy="940.3" r="2.7" fill="#000"/>
<circle cx="1475.1" cy="818.2" r="2.4" fill="#000"/>
<circle cx="1442.6" cy="809.6" r="2.4" fill="#000"/>
<circle cx="1080.9" cy="373.4" r="1.7" fill="#000"/>
<circle cx="929.4" cy="448.0" r="3.7" fill="#000"/>
<circle cx="814.2" cy="439.5" r="1.7" fill="#000"/>
<circle cx="817.9" cy="438.0" r="1.7" fill="#000"/>
<circle cx="779.1" cy="594.0" r="4.1" fill="#000"/>
<circle cx="849.2" cy="639.1" r="2.0" fill="#000"/>
<circle cx="709.5" cy="239.7" r="2.4" fill="#000"/>
<circle cx="711.5" cy="250.2" r="2.0" fill="#000"/>
<circle cx="709.5" cy="282.7" r="2.7" fill="#000"/>
<circle cx="701.5" cy="320.3" r="2.0" fill="#000"/>
<circle cx="577.6" cy="402.4" r="3.4" fill="#000"/>
<circle cx="664.0" cy="269.0" r="1.7" fill="#000"/>
<line x1="260.5" y1="131" x2="260.5" y2="1008" stroke="#000" stroke-width="1.1" stroke-dasharray="5.3,2.3"/>
<line x1="1311.5" y1="131" x2="1311.5" y2="1008" stroke="#000" stroke-width="1.1" stroke-dasharray="5.3,2.3"/>
<line x1="85" y1="219.5" x2="1837" y2="219.5" stroke="#000" stroke-width="1.1" stroke-dasharray="5.3,2.3"/>
<line x1="85" y1="394.5" x2="1837" y2="394.5" stroke="#000" stroke-width="1.1" stroke-dasharray="5.3,2.3"/>
<line x1="85" y1="569.5" x2="1837" y2="569.5" stroke="#000" stroke-width="1.1" stroke-dasharray="5.3,2.3"/>
<line x1="85" y1="744.5" x2="1837" y2="744.5" stroke="#000" stroke-width="1.1" stroke-dasharray="5.3,2.3"/>
<line x1="85" y1="919.5" x2="1837" y2="919.5" stroke="#000" stroke-width="1.1" stroke-dasharray="5.3,2.3"/>
</g>
<circle cx="1493.9" cy="276" r="6.7" fill="#fff" stroke="#000" stroke-width="1.4"/>
<circle cx="694.5" cy="333.3" r="7.6" fill="#fff" stroke="#000" stroke-width="1.4"/>
<circle cx="1076.4" cy="230.9" r="6.7" fill="#fff" stroke="#000" stroke-width="1.4"/>
<circle cx="1625.3" cy="466.3" r="6.7" fill="#fff" stroke="#000" stroke-width="1.4"/>
<circle cx="1705.5" cy="535.9" r="7.4" fill="#fff" stroke="#000" stroke-width="1.4"/>
<circle cx="1351.3" cy="548.2" r="6.7" fill="#fff" stroke="#000" stroke-width="1.4"/>
<circle cx="1661.6" cy="576.2" r="6.7" fill="#fff" stroke="#000" stroke-width="1.4"/>
<circle cx="1457.6" cy="618.3" r="7.4" fill="#fff" stroke="#000" stroke-width="1.4"/>
<circle cx="1191.6" cy="545.2" r="7.4" fill="#fff" stroke="#000" stroke-width="1.4"/>
<circle cx="1082.7" cy="578.2" r="7.4" fill="#fff" stroke="#000" stroke-width="1.4"/>
<circle cx="1453.8" cy="730" r="7.4" fill="#fff" stroke="#000" stroke-width="1.4"/>
<circle cx="1440.6" cy="801.4" r="7.4" fill="#fff" stroke="#000" stroke-width="1.4"/>
<circle cx="1478.4" cy="828.2" r="7.4" fill="#fff" stroke="#000" stroke-width="1.4"/>
<circle cx="1490.1" cy="904.5" r="7.4" fill="#fff" stroke="#000" stroke-width="1.4"/>
<circle cx="1276.2" cy="880.2" r="7.4" fill="#fff" stroke="#000" stroke-width="1.4"/>
<text x="1703.3" y="177.1" font-family="Liberation Sans, sans-serif" font-size="33.8" fill="#000" stroke="#fff" stroke-width="4.4" stroke-linejoin="round" paint-order="stroke">Hawaii</text>
<text x="1505.7" y="275.2" font-family="Liberation Sans, sans-serif" font-size="24.8" fill="#000" stroke="#fff" stroke-width="4.4" stroke-linejoin="round" paint-order="stroke">Johnston</text>
<text x="664.3" y="276.5" font-family="Liberation Sans, sans-serif" font-size="33.8" fill="#000" stroke="#fff" stroke-width="4.4" stroke-linejoin="round" paint-order="stroke">CNMI</text>
<text x="705.1" y="334" font-family="Liberation Sans, sans-serif" font-size="33.8" fill="#000" stroke="#fff" stroke-width="4.4" stroke-linejoin="round" paint-order="stroke">Guam</text>
<text x="459.1" y="464.6" font-family="Liberation Sans, sans-serif" font-size="33.8" fill="#000" stroke="#fff" stroke-width="4.4" stroke-linejoin="round" paint-order="stroke">Palau</text>
<text x="645.0" y="432.5" font-family="Liberation Sans, sans-serif" font-size="33.8" fill="#000" stroke="#fff" stroke-width="4.4" stroke-linejoin="round" paint-order="stroke">Federated States</text>
<text x="646.3" y="471.3" font-family="Liberation Sans, sans-serif" font-size="33.8" fill="#000" stroke="#fff" stroke-width="4.4" stroke-linejoin="round" paint-order="stroke">of Micronesia</text>
<text x="998.9" y="404.2" font-family="Liberation Sans, sans-serif" font-size="33.8" fill="#000" stroke="#fff" stroke-width="4.4" stroke-linejoin="round" paint-order="stroke">Marshall Is.</text>
<text x="1088.2" y="229.7" font-family="Liberation Sans, sans-serif" font-size="24.8" fill="#000" stroke="#fff" stroke-width="4.4" stroke-linejoin="round" paint-order="stroke">Wake</text>
<text x="1634.6" y="465.1" font-family="Liberation Sans, sans-serif" font-size="24.8" fill="#000" stroke="#fff" stroke-width="4.4" stroke-linejoin="round" paint-order="stroke">Palmyra</text>
<text x="1714.1" y="537.2" font-family="Liberation Sans, sans-serif" font-size="33.8" fill="#000" stroke="#fff" stroke-width="4.4" stroke-linejoin="round" paint-order="stroke">Kiritimati</text>
<text x="1361.1" y="547.7" font-family="Liberation Sans, sans-serif" font-size="24.8" fill="#000" stroke="#fff" stroke-width="4.4" stroke-linejoin="round" paint-order="stroke">Howland and Baker Is.</text>
<text x="1671.7" y="575.2" font-family="Liberation Sans, sans-serif" font-size="24.8" fill="#000" stroke="#fff" stroke-width="4.4" stroke-linejoin="round" paint-order="stroke">Jarvis</text>
<text x="1465.5" y="619.5" font-family="Liberation Sans, sans-serif" font-size="33.8" fill="#000" stroke="#fff" stroke-width="4.4" stroke-linejoin="round" paint-order="stroke">Kanton</text>
<text x="1203.4" y="545.2" font-family="Liberation Sans, sans-serif" font-size="33.8" fill="#000" stroke="#fff" stroke-width="4.4" stroke-linejoin="round" paint-order="stroke">Tarawa</text>
<text x="1092.5" y="579" font-family="Liberation Sans, sans-serif" font-size="33.8" fill="#000" stroke="#fff" stroke-width="4.4" stroke-linejoin="round" paint-order="stroke">Nauru</text>
<text x="920.2" y="696.7" font-family="Liberation Sans, sans-serif" font-size="33.8" fill="#000" stroke="#fff" stroke-width="4.4" stroke-linejoin="round" paint-order="stroke">Solomon Is.</text>
<text x="1252.7" y="705.4" font-family="Liberation Sans, sans-serif" font-size="33.8" fill="#000" stroke="#fff" stroke-width="4.4" stroke-linejoin="round" paint-order="stroke">Tuvalu</text>
<text x="1465.8" y="731.3" font-family="Liberation Sans, sans-serif" font-size="33.8" fill="#000" stroke="#fff" stroke-width="4.4" stroke-linejoin="round" paint-order="stroke">Tokelau</text>
<text x="1450.1" y="800.9" font-family="Liberation Sans, sans-serif" font-size="33.8" fill="#000" stroke="#fff" stroke-width="4.4" stroke-linejoin="round" paint-order="stroke">Samoa</text>
<text x="1489.6" y="829.7" font-family="Liberation Sans, sans-serif" font-size="33.8" fill="#000" stroke="#fff" stroke-width="4.4" stroke-linejoin="round" paint-order="stroke">Am. Samoa</text>
<text x="1498.7" y="904.5" font-family="Liberation Sans, sans-serif" font-size="33.8" fill="#000" stroke="#fff" stroke-width="4.4" stroke-linejoin="round" paint-order="stroke">Niue</text>
<text x="1609.9" y="924.8" font-family="Liberation Sans, sans-serif" font-size="33.8" fill="#000" stroke="#fff" stroke-width="4.4" stroke-linejoin="round" paint-order="stroke">Cook Is.</text>
<text x="1374.9" y="959.1" font-family="Liberation Sans, sans-serif" font-size="33.8" fill="#000" stroke="#fff" stroke-width="4.4" stroke-linejoin="round" paint-order="stroke">Tonga</text>
<text x="1285.3" y="880.2" font-family="Liberation Sans, sans-serif" font-size="33.8" fill="#000" stroke="#fff" stroke-width="4.4" stroke-linejoin="round" paint-order="stroke">Fiji</text>
<text x="1042.1" y="850.2" font-family="Liberation Sans, sans-serif" font-size="33.8" fill="#000" stroke="#fff" stroke-width="4.4" stroke-linejoin="round" paint-order="stroke">Vanuatu</text>
<text x="912.4" y="919.1" font-family="Liberation Sans, sans-serif" font-size="33.8" fill="#000" stroke="#fff" stroke-width="4.4" stroke-linejoin="round" paint-order="stroke">New Caledonia</text>
<text x="569.1" y="623.3" font-family="Liberation Sans, sans-serif" font-size="33.8" fill="#000" stroke="#fff" stroke-width="4.4" stroke-linejoin="round" paint-order="stroke">Papua New Guinea</text>
<text x="119" y="247.5" transform="rotate(0 119 247.5)" font-family="Liberation Sans, sans-serif" font-size="17" text-anchor="middle" fill="#000">-3</text>
<text x="158" y="298" transform="rotate(0 158 298)" font-family="Liberation Sans, sans-serif" font-size="17" text-anchor="middle" fill="#000">1</text>
<text x="136" y="423" transform="rotate(0 136 423)" font-family="Liberation Sans, sans-serif" font-size="17" text-anchor="middle" fill="#000">5</text>
<text x="91" y="389" transform="rotate(0 91 389)" font-family="Liberation Sans, sans-serif" font-size="17" text-anchor="middle" fill="#000">5</text>
<text x="600" y="313" transform="rotate(0 600 313)" font-family="Liberation Sans, sans-serif" font-size="17" text-anchor="middle" fill="#000">1</text>
<text x="1120" y="269" transform="rotate(12 1120 269)" font-family="Liberation Sans, sans-serif" font-size="17" text-anchor="middle" fill="#000">-1</text>
<text x="1121.5" y="178" transform="rotate(-55 1121.5 178)" font-family="Liberation Sans, sans-serif" font-size="17" text-anchor="middle" fill="#000">1</text>
<text x="1060" y="382" transform="rotate(12 1060 382)" font-family="Liberation Sans, sans-serif" font-size="17" text-anchor="middle" fill="#000">-3</text>
<text x="1612" y="261" transform="rotate(-15 1612 261)" font-family="Liberation Sans, sans-serif" font-size="17" text-anchor="middle" fill="#000">-1</text>
<text x="1084" y="458.5" transform="rotate(15 1084 458.5)" font-family="Liberation Sans, sans-serif" font-size="17" text-anchor="middle" fill="#000">-5</text>
<text x="1320" y="569" transform="rotate(0 1320 569)" font-family="Liberation Sans, sans-serif" font-size="17" text-anchor="middle" fill="#000">-5</text>
<text x="1496" y="501" transform="rotate(0 1496 501)" font-family="Liberation Sans, sans-serif" font-size="17" text-anchor="middle" fill="#000">-5</text>
<text x="1732" y="641" transform="rotate(0 1732 641)" font-family="Liberation Sans, sans-serif" font-size="17" text-anchor="middle" fill="#000">-3</text>
<text x="1386" y="710" transform="rotate(0 1386 710)" font-family="Liberation Sans, sans-serif" font-size="17" text-anchor="middle" fill="#000">-1</text>
<text x="1653.4" y="790" transform="rotate(10 1653.4 790)" font-family="Liberation Sans, sans-serif" font-size="17" text-anchor="middle" fill="#000">1</text>
<text x="1278" y="863" transform="rotate(15 1278 863)" font-family="Liberation Sans, sans-serif" font-size="17" text-anchor="middle" fill="#000">1</text>
<text x="1744.3" y="899" transform="rotate(5 1744.3 899)" font-family="Liberation Sans, sans-serif" font-size="17" text-anchor="middle" fill="#000">1</text>
<text x="1037.6" y="1008" transform="rotate(0 1037.6 1008)" font-family="Liberation Sans, sans-serif" font-size="17" text-anchor="middle" fill="#000">3</text>
<text x="656.5" y="899" transform="rotate(-60 656.5 899)" font-family="Liberation Sans, sans-serif" font-size="17" text-anchor="middle" fill="#000">3</text>
<text x="863.6" y="694" transform="rotate(0 863.6 694)" font-family="Liberation Sans, sans-serif" font-size="17" text-anchor="middle" fill="#000">1</text>
<text x="291.6" y="852" transform="rotate(0 291.6 852)" font-family="Liberation Sans, sans-serif" font-size="17" text-anchor="middle" fill="#000">1</text>
<text x="273.3" y="935" transform="rotate(30 273.3 935)" font-family="Liberation Sans, sans-serif" font-size="17" text-anchor="middle" fill="#000">1</text>
<text x="530" y="937" transform="rotate(-30 530 937)" font-family="Liberation Sans, sans-serif" font-size="17" text-anchor="middle" fill="#000">1</text>
<text x="209" y="467" transform="rotate(10 209 467)" font-family="Liberation Sans, sans-serif" font-size="15" text-anchor="middle" fill="#000">1</text>
<text x="131.3" y="577" transform="rotate(0 131.3 577)" font-family="Liberation Sans, sans-serif" font-size="15" text-anchor="middle" fill="#000">1</text>
<text x="220.2" y="575" transform="rotate(-40 220.2 575)" font-family="Liberation Sans, sans-serif" font-size="15" text-anchor="middle" fill="#000">1</text>
<text x="301.6" y="542" transform="rotate(20 301.6 542)" font-family="Liberation Sans, sans-serif" font-size="15" text-anchor="middle" fill="#000">1</text>
<text x="351.7" y="625" transform="rotate(30 351.7 625)" font-family="Liberation Sans, sans-serif" font-size="15" text-anchor="middle" fill="#000">1</text>
<text x="518" y="611" transform="rotate(30 518 611)" font-family="Liberation Sans, sans-serif" font-size="15" text-anchor="middle" fill="#000">-1</text>
<text x="365.4" y="501" transform="rotate(-30 365.4 501)" font-family="Liberation Sans, sans-serif" font-size="15" text-anchor="middle" fill="#000">3</text>
<text x="396.7" y="527" transform="rotate(-30 396.7 527)" font-family="Liberation Sans, sans-serif" font-size="15" text-anchor="middle" fill="#000">3</text>
<text x="416.8" y="586" transform="rotate(-30 416.8 586)" font-family="Liberation Sans, sans-serif" font-size="15" text-anchor="middle" fill="#000">3</text>
<text x="538.5" y="643" transform="rotate(0 538.5 643)" font-family="Liberation Sans, sans-serif" font-size="14" text-anchor="middle" fill="#000">3</text>
<text x="561.9" y="652" transform="rotate(10 561.9 652)" font-family="Liberation Sans, sans-serif" font-size="14" text-anchor="middle" fill="#000">1</text>
<text x="577.7" y="655" transform="rotate(10 577.7 655)" font-family="Liberation Sans, sans-serif" font-size="14" text-anchor="middle" fill="#000">5</text>
<text x="591" y="659" transform="rotate(10 591 659)" font-family="Liberation Sans, sans-serif" font-size="14" text-anchor="middle" fill="#000">1</text>
<text x="667" y="638" transform="rotate(10 667 638)" font-family="Liberation Sans, sans-serif" font-size="15" text-anchor="middle" fill="#000">-1</text>
<text x="726" y="659" transform="rotate(10 726 659)" font-family="Liberation Sans, sans-serif" font-size="15" text-anchor="middle" fill="#000">-1</text>
<text x="792.6" y="641" transform="rotate(30 792.6 641)" font-family="Liberation Sans, sans-serif" font-size="15" text-anchor="middle" fill="#000">1</text>
<text x="316.2" y="734" transform="rotate(0 316.2 734)" font-family="Liberation Sans, sans-serif" font-size="15" text-anchor="middle" fill="#000">1</text>
<text x="453" y="733" transform="rotate(10 453 733)" font-family="Liberation Sans, sans-serif" font-size="15" text-anchor="middle" fill="#000">1</text>
<text x="792.9" y="767" transform="rotate(30 792.9 767)" font-family="Liberation Sans, sans-serif" font-size="15" text-anchor="middle" fill="#000">1</text>
<text x="708" y="659" transform="rotate(0 708 659)" font-family="Liberation Sans, sans-serif" font-size="14" text-anchor="middle" fill="#000">-1</text>
<text x="452" y="731" transform="rotate(0 452 731)" font-family="Liberation Sans, sans-serif" font-size="14" text-anchor="middle" fill="#000">1</text>
<rect x="85.3" y="131.3" width="1751.5" height="876" fill="none" stroke="#000" stroke-width="1.3"/>
</svg></body></html>
